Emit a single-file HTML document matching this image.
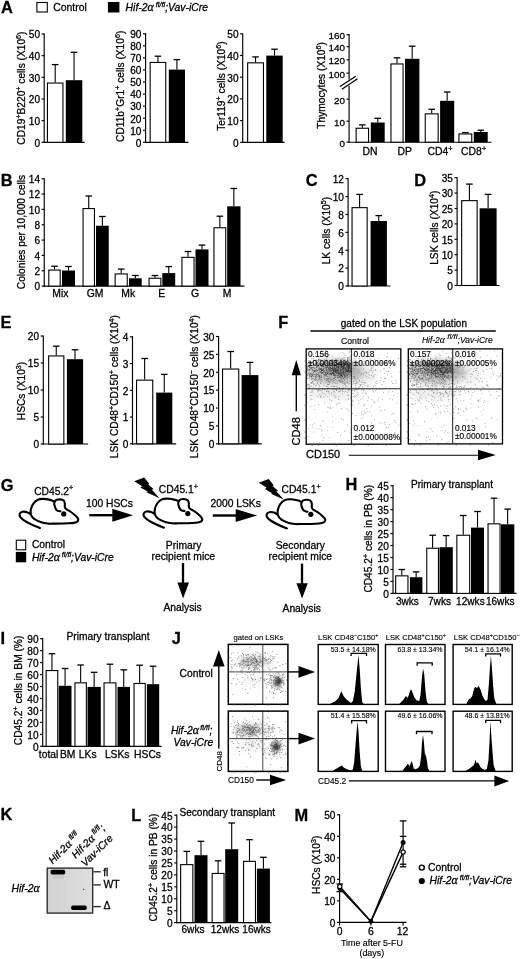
<!DOCTYPE html>
<html><head><meta charset="utf-8"><style>
html,body{margin:0;padding:0;background:#fff;}
svg{display:block;}
text{font-family:"Liberation Sans",sans-serif;fill:#000;stroke:#000;stroke-width:0.28px;}
svg{will-change:transform;filter:blur(0.3px);}
</style></head><body>
<svg width="520" height="959" viewBox="0 0 520 959">
<defs><filter id="dotblur" x="0" y="0" width="100%" height="100%"><feGaussianBlur stdDeviation="0.3"/></filter>
<filter id="b1" x="-100%" y="-100%" width="300%" height="300%"><feGaussianBlur stdDeviation="1.2"/></filter>
<filter id="b2" x="-100%" y="-100%" width="300%" height="300%"><feGaussianBlur stdDeviation="2"/></filter>
<filter id="b3" x="-100%" y="-100%" width="300%" height="300%"><feGaussianBlur stdDeviation="3"/></filter></defs>
<rect x="0" y="0" width="520" height="959" fill="#fff"/>
<text x="1.09" y="13.30" font-size="16.40" font-weight="bold">A</text>
<rect x="36.90" y="2.50" width="10.40" height="9.50" fill="#fff" stroke="#000" stroke-width="1.10"/>
<text x="53.30" y="10.80" font-size="10.40">Control</text>
<rect x="107.90" y="2.00" width="11.50" height="10.50" fill="#000"/>
<text x="125.60" y="10.80" font-size="10.40"><tspan font-style="italic">Hif-2</tspan><tspan font-style="italic" font-family="Liberation Serif" font-size="11.96">α</tspan><tspan font-style="italic" font-size="7.28" dy="-4.16"> fl/fl</tspan><tspan font-style="italic" dy="4.16">;Vav-iCre</tspan></text>
<line x1="44.20" y1="33.40" x2="44.20" y2="142.90" stroke="#000" stroke-width="1.15"/>
<line x1="41.60" y1="142.30" x2="44.20" y2="142.30" stroke="#000" stroke-width="1.15"/>
<text x="40.00" y="146.64" font-size="10.10" text-anchor="end">0</text>
<line x1="41.60" y1="120.64" x2="44.20" y2="120.64" stroke="#000" stroke-width="1.15"/>
<text x="40.00" y="124.98" font-size="10.10" text-anchor="end">10</text>
<line x1="41.60" y1="98.98" x2="44.20" y2="98.98" stroke="#000" stroke-width="1.15"/>
<text x="40.00" y="103.32" font-size="10.10" text-anchor="end">20</text>
<line x1="41.60" y1="77.32" x2="44.20" y2="77.32" stroke="#000" stroke-width="1.15"/>
<text x="40.00" y="81.66" font-size="10.10" text-anchor="end">30</text>
<line x1="41.60" y1="55.66" x2="44.20" y2="55.66" stroke="#000" stroke-width="1.15"/>
<text x="40.00" y="60.00" font-size="10.10" text-anchor="end">40</text>
<line x1="41.60" y1="34.00" x2="44.20" y2="34.00" stroke="#000" stroke-width="1.15"/>
<text x="40.00" y="38.34" font-size="10.10" text-anchor="end">50</text>
<line x1="43.60" y1="142.30" x2="84.60" y2="142.30" stroke="#000" stroke-width="1.15"/>
<line x1="55.20" y1="82.50" x2="55.20" y2="64.60" stroke="#000" stroke-width="1.10"/>
<line x1="51.90" y1="64.60" x2="58.50" y2="64.60" stroke="#000" stroke-width="1.30"/>
<rect x="47.45" y="83.05" width="15.50" height="59.25" fill="#fff" stroke="#000" stroke-width="1.10"/>
<line x1="74.05" y1="80.20" x2="74.05" y2="52.30" stroke="#000" stroke-width="1.10"/>
<line x1="70.75" y1="52.30" x2="77.35" y2="52.30" stroke="#000" stroke-width="1.30"/>
<rect x="65.80" y="80.20" width="16.50" height="62.10" fill="#000"/>
<text x="25.10" y="88.10" font-size="10.20" text-anchor="middle" transform="rotate(-90 25.10 88.10)"><tspan>CD19</tspan><tspan font-size="7.14" dy="-4.08">+</tspan><tspan dy="4.08">B220</tspan><tspan font-size="7.14" dy="-4.08">+</tspan><tspan dy="4.08"> cells (X10</tspan><tspan font-size="7.14" dy="-4.08">6</tspan><tspan dy="4.08">)</tspan></text>
<line x1="145.60" y1="33.20" x2="145.60" y2="142.90" stroke="#000" stroke-width="1.15"/>
<line x1="143.00" y1="142.30" x2="145.60" y2="142.30" stroke="#000" stroke-width="1.15"/>
<text x="141.40" y="146.64" font-size="10.10" text-anchor="end">0</text>
<line x1="143.00" y1="130.24" x2="145.60" y2="130.24" stroke="#000" stroke-width="1.15"/>
<text x="141.40" y="134.58" font-size="10.10" text-anchor="end">10</text>
<line x1="143.00" y1="118.19" x2="145.60" y2="118.19" stroke="#000" stroke-width="1.15"/>
<text x="141.40" y="122.52" font-size="10.10" text-anchor="end">20</text>
<line x1="143.00" y1="106.13" x2="145.60" y2="106.13" stroke="#000" stroke-width="1.15"/>
<text x="141.40" y="110.47" font-size="10.10" text-anchor="end">30</text>
<line x1="143.00" y1="94.08" x2="145.60" y2="94.08" stroke="#000" stroke-width="1.15"/>
<text x="141.40" y="98.41" font-size="10.10" text-anchor="end">40</text>
<line x1="143.00" y1="82.02" x2="145.60" y2="82.02" stroke="#000" stroke-width="1.15"/>
<text x="141.40" y="86.36" font-size="10.10" text-anchor="end">50</text>
<line x1="143.00" y1="69.97" x2="145.60" y2="69.97" stroke="#000" stroke-width="1.15"/>
<text x="141.40" y="74.30" font-size="10.10" text-anchor="end">60</text>
<line x1="143.00" y1="57.91" x2="145.60" y2="57.91" stroke="#000" stroke-width="1.15"/>
<text x="141.40" y="62.25" font-size="10.10" text-anchor="end">70</text>
<line x1="143.00" y1="45.86" x2="145.60" y2="45.86" stroke="#000" stroke-width="1.15"/>
<text x="141.40" y="50.19" font-size="10.10" text-anchor="end">80</text>
<line x1="143.00" y1="33.80" x2="145.60" y2="33.80" stroke="#000" stroke-width="1.15"/>
<text x="141.40" y="38.14" font-size="10.10" text-anchor="end">90</text>
<line x1="145.00" y1="142.30" x2="188.50" y2="142.30" stroke="#000" stroke-width="1.15"/>
<line x1="157.95" y1="61.90" x2="157.95" y2="56.20" stroke="#000" stroke-width="1.10"/>
<line x1="154.65" y1="56.20" x2="161.25" y2="56.20" stroke="#000" stroke-width="1.30"/>
<rect x="150.15" y="62.45" width="15.60" height="79.85" fill="#fff" stroke="#000" stroke-width="1.10"/>
<line x1="176.90" y1="69.60" x2="176.90" y2="59.60" stroke="#000" stroke-width="1.10"/>
<line x1="173.60" y1="59.60" x2="180.20" y2="59.60" stroke="#000" stroke-width="1.30"/>
<rect x="168.80" y="69.60" width="16.20" height="72.70" fill="#000"/>
<text x="124.50" y="86.30" font-size="10.20" text-anchor="middle" transform="rotate(-90 124.50 86.30)"><tspan>CD11b</tspan><tspan font-size="7.14" dy="-4.08">+</tspan><tspan dy="4.08">Gr1</tspan><tspan font-size="7.14" dy="-4.08">+</tspan><tspan dy="4.08"> cells (X10</tspan><tspan font-size="7.14" dy="-4.08">6</tspan><tspan dy="4.08">)</tspan></text>
<line x1="242.70" y1="33.20" x2="242.70" y2="142.90" stroke="#000" stroke-width="1.15"/>
<line x1="240.10" y1="142.30" x2="242.70" y2="142.30" stroke="#000" stroke-width="1.15"/>
<text x="238.50" y="146.64" font-size="10.10" text-anchor="end">0</text>
<line x1="240.10" y1="120.60" x2="242.70" y2="120.60" stroke="#000" stroke-width="1.15"/>
<text x="238.50" y="124.94" font-size="10.10" text-anchor="end">10</text>
<line x1="240.10" y1="98.90" x2="242.70" y2="98.90" stroke="#000" stroke-width="1.15"/>
<text x="238.50" y="103.24" font-size="10.10" text-anchor="end">20</text>
<line x1="240.10" y1="77.20" x2="242.70" y2="77.20" stroke="#000" stroke-width="1.15"/>
<text x="238.50" y="81.54" font-size="10.10" text-anchor="end">30</text>
<line x1="240.10" y1="55.50" x2="242.70" y2="55.50" stroke="#000" stroke-width="1.15"/>
<text x="238.50" y="59.84" font-size="10.10" text-anchor="end">40</text>
<line x1="240.10" y1="33.80" x2="242.70" y2="33.80" stroke="#000" stroke-width="1.15"/>
<text x="238.50" y="38.14" font-size="10.10" text-anchor="end">50</text>
<line x1="242.10" y1="142.30" x2="284.60" y2="142.30" stroke="#000" stroke-width="1.15"/>
<line x1="255.55" y1="62.30" x2="255.55" y2="56.90" stroke="#000" stroke-width="1.10"/>
<line x1="252.25" y1="56.90" x2="258.85" y2="56.90" stroke="#000" stroke-width="1.30"/>
<rect x="247.65" y="62.85" width="15.80" height="79.45" fill="#fff" stroke="#000" stroke-width="1.10"/>
<line x1="274.50" y1="55.60" x2="274.50" y2="49.20" stroke="#000" stroke-width="1.10"/>
<line x1="271.20" y1="49.20" x2="277.80" y2="49.20" stroke="#000" stroke-width="1.30"/>
<rect x="266.30" y="55.60" width="16.40" height="86.70" fill="#000"/>
<text x="224.60" y="86.10" font-size="10.20" text-anchor="middle" transform="rotate(-90 224.60 86.10)"><tspan>Ter119</tspan><tspan font-size="7.14" dy="-4.08">+</tspan><tspan dy="4.08"> cells (X10</tspan><tspan font-size="7.14" dy="-4.08">6</tspan><tspan dy="4.08">)</tspan></text>
<line x1="349.10" y1="34.10" x2="349.10" y2="79.60" stroke="#000" stroke-width="1.15"/>
<line x1="349.10" y1="85.80" x2="349.10" y2="142.80" stroke="#000" stroke-width="1.15"/>
<line x1="346.50" y1="142.10" x2="349.10" y2="142.10" stroke="#000" stroke-width="1.15"/>
<text x="344.90" y="146.70" font-size="9.90" text-anchor="end">0</text>
<line x1="346.50" y1="121.20" x2="349.10" y2="121.20" stroke="#000" stroke-width="1.15"/>
<text x="344.90" y="125.80" font-size="9.90" text-anchor="end">10</text>
<line x1="346.50" y1="99.20" x2="349.10" y2="99.20" stroke="#000" stroke-width="1.15"/>
<text x="344.90" y="103.80" font-size="9.90" text-anchor="end">20</text>
<line x1="346.50" y1="73.20" x2="349.10" y2="73.20" stroke="#000" stroke-width="1.15"/>
<text x="344.90" y="77.80" font-size="9.90" text-anchor="end">100</text>
<line x1="346.50" y1="59.80" x2="349.10" y2="59.80" stroke="#000" stroke-width="1.15"/>
<text x="344.90" y="64.40" font-size="9.90" text-anchor="end">120</text>
<line x1="346.50" y1="46.70" x2="349.10" y2="46.70" stroke="#000" stroke-width="1.15"/>
<text x="344.90" y="51.30" font-size="9.90" text-anchor="end">140</text>
<line x1="346.50" y1="34.70" x2="349.10" y2="34.70" stroke="#000" stroke-width="1.15"/>
<text x="344.90" y="39.30" font-size="9.90" text-anchor="end">160</text>
<line x1="340.00" y1="86.50" x2="355.80" y2="76.30" stroke="#000" stroke-width="1.30"/>
<line x1="341.90" y1="89.20" x2="357.50" y2="78.80" stroke="#000" stroke-width="1.30"/>
<line x1="348.50" y1="142.20" x2="491.50" y2="142.20" stroke="#000" stroke-width="1.15"/>
<line x1="362.35" y1="127.70" x2="362.35" y2="124.90" stroke="#000" stroke-width="1.10"/>
<line x1="359.05" y1="124.90" x2="365.65" y2="124.90" stroke="#000" stroke-width="1.30"/>
<rect x="356.15" y="128.25" width="12.40" height="13.95" fill="#fff" stroke="#000" stroke-width="1.10"/>
<line x1="377.75" y1="122.50" x2="377.75" y2="118.30" stroke="#000" stroke-width="1.10"/>
<line x1="374.45" y1="118.30" x2="381.05" y2="118.30" stroke="#000" stroke-width="1.30"/>
<rect x="370.80" y="122.50" width="13.90" height="19.70" fill="#000"/>
<line x1="397.00" y1="63.40" x2="397.00" y2="57.80" stroke="#000" stroke-width="1.10"/>
<line x1="393.70" y1="57.80" x2="400.30" y2="57.80" stroke="#000" stroke-width="1.30"/>
<rect x="390.95" y="63.95" width="12.10" height="78.25" fill="#fff" stroke="#000" stroke-width="1.10"/>
<line x1="412.20" y1="58.80" x2="412.20" y2="46.20" stroke="#000" stroke-width="1.10"/>
<line x1="408.90" y1="46.20" x2="415.50" y2="46.20" stroke="#000" stroke-width="1.30"/>
<rect x="405.00" y="58.80" width="14.40" height="83.40" fill="#000"/>
<line x1="431.70" y1="113.30" x2="431.70" y2="109.30" stroke="#000" stroke-width="1.10"/>
<line x1="428.40" y1="109.30" x2="435.00" y2="109.30" stroke="#000" stroke-width="1.30"/>
<rect x="425.25" y="113.85" width="12.90" height="28.35" fill="#fff" stroke="#000" stroke-width="1.10"/>
<line x1="447.15" y1="100.80" x2="447.15" y2="92.00" stroke="#000" stroke-width="1.10"/>
<line x1="443.85" y1="92.00" x2="450.45" y2="92.00" stroke="#000" stroke-width="1.30"/>
<rect x="440.10" y="100.80" width="14.10" height="41.40" fill="#000"/>
<line x1="465.35" y1="133.40" x2="465.35" y2="132.60" stroke="#000" stroke-width="1.10"/>
<line x1="462.05" y1="132.60" x2="468.65" y2="132.60" stroke="#000" stroke-width="1.30"/>
<rect x="458.95" y="133.95" width="12.80" height="8.25" fill="#fff" stroke="#000" stroke-width="1.10"/>
<line x1="480.75" y1="132.00" x2="480.75" y2="130.20" stroke="#000" stroke-width="1.10"/>
<line x1="477.45" y1="130.20" x2="484.05" y2="130.20" stroke="#000" stroke-width="1.30"/>
<rect x="473.80" y="132.00" width="13.90" height="10.20" fill="#000"/>
<text x="369.90" y="154.90" font-size="10.40" text-anchor="middle">DN</text>
<text x="404.60" y="154.90" font-size="10.40" text-anchor="middle">DP</text>
<text x="427.50" y="154.90" font-size="10.40"><tspan>CD4</tspan><tspan font-size="7.28" dy="-4.16">+</tspan></text>
<text x="461.10" y="154.90" font-size="10.40"><tspan>CD8</tspan><tspan font-size="7.28" dy="-4.16">+</tspan></text>
<text x="324.70" y="85.40" font-size="10.20" text-anchor="middle" transform="rotate(-90 324.70 85.40)"><tspan>Thymocytes (X10</tspan><tspan font-size="7.14" dy="-4.08">6</tspan><tspan dy="4.08">)</tspan></text>
<text x="0.73" y="185.80" font-size="16.40" font-weight="bold">B</text>
<line x1="44.25" y1="178.15" x2="44.25" y2="286.70" stroke="#000" stroke-width="1.15"/>
<line x1="41.65" y1="286.10" x2="44.25" y2="286.10" stroke="#000" stroke-width="1.15"/>
<text x="40.05" y="290.44" font-size="10.10" text-anchor="end">0</text>
<line x1="41.65" y1="270.76" x2="44.25" y2="270.76" stroke="#000" stroke-width="1.15"/>
<text x="40.05" y="275.10" font-size="10.10" text-anchor="end">2</text>
<line x1="41.65" y1="255.43" x2="44.25" y2="255.43" stroke="#000" stroke-width="1.15"/>
<text x="40.05" y="259.76" font-size="10.10" text-anchor="end">4</text>
<line x1="41.65" y1="240.09" x2="44.25" y2="240.09" stroke="#000" stroke-width="1.15"/>
<text x="40.05" y="244.43" font-size="10.10" text-anchor="end">6</text>
<line x1="41.65" y1="224.76" x2="44.25" y2="224.76" stroke="#000" stroke-width="1.15"/>
<text x="40.05" y="229.09" font-size="10.10" text-anchor="end">8</text>
<line x1="41.65" y1="209.42" x2="44.25" y2="209.42" stroke="#000" stroke-width="1.15"/>
<text x="40.05" y="213.76" font-size="10.10" text-anchor="end">10</text>
<line x1="41.65" y1="194.09" x2="44.25" y2="194.09" stroke="#000" stroke-width="1.15"/>
<text x="40.05" y="198.42" font-size="10.10" text-anchor="end">12</text>
<line x1="41.65" y1="178.75" x2="44.25" y2="178.75" stroke="#000" stroke-width="1.15"/>
<text x="40.05" y="183.09" font-size="10.10" text-anchor="end">14</text>
<line x1="43.65" y1="286.10" x2="244.50" y2="286.10" stroke="#000" stroke-width="1.15"/>
<line x1="54.50" y1="269.50" x2="54.50" y2="266.25" stroke="#000" stroke-width="1.10"/>
<line x1="51.20" y1="266.25" x2="57.80" y2="266.25" stroke="#000" stroke-width="1.30"/>
<rect x="48.80" y="270.05" width="11.40" height="16.05" fill="#fff" stroke="#000" stroke-width="1.10"/>
<line x1="68.50" y1="270.50" x2="68.50" y2="266.50" stroke="#000" stroke-width="1.10"/>
<line x1="65.20" y1="266.50" x2="71.80" y2="266.50" stroke="#000" stroke-width="1.30"/>
<rect x="62.00" y="270.50" width="13.00" height="15.60" fill="#000"/>
<line x1="88.75" y1="208.00" x2="88.75" y2="196.00" stroke="#000" stroke-width="1.10"/>
<line x1="85.45" y1="196.00" x2="92.05" y2="196.00" stroke="#000" stroke-width="1.30"/>
<rect x="83.05" y="208.55" width="11.40" height="77.55" fill="#fff" stroke="#000" stroke-width="1.10"/>
<line x1="102.38" y1="225.75" x2="102.38" y2="216.50" stroke="#000" stroke-width="1.10"/>
<line x1="99.08" y1="216.50" x2="105.67" y2="216.50" stroke="#000" stroke-width="1.30"/>
<rect x="96.00" y="225.75" width="12.75" height="60.35" fill="#000"/>
<line x1="121.20" y1="273.40" x2="121.20" y2="269.10" stroke="#000" stroke-width="1.10"/>
<line x1="117.90" y1="269.10" x2="124.50" y2="269.10" stroke="#000" stroke-width="1.30"/>
<rect x="115.15" y="273.95" width="12.10" height="12.15" fill="#fff" stroke="#000" stroke-width="1.10"/>
<line x1="135.35" y1="278.30" x2="135.35" y2="275.50" stroke="#000" stroke-width="1.10"/>
<line x1="132.05" y1="275.50" x2="138.65" y2="275.50" stroke="#000" stroke-width="1.30"/>
<rect x="129.00" y="278.30" width="12.70" height="7.80" fill="#000"/>
<line x1="154.95" y1="277.70" x2="154.95" y2="275.50" stroke="#000" stroke-width="1.10"/>
<line x1="151.65" y1="275.50" x2="158.25" y2="275.50" stroke="#000" stroke-width="1.30"/>
<rect x="149.05" y="278.25" width="11.80" height="7.85" fill="#fff" stroke="#000" stroke-width="1.10"/>
<line x1="168.75" y1="273.10" x2="168.75" y2="266.60" stroke="#000" stroke-width="1.10"/>
<line x1="165.45" y1="266.60" x2="172.05" y2="266.60" stroke="#000" stroke-width="1.30"/>
<rect x="162.30" y="273.10" width="12.90" height="13.00" fill="#000"/>
<line x1="188.00" y1="256.80" x2="188.00" y2="251.50" stroke="#000" stroke-width="1.10"/>
<line x1="184.70" y1="251.50" x2="191.30" y2="251.50" stroke="#000" stroke-width="1.30"/>
<rect x="181.95" y="257.35" width="12.10" height="28.75" fill="#fff" stroke="#000" stroke-width="1.10"/>
<line x1="202.00" y1="249.40" x2="202.00" y2="245.10" stroke="#000" stroke-width="1.10"/>
<line x1="198.70" y1="245.10" x2="205.30" y2="245.10" stroke="#000" stroke-width="1.30"/>
<rect x="195.50" y="249.40" width="13.00" height="36.70" fill="#000"/>
<line x1="219.85" y1="227.20" x2="219.85" y2="216.20" stroke="#000" stroke-width="1.10"/>
<line x1="216.55" y1="216.20" x2="223.15" y2="216.20" stroke="#000" stroke-width="1.30"/>
<rect x="213.95" y="227.75" width="11.80" height="58.35" fill="#fff" stroke="#000" stroke-width="1.10"/>
<line x1="233.85" y1="206.30" x2="233.85" y2="188.50" stroke="#000" stroke-width="1.10"/>
<line x1="230.55" y1="188.50" x2="237.15" y2="188.50" stroke="#000" stroke-width="1.30"/>
<rect x="227.20" y="206.30" width="13.30" height="79.80" fill="#000"/>
<text x="60.40" y="296.60" font-size="10.40" text-anchor="middle">Mix</text>
<text x="95.00" y="296.60" font-size="10.40" text-anchor="middle">GM</text>
<text x="128.20" y="296.60" font-size="10.40" text-anchor="middle">Mk</text>
<text x="161.80" y="296.60" font-size="10.40" text-anchor="middle">E</text>
<text x="195.00" y="296.60" font-size="10.40" text-anchor="middle">G</text>
<text x="227.00" y="296.60" font-size="10.40" text-anchor="middle">M</text>
<text x="25.10" y="232.00" font-size="10.20" text-anchor="middle" transform="rotate(-90 25.10 232.00)"><tspan>Colonies per 10,000 cells</tspan></text>
<text x="305.84" y="186.20" font-size="16.40" font-weight="bold">C</text>
<line x1="348.10" y1="178.10" x2="348.10" y2="286.60" stroke="#000" stroke-width="1.15"/>
<line x1="345.50" y1="286.00" x2="348.10" y2="286.00" stroke="#000" stroke-width="1.15"/>
<text x="343.90" y="290.34" font-size="10.10" text-anchor="end">0</text>
<line x1="345.50" y1="268.12" x2="348.10" y2="268.12" stroke="#000" stroke-width="1.15"/>
<text x="343.90" y="272.45" font-size="10.10" text-anchor="end">2</text>
<line x1="345.50" y1="250.23" x2="348.10" y2="250.23" stroke="#000" stroke-width="1.15"/>
<text x="343.90" y="254.57" font-size="10.10" text-anchor="end">4</text>
<line x1="345.50" y1="232.35" x2="348.10" y2="232.35" stroke="#000" stroke-width="1.15"/>
<text x="343.90" y="236.69" font-size="10.10" text-anchor="end">6</text>
<line x1="345.50" y1="214.47" x2="348.10" y2="214.47" stroke="#000" stroke-width="1.15"/>
<text x="343.90" y="218.80" font-size="10.10" text-anchor="end">8</text>
<line x1="345.50" y1="196.58" x2="348.10" y2="196.58" stroke="#000" stroke-width="1.15"/>
<text x="343.90" y="200.92" font-size="10.10" text-anchor="end">10</text>
<line x1="345.50" y1="178.70" x2="348.10" y2="178.70" stroke="#000" stroke-width="1.15"/>
<text x="343.90" y="183.04" font-size="10.10" text-anchor="end">12</text>
<line x1="347.50" y1="286.00" x2="390.40" y2="286.00" stroke="#000" stroke-width="1.15"/>
<line x1="359.60" y1="207.10" x2="359.60" y2="194.40" stroke="#000" stroke-width="1.10"/>
<line x1="356.30" y1="194.40" x2="362.90" y2="194.40" stroke="#000" stroke-width="1.30"/>
<rect x="352.05" y="207.65" width="15.10" height="78.35" fill="#fff" stroke="#000" stroke-width="1.10"/>
<line x1="378.75" y1="221.00" x2="378.75" y2="215.60" stroke="#000" stroke-width="1.10"/>
<line x1="375.45" y1="215.60" x2="382.05" y2="215.60" stroke="#000" stroke-width="1.30"/>
<rect x="370.60" y="221.00" width="16.30" height="65.00" fill="#000"/>
<text x="329.60" y="230.60" font-size="10.20" text-anchor="middle" transform="rotate(-90 329.60 230.60)"><tspan>LK cells (X10</tspan><tspan font-size="7.14" dy="-4.08">5</tspan><tspan dy="4.08">)</tspan></text>
<text x="414.23" y="186.00" font-size="16.40" font-weight="bold">D</text>
<line x1="457.10" y1="177.10" x2="457.10" y2="286.10" stroke="#000" stroke-width="1.15"/>
<line x1="454.50" y1="285.50" x2="457.10" y2="285.50" stroke="#000" stroke-width="1.15"/>
<text x="452.90" y="289.84" font-size="10.10" text-anchor="end">0</text>
<line x1="454.50" y1="270.10" x2="457.10" y2="270.10" stroke="#000" stroke-width="1.15"/>
<text x="452.90" y="274.44" font-size="10.10" text-anchor="end">5</text>
<line x1="454.50" y1="254.70" x2="457.10" y2="254.70" stroke="#000" stroke-width="1.15"/>
<text x="452.90" y="259.04" font-size="10.10" text-anchor="end">10</text>
<line x1="454.50" y1="239.30" x2="457.10" y2="239.30" stroke="#000" stroke-width="1.15"/>
<text x="452.90" y="243.64" font-size="10.10" text-anchor="end">15</text>
<line x1="454.50" y1="223.90" x2="457.10" y2="223.90" stroke="#000" stroke-width="1.15"/>
<text x="452.90" y="228.24" font-size="10.10" text-anchor="end">20</text>
<line x1="454.50" y1="208.50" x2="457.10" y2="208.50" stroke="#000" stroke-width="1.15"/>
<text x="452.90" y="212.84" font-size="10.10" text-anchor="end">25</text>
<line x1="454.50" y1="193.10" x2="457.10" y2="193.10" stroke="#000" stroke-width="1.15"/>
<text x="452.90" y="197.44" font-size="10.10" text-anchor="end">30</text>
<line x1="454.50" y1="177.70" x2="457.10" y2="177.70" stroke="#000" stroke-width="1.15"/>
<text x="452.90" y="182.04" font-size="10.10" text-anchor="end">35</text>
<line x1="456.50" y1="285.50" x2="499.50" y2="285.50" stroke="#000" stroke-width="1.15"/>
<line x1="469.40" y1="200.10" x2="469.40" y2="184.10" stroke="#000" stroke-width="1.10"/>
<line x1="466.10" y1="184.10" x2="472.70" y2="184.10" stroke="#000" stroke-width="1.30"/>
<rect x="461.65" y="200.65" width="15.50" height="84.85" fill="#fff" stroke="#000" stroke-width="1.10"/>
<line x1="488.10" y1="208.30" x2="488.10" y2="194.40" stroke="#000" stroke-width="1.10"/>
<line x1="484.80" y1="194.40" x2="491.40" y2="194.40" stroke="#000" stroke-width="1.30"/>
<rect x="479.60" y="208.30" width="17.00" height="77.20" fill="#000"/>
<text x="438.00" y="227.70" font-size="10.20" text-anchor="middle" transform="rotate(-90 438.00 227.70)"><tspan>LSK cells (X10</tspan><tspan font-size="7.14" dy="-4.08">4</tspan><tspan dy="4.08">)</tspan></text>
<text x="0.43" y="327.50" font-size="16.40" font-weight="bold">E</text>
<line x1="43.30" y1="335.40" x2="43.30" y2="444.60" stroke="#000" stroke-width="1.15"/>
<line x1="40.70" y1="444.00" x2="43.30" y2="444.00" stroke="#000" stroke-width="1.15"/>
<text x="39.10" y="448.34" font-size="10.10" text-anchor="end">0</text>
<line x1="40.70" y1="417.00" x2="43.30" y2="417.00" stroke="#000" stroke-width="1.15"/>
<text x="39.10" y="421.34" font-size="10.10" text-anchor="end">5</text>
<line x1="40.70" y1="390.00" x2="43.30" y2="390.00" stroke="#000" stroke-width="1.15"/>
<text x="39.10" y="394.34" font-size="10.10" text-anchor="end">10</text>
<line x1="40.70" y1="363.00" x2="43.30" y2="363.00" stroke="#000" stroke-width="1.15"/>
<text x="39.10" y="367.34" font-size="10.10" text-anchor="end">15</text>
<line x1="40.70" y1="336.00" x2="43.30" y2="336.00" stroke="#000" stroke-width="1.15"/>
<text x="39.10" y="340.34" font-size="10.10" text-anchor="end">20</text>
<line x1="42.70" y1="444.00" x2="88.10" y2="444.00" stroke="#000" stroke-width="1.15"/>
<line x1="56.25" y1="355.40" x2="56.25" y2="346.20" stroke="#000" stroke-width="1.10"/>
<line x1="52.95" y1="346.20" x2="59.55" y2="346.20" stroke="#000" stroke-width="1.30"/>
<rect x="48.65" y="355.95" width="15.20" height="88.05" fill="#fff" stroke="#000" stroke-width="1.10"/>
<line x1="75.00" y1="359.20" x2="75.00" y2="349.80" stroke="#000" stroke-width="1.10"/>
<line x1="71.70" y1="349.80" x2="78.30" y2="349.80" stroke="#000" stroke-width="1.30"/>
<rect x="66.90" y="359.20" width="16.20" height="84.80" fill="#000"/>
<text x="25.00" y="391.00" font-size="10.20" text-anchor="middle" transform="rotate(-90 25.00 391.00)"><tspan>HSCs (X10</tspan><tspan font-size="7.14" dy="-4.08">3</tspan><tspan dy="4.08">)</tspan></text>
<line x1="132.50" y1="336.20" x2="132.50" y2="444.40" stroke="#000" stroke-width="1.15"/>
<line x1="129.90" y1="443.80" x2="132.50" y2="443.80" stroke="#000" stroke-width="1.15"/>
<text x="128.30" y="448.14" font-size="10.10" text-anchor="end">0</text>
<line x1="129.90" y1="417.05" x2="132.50" y2="417.05" stroke="#000" stroke-width="1.15"/>
<text x="128.30" y="421.39" font-size="10.10" text-anchor="end">1</text>
<line x1="129.90" y1="390.30" x2="132.50" y2="390.30" stroke="#000" stroke-width="1.15"/>
<text x="128.30" y="394.64" font-size="10.10" text-anchor="end">2</text>
<line x1="129.90" y1="363.55" x2="132.50" y2="363.55" stroke="#000" stroke-width="1.15"/>
<text x="128.30" y="367.89" font-size="10.10" text-anchor="end">3</text>
<line x1="129.90" y1="336.80" x2="132.50" y2="336.80" stroke="#000" stroke-width="1.15"/>
<text x="128.30" y="341.14" font-size="10.10" text-anchor="end">4</text>
<line x1="131.90" y1="443.80" x2="176.20" y2="443.80" stroke="#000" stroke-width="1.15"/>
<line x1="144.65" y1="379.60" x2="144.65" y2="358.50" stroke="#000" stroke-width="1.10"/>
<line x1="141.35" y1="358.50" x2="147.95" y2="358.50" stroke="#000" stroke-width="1.30"/>
<rect x="136.55" y="380.15" width="16.20" height="63.65" fill="#fff" stroke="#000" stroke-width="1.10"/>
<line x1="164.25" y1="392.60" x2="164.25" y2="374.40" stroke="#000" stroke-width="1.10"/>
<line x1="160.95" y1="374.40" x2="167.55" y2="374.40" stroke="#000" stroke-width="1.30"/>
<rect x="156.20" y="392.60" width="16.10" height="51.20" fill="#000"/>
<text x="118.40" y="386.60" font-size="10.20" text-anchor="middle" transform="rotate(-90 118.40 386.60)"><tspan>LSK CD48</tspan><tspan font-size="7.14" dy="-4.08">+</tspan><tspan dy="4.08">CD150</tspan><tspan font-size="7.14" dy="-4.08">+</tspan><tspan dy="4.08"> cells (X10</tspan><tspan font-size="7.14" dy="-4.08">4</tspan><tspan dy="4.08">)</tspan></text>
<line x1="218.60" y1="335.90" x2="218.60" y2="444.40" stroke="#000" stroke-width="1.15"/>
<line x1="216.00" y1="443.80" x2="218.60" y2="443.80" stroke="#000" stroke-width="1.15"/>
<text x="214.40" y="448.14" font-size="10.10" text-anchor="end">0</text>
<line x1="216.00" y1="425.92" x2="218.60" y2="425.92" stroke="#000" stroke-width="1.15"/>
<text x="214.40" y="430.25" font-size="10.10" text-anchor="end">5</text>
<line x1="216.00" y1="408.03" x2="218.60" y2="408.03" stroke="#000" stroke-width="1.15"/>
<text x="214.40" y="412.37" font-size="10.10" text-anchor="end">10</text>
<line x1="216.00" y1="390.15" x2="218.60" y2="390.15" stroke="#000" stroke-width="1.15"/>
<text x="214.40" y="394.49" font-size="10.10" text-anchor="end">15</text>
<line x1="216.00" y1="372.27" x2="218.60" y2="372.27" stroke="#000" stroke-width="1.15"/>
<text x="214.40" y="376.60" font-size="10.10" text-anchor="end">20</text>
<line x1="216.00" y1="354.38" x2="218.60" y2="354.38" stroke="#000" stroke-width="1.15"/>
<text x="214.40" y="358.72" font-size="10.10" text-anchor="end">25</text>
<line x1="216.00" y1="336.50" x2="218.60" y2="336.50" stroke="#000" stroke-width="1.15"/>
<text x="214.40" y="340.84" font-size="10.10" text-anchor="end">30</text>
<line x1="218.00" y1="443.80" x2="261.80" y2="443.80" stroke="#000" stroke-width="1.15"/>
<line x1="230.65" y1="368.50" x2="230.65" y2="351.50" stroke="#000" stroke-width="1.10"/>
<line x1="227.35" y1="351.50" x2="233.95" y2="351.50" stroke="#000" stroke-width="1.30"/>
<rect x="222.55" y="369.05" width="16.20" height="74.75" fill="#fff" stroke="#000" stroke-width="1.10"/>
<line x1="250.00" y1="375.10" x2="250.00" y2="362.40" stroke="#000" stroke-width="1.10"/>
<line x1="246.70" y1="362.40" x2="253.30" y2="362.40" stroke="#000" stroke-width="1.30"/>
<rect x="241.60" y="375.10" width="16.80" height="68.70" fill="#000"/>
<text x="198.20" y="386.60" font-size="10.20" text-anchor="middle" transform="rotate(-90 198.20 386.60)"><tspan>LSK CD48</tspan><tspan font-size="7.14" dy="-4.08">+</tspan><tspan dy="4.08">CD150</tspan><tspan font-size="7.14" dy="-4.08">−</tspan><tspan dy="4.08"> cells (X10</tspan><tspan font-size="7.14" dy="-4.08">4</tspan><tspan dy="4.08">)</tspan></text>
<text x="345.43" y="490.20" font-size="16.40" font-weight="bold">H</text>
<line x1="393.00" y1="485.10" x2="393.00" y2="594.00" stroke="#000" stroke-width="1.15"/>
<line x1="390.40" y1="593.40" x2="393.00" y2="593.40" stroke="#000" stroke-width="1.15"/>
<text x="388.80" y="597.74" font-size="10.10" text-anchor="end">0</text>
<line x1="390.40" y1="581.43" x2="393.00" y2="581.43" stroke="#000" stroke-width="1.15"/>
<text x="388.80" y="585.77" font-size="10.10" text-anchor="end">5</text>
<line x1="390.40" y1="569.47" x2="393.00" y2="569.47" stroke="#000" stroke-width="1.15"/>
<text x="388.80" y="573.80" font-size="10.10" text-anchor="end">10</text>
<line x1="390.40" y1="557.50" x2="393.00" y2="557.50" stroke="#000" stroke-width="1.15"/>
<text x="388.80" y="561.84" font-size="10.10" text-anchor="end">15</text>
<line x1="390.40" y1="545.53" x2="393.00" y2="545.53" stroke="#000" stroke-width="1.15"/>
<text x="388.80" y="549.87" font-size="10.10" text-anchor="end">20</text>
<line x1="390.40" y1="533.57" x2="393.00" y2="533.57" stroke="#000" stroke-width="1.15"/>
<text x="388.80" y="537.90" font-size="10.10" text-anchor="end">25</text>
<line x1="390.40" y1="521.60" x2="393.00" y2="521.60" stroke="#000" stroke-width="1.15"/>
<text x="388.80" y="525.94" font-size="10.10" text-anchor="end">30</text>
<line x1="390.40" y1="509.63" x2="393.00" y2="509.63" stroke="#000" stroke-width="1.15"/>
<text x="388.80" y="513.97" font-size="10.10" text-anchor="end">35</text>
<line x1="390.40" y1="497.67" x2="393.00" y2="497.67" stroke="#000" stroke-width="1.15"/>
<text x="388.80" y="502.00" font-size="10.10" text-anchor="end">40</text>
<line x1="390.40" y1="485.70" x2="393.00" y2="485.70" stroke="#000" stroke-width="1.15"/>
<text x="388.80" y="490.04" font-size="10.10" text-anchor="end">45</text>
<line x1="392.40" y1="593.40" x2="516.50" y2="593.40" stroke="#000" stroke-width="1.15"/>
<line x1="401.80" y1="575.30" x2="401.80" y2="569.50" stroke="#000" stroke-width="1.10"/>
<line x1="398.50" y1="569.50" x2="405.10" y2="569.50" stroke="#000" stroke-width="1.30"/>
<rect x="395.65" y="575.85" width="12.30" height="17.55" fill="#fff" stroke="#000" stroke-width="1.10"/>
<line x1="416.15" y1="577.20" x2="416.15" y2="571.90" stroke="#000" stroke-width="1.10"/>
<line x1="412.85" y1="571.90" x2="419.45" y2="571.90" stroke="#000" stroke-width="1.30"/>
<rect x="409.90" y="577.20" width="12.50" height="16.20" fill="#000"/>
<line x1="432.60" y1="547.70" x2="432.60" y2="535.20" stroke="#000" stroke-width="1.10"/>
<line x1="429.30" y1="535.20" x2="435.90" y2="535.20" stroke="#000" stroke-width="1.30"/>
<rect x="426.75" y="548.25" width="11.70" height="45.15" fill="#fff" stroke="#000" stroke-width="1.10"/>
<line x1="446.15" y1="547.20" x2="446.15" y2="535.60" stroke="#000" stroke-width="1.10"/>
<line x1="442.85" y1="535.60" x2="449.45" y2="535.60" stroke="#000" stroke-width="1.30"/>
<rect x="439.50" y="547.20" width="13.30" height="46.20" fill="#000"/>
<line x1="463.25" y1="534.70" x2="463.25" y2="515.50" stroke="#000" stroke-width="1.10"/>
<line x1="459.95" y1="515.50" x2="466.55" y2="515.50" stroke="#000" stroke-width="1.30"/>
<rect x="456.85" y="535.25" width="12.80" height="58.15" fill="#fff" stroke="#000" stroke-width="1.10"/>
<line x1="477.50" y1="527.60" x2="477.50" y2="511.50" stroke="#000" stroke-width="1.10"/>
<line x1="474.20" y1="511.50" x2="480.80" y2="511.50" stroke="#000" stroke-width="1.30"/>
<rect x="471.00" y="527.60" width="13.00" height="65.80" fill="#000"/>
<line x1="494.05" y1="523.30" x2="494.05" y2="498.20" stroke="#000" stroke-width="1.10"/>
<line x1="490.75" y1="498.20" x2="497.35" y2="498.20" stroke="#000" stroke-width="1.30"/>
<rect x="488.05" y="523.85" width="12.00" height="69.55" fill="#fff" stroke="#000" stroke-width="1.10"/>
<line x1="507.65" y1="524.30" x2="507.65" y2="509.10" stroke="#000" stroke-width="1.10"/>
<line x1="504.35" y1="509.10" x2="510.95" y2="509.10" stroke="#000" stroke-width="1.30"/>
<rect x="501.00" y="524.30" width="13.30" height="69.10" fill="#000"/>
<text x="407.40" y="605.10" font-size="10.10" text-anchor="middle">3wks</text>
<text x="439.50" y="605.10" font-size="10.10" text-anchor="middle">7wks</text>
<text x="470.40" y="605.10" font-size="10.10" text-anchor="middle">12wks</text>
<text x="500.20" y="605.10" font-size="10.10" text-anchor="middle">16wks</text>
<text x="410.90" y="488.10" font-size="10.15">Primary transplant</text>
<text x="372.50" y="538.70" font-size="10.20" text-anchor="middle" transform="rotate(-90 372.50 538.70)"><tspan>CD45.2</tspan><tspan font-size="7.14" dy="-4.08">+</tspan><tspan dy="4.08"> cells in PB (%)</tspan></text>
<text x="0.53" y="643.50" font-size="16.40" font-weight="bold">I</text>
<line x1="42.70" y1="638.10" x2="42.70" y2="746.90" stroke="#000" stroke-width="1.15"/>
<line x1="40.10" y1="746.30" x2="42.70" y2="746.30" stroke="#000" stroke-width="1.15"/>
<text x="38.50" y="750.64" font-size="10.10" text-anchor="end">0</text>
<line x1="40.10" y1="734.34" x2="42.70" y2="734.34" stroke="#000" stroke-width="1.15"/>
<text x="38.50" y="738.68" font-size="10.10" text-anchor="end">10</text>
<line x1="40.10" y1="722.39" x2="42.70" y2="722.39" stroke="#000" stroke-width="1.15"/>
<text x="38.50" y="726.72" font-size="10.10" text-anchor="end">20</text>
<line x1="40.10" y1="710.43" x2="42.70" y2="710.43" stroke="#000" stroke-width="1.15"/>
<text x="38.50" y="714.77" font-size="10.10" text-anchor="end">30</text>
<line x1="40.10" y1="698.48" x2="42.70" y2="698.48" stroke="#000" stroke-width="1.15"/>
<text x="38.50" y="702.81" font-size="10.10" text-anchor="end">40</text>
<line x1="40.10" y1="686.52" x2="42.70" y2="686.52" stroke="#000" stroke-width="1.15"/>
<text x="38.50" y="690.86" font-size="10.10" text-anchor="end">50</text>
<line x1="40.10" y1="674.57" x2="42.70" y2="674.57" stroke="#000" stroke-width="1.15"/>
<text x="38.50" y="678.90" font-size="10.10" text-anchor="end">60</text>
<line x1="40.10" y1="662.61" x2="42.70" y2="662.61" stroke="#000" stroke-width="1.15"/>
<text x="38.50" y="666.95" font-size="10.10" text-anchor="end">70</text>
<line x1="40.10" y1="650.66" x2="42.70" y2="650.66" stroke="#000" stroke-width="1.15"/>
<text x="38.50" y="654.99" font-size="10.10" text-anchor="end">80</text>
<line x1="40.10" y1="638.70" x2="42.70" y2="638.70" stroke="#000" stroke-width="1.15"/>
<text x="38.50" y="643.04" font-size="10.10" text-anchor="end">90</text>
<line x1="42.10" y1="746.30" x2="161.70" y2="746.30" stroke="#000" stroke-width="1.15"/>
<line x1="51.95" y1="670.00" x2="51.95" y2="653.70" stroke="#000" stroke-width="1.10"/>
<line x1="48.65" y1="653.70" x2="55.25" y2="653.70" stroke="#000" stroke-width="1.30"/>
<rect x="46.15" y="670.55" width="11.60" height="75.75" fill="#fff" stroke="#000" stroke-width="1.10"/>
<line x1="65.10" y1="685.80" x2="65.10" y2="668.50" stroke="#000" stroke-width="1.10"/>
<line x1="61.80" y1="668.50" x2="68.40" y2="668.50" stroke="#000" stroke-width="1.30"/>
<rect x="58.70" y="685.80" width="12.80" height="60.50" fill="#000"/>
<line x1="80.65" y1="682.30" x2="80.65" y2="665.00" stroke="#000" stroke-width="1.10"/>
<line x1="77.35" y1="665.00" x2="83.95" y2="665.00" stroke="#000" stroke-width="1.30"/>
<rect x="74.95" y="682.85" width="11.40" height="63.45" fill="#fff" stroke="#000" stroke-width="1.10"/>
<line x1="94.15" y1="686.90" x2="94.15" y2="672.30" stroke="#000" stroke-width="1.10"/>
<line x1="90.85" y1="672.30" x2="97.45" y2="672.30" stroke="#000" stroke-width="1.30"/>
<rect x="87.50" y="686.90" width="13.30" height="59.40" fill="#000"/>
<line x1="110.00" y1="682.30" x2="110.00" y2="664.20" stroke="#000" stroke-width="1.10"/>
<line x1="106.70" y1="664.20" x2="113.30" y2="664.20" stroke="#000" stroke-width="1.30"/>
<rect x="104.05" y="682.85" width="11.90" height="63.45" fill="#fff" stroke="#000" stroke-width="1.10"/>
<line x1="123.75" y1="686.90" x2="123.75" y2="669.80" stroke="#000" stroke-width="1.10"/>
<line x1="120.45" y1="669.80" x2="127.05" y2="669.80" stroke="#000" stroke-width="1.30"/>
<rect x="117.50" y="686.90" width="12.50" height="59.40" fill="#000"/>
<line x1="139.65" y1="682.90" x2="139.65" y2="665.20" stroke="#000" stroke-width="1.10"/>
<line x1="136.35" y1="665.20" x2="142.95" y2="665.20" stroke="#000" stroke-width="1.30"/>
<rect x="134.05" y="683.45" width="11.20" height="62.85" fill="#fff" stroke="#000" stroke-width="1.10"/>
<line x1="153.05" y1="684.20" x2="153.05" y2="666.20" stroke="#000" stroke-width="1.10"/>
<line x1="149.75" y1="666.20" x2="156.35" y2="666.20" stroke="#000" stroke-width="1.30"/>
<rect x="146.90" y="684.20" width="12.30" height="62.10" fill="#000"/>
<text x="38.80" y="757.80" font-size="10.30">total</text>
<text x="59.90" y="757.80" font-size="10.30">BM</text>
<text x="78.80" y="757.80" font-size="10.30">LKs</text>
<text x="104.90" y="757.80" font-size="10.30">LSKs</text>
<text x="134.10" y="757.80" font-size="10.30">HSCs</text>
<text x="66.40" y="640.30" font-size="10.25">Primary transplant</text>
<text x="22.00" y="690.40" font-size="10.20" text-anchor="middle" transform="rotate(-90 22.00 690.40)"><tspan>CD45.2</tspan><tspan font-size="7.14" dy="-4.08">+</tspan><tspan dy="4.08"> cells in BM (%)</tspan></text>
<text x="131.33" y="820.50" font-size="16.40" font-weight="bold">L</text>
<line x1="176.80" y1="814.60" x2="176.80" y2="923.20" stroke="#000" stroke-width="1.15"/>
<line x1="174.20" y1="922.60" x2="176.80" y2="922.60" stroke="#000" stroke-width="1.15"/>
<text x="172.60" y="926.94" font-size="10.10" text-anchor="end">0</text>
<line x1="174.20" y1="910.67" x2="176.80" y2="910.67" stroke="#000" stroke-width="1.15"/>
<text x="172.60" y="915.00" font-size="10.10" text-anchor="end">5</text>
<line x1="174.20" y1="898.73" x2="176.80" y2="898.73" stroke="#000" stroke-width="1.15"/>
<text x="172.60" y="903.07" font-size="10.10" text-anchor="end">10</text>
<line x1="174.20" y1="886.80" x2="176.80" y2="886.80" stroke="#000" stroke-width="1.15"/>
<text x="172.60" y="891.14" font-size="10.10" text-anchor="end">15</text>
<line x1="174.20" y1="874.87" x2="176.80" y2="874.87" stroke="#000" stroke-width="1.15"/>
<text x="172.60" y="879.20" font-size="10.10" text-anchor="end">20</text>
<line x1="174.20" y1="862.93" x2="176.80" y2="862.93" stroke="#000" stroke-width="1.15"/>
<text x="172.60" y="867.27" font-size="10.10" text-anchor="end">25</text>
<line x1="174.20" y1="851.00" x2="176.80" y2="851.00" stroke="#000" stroke-width="1.15"/>
<text x="172.60" y="855.34" font-size="10.10" text-anchor="end">30</text>
<line x1="174.20" y1="839.07" x2="176.80" y2="839.07" stroke="#000" stroke-width="1.15"/>
<text x="172.60" y="843.40" font-size="10.10" text-anchor="end">35</text>
<line x1="174.20" y1="827.13" x2="176.80" y2="827.13" stroke="#000" stroke-width="1.15"/>
<text x="172.60" y="831.47" font-size="10.10" text-anchor="end">40</text>
<line x1="174.20" y1="815.20" x2="176.80" y2="815.20" stroke="#000" stroke-width="1.15"/>
<text x="172.60" y="819.54" font-size="10.10" text-anchor="end">45</text>
<line x1="176.20" y1="922.60" x2="271.30" y2="922.60" stroke="#000" stroke-width="1.15"/>
<line x1="186.75" y1="864.10" x2="186.75" y2="851.40" stroke="#000" stroke-width="1.10"/>
<line x1="183.45" y1="851.40" x2="190.05" y2="851.40" stroke="#000" stroke-width="1.30"/>
<rect x="180.65" y="864.65" width="12.20" height="57.95" fill="#fff" stroke="#000" stroke-width="1.10"/>
<line x1="201.00" y1="855.20" x2="201.00" y2="841.30" stroke="#000" stroke-width="1.10"/>
<line x1="197.70" y1="841.30" x2="204.30" y2="841.30" stroke="#000" stroke-width="1.30"/>
<rect x="194.50" y="855.20" width="13.00" height="67.40" fill="#000"/>
<line x1="218.10" y1="872.90" x2="218.10" y2="860.80" stroke="#000" stroke-width="1.10"/>
<line x1="214.80" y1="860.80" x2="221.40" y2="860.80" stroke="#000" stroke-width="1.30"/>
<rect x="212.15" y="873.45" width="11.90" height="49.15" fill="#fff" stroke="#000" stroke-width="1.10"/>
<line x1="231.70" y1="849.20" x2="231.70" y2="823.00" stroke="#000" stroke-width="1.10"/>
<line x1="228.40" y1="823.00" x2="235.00" y2="823.00" stroke="#000" stroke-width="1.30"/>
<rect x="225.20" y="849.20" width="13.00" height="73.40" fill="#000"/>
<line x1="249.50" y1="860.80" x2="249.50" y2="839.70" stroke="#000" stroke-width="1.10"/>
<line x1="246.20" y1="839.70" x2="252.80" y2="839.70" stroke="#000" stroke-width="1.30"/>
<rect x="243.55" y="861.35" width="11.90" height="61.25" fill="#fff" stroke="#000" stroke-width="1.10"/>
<line x1="263.40" y1="868.60" x2="263.40" y2="857.30" stroke="#000" stroke-width="1.10"/>
<line x1="260.10" y1="857.30" x2="266.70" y2="857.30" stroke="#000" stroke-width="1.30"/>
<rect x="256.90" y="868.60" width="13.00" height="54.00" fill="#000"/>
<text x="193.00" y="933.30" font-size="10.10" text-anchor="middle">6wks</text>
<text x="225.00" y="933.30" font-size="10.10" text-anchor="middle">12wks</text>
<text x="256.60" y="933.30" font-size="10.10" text-anchor="middle">16wks</text>
<text x="179.40" y="816.20" font-size="10.15">Secondary transplant</text>
<text x="156.70" y="867.60" font-size="10.20" text-anchor="middle" transform="rotate(-90 156.70 867.60)"><tspan>CD45.2</tspan><tspan font-size="7.14" dy="-4.08">+</tspan><tspan dy="4.08"> cells in PB (%)</tspan></text>
<text x="294.53" y="820.50" font-size="16.40" font-weight="bold">M</text>
<line x1="339.60" y1="814.20" x2="339.60" y2="923.00" stroke="#000" stroke-width="1.15"/>
<line x1="337.00" y1="922.40" x2="339.60" y2="922.40" stroke="#000" stroke-width="1.15"/>
<text x="335.40" y="926.74" font-size="10.10" text-anchor="end">0</text>
<line x1="337.00" y1="900.88" x2="339.60" y2="900.88" stroke="#000" stroke-width="1.15"/>
<text x="335.40" y="905.22" font-size="10.10" text-anchor="end">10</text>
<line x1="337.00" y1="879.36" x2="339.60" y2="879.36" stroke="#000" stroke-width="1.15"/>
<text x="335.40" y="883.70" font-size="10.10" text-anchor="end">20</text>
<line x1="337.00" y1="857.84" x2="339.60" y2="857.84" stroke="#000" stroke-width="1.15"/>
<text x="335.40" y="862.18" font-size="10.10" text-anchor="end">30</text>
<line x1="337.00" y1="836.32" x2="339.60" y2="836.32" stroke="#000" stroke-width="1.15"/>
<text x="335.40" y="840.66" font-size="10.10" text-anchor="end">40</text>
<line x1="337.00" y1="814.80" x2="339.60" y2="814.80" stroke="#000" stroke-width="1.15"/>
<text x="335.40" y="819.14" font-size="10.10" text-anchor="end">50</text>
<line x1="339.00" y1="922.40" x2="406.50" y2="922.40" stroke="#000" stroke-width="1.15"/>
<line x1="339.60" y1="922.40" x2="339.60" y2="925.60" stroke="#000" stroke-width="1.15"/>
<line x1="370.90" y1="922.40" x2="370.90" y2="925.60" stroke="#000" stroke-width="1.15"/>
<line x1="403.10" y1="922.40" x2="403.10" y2="925.60" stroke="#000" stroke-width="1.15"/>
<text x="339.60" y="935.40" font-size="10.40" text-anchor="middle">0</text>
<text x="370.90" y="935.40" font-size="10.40" text-anchor="middle">6</text>
<text x="402.60" y="935.40" font-size="10.40" text-anchor="middle">12</text>
<text x="371.90" y="946.30" font-size="8.90" text-anchor="middle" style="stroke-width:0.15px">Time after 5-FU</text>
<text x="371.80" y="955.60" font-size="8.90" text-anchor="middle" style="stroke-width:0.15px">(days)</text>
<text x="319.60" y="864.80" font-size="10.20" text-anchor="middle" transform="rotate(-90 319.60 864.80)"><tspan>HSCs (X10</tspan><tspan font-size="7.14" dy="-4.08">3</tspan><tspan dy="4.08">)</tspan></text>
<line x1="403.10" y1="820.90" x2="403.10" y2="866.80" stroke="#000" stroke-width="1.20"/>
<line x1="339.80" y1="884.00" x2="339.80" y2="891.60" stroke="#000" stroke-width="1.20"/>
<line x1="399.80" y1="820.90" x2="406.40" y2="820.90" stroke="#000" stroke-width="1.30"/>
<line x1="399.80" y1="836.40" x2="406.40" y2="836.40" stroke="#000" stroke-width="1.30"/>
<line x1="399.80" y1="864.20" x2="406.40" y2="864.20" stroke="#000" stroke-width="1.30"/>
<line x1="399.80" y1="866.80" x2="406.40" y2="866.80" stroke="#000" stroke-width="1.30"/>
<line x1="336.50" y1="884.00" x2="343.10" y2="884.00" stroke="#000" stroke-width="1.30"/>
<line x1="336.50" y1="891.60" x2="343.10" y2="891.60" stroke="#000" stroke-width="1.30"/>
<polyline points="339.8,886.4 370.9,921.4 403.1,852.1" fill="none" stroke="#000" stroke-width="1.4"/>
<polyline points="339.8,888.4 370.9,921.4 403.1,842.6" fill="none" stroke="#000" stroke-width="1.4"/>
<circle cx="339.8" cy="888.4" r="2.4" fill="#000"/>
<circle cx="339.8" cy="886.4" r="2.1" fill="#fff" stroke="#000" stroke-width="1.2"/>
<circle cx="370.9" cy="921.4" r="2.4" fill="#000"/>
<circle cx="403.1" cy="842.6" r="2.5" fill="#000"/>
<circle cx="403.1" cy="852.1" r="2.1" fill="#fff" stroke="#000" stroke-width="1.2"/>
<circle cx="421.8" cy="867.6" r="2.5" fill="#fff" stroke="#000" stroke-width="1.4"/>
<text x="428.00" y="870.80" font-size="10.40">Control</text>
<circle cx="421.8" cy="881.0" r="3.1" fill="#000"/>
<text x="429.50" y="884.10" font-size="10.40"><tspan font-style="italic">Hif-2</tspan><tspan font-style="italic" font-family="Liberation Serif" font-size="11.96">α</tspan><tspan font-style="italic" font-size="7.28" dy="-4.16"> fl/fl</tspan><tspan font-style="italic" dy="4.16">;Vav-iCre</tspan></text>
<text x="0.43" y="820.30" font-size="16.40" font-weight="bold">K</text>
<defs><linearGradient id="gel" x1="0" y1="0" x2="1" y2="0"><stop offset="0" stop-color="#d2d2d2"/><stop offset="1" stop-color="#dedede"/></linearGradient><filter id="bl" x="-20%" y="-50%" width="140%" height="200%"><feGaussianBlur stdDeviation="0.45"/></filter></defs>
<rect x="47.20" y="868.10" width="45.50" height="45.00" fill="url(#gel)" stroke="#222" stroke-width="1.30"/>
<rect x="53" y="875.8" width="11" height="2.6" fill="#c6c6c6" filter="url(#bl)"/>
<rect x="50.6" y="869.8" width="14.6" height="4.6" rx="1.6" fill="#000" filter="url(#bl)"/>
<rect x="71.2" y="905.6" width="15.5" height="4.3" rx="1.6" fill="#000" filter="url(#bl)"/>
<circle cx="83.6" cy="889.4" r="0.6" fill="#333"/>
<line x1="93.30" y1="871.80" x2="100.80" y2="871.80" stroke="#222" stroke-width="1.30"/>
<line x1="93.30" y1="884.90" x2="100.80" y2="884.90" stroke="#222" stroke-width="1.30"/>
<line x1="93.30" y1="906.60" x2="100.80" y2="906.60" stroke="#222" stroke-width="1.30"/>
<text x="103.20" y="875.80" font-size="10.40">fl</text>
<text x="103.40" y="887.80" font-size="10.40">WT</text>
<text x="103.40" y="909.30" font-size="10.40">Δ</text>
<text x="11.50" y="892.30" font-size="10.40"><tspan font-style="italic">Hif-2</tspan><tspan font-style="italic" font-family="Liberation Serif" font-size="11.96">α</tspan></text>
<text x="52.70" y="864.60" font-size="10.40" transform="rotate(-45 52.70 864.60)"><tspan font-style="italic">Hif-2</tspan><tspan font-style="italic" font-family="Liberation Serif" font-size="11.96">α</tspan><tspan font-style="italic" font-size="7.28" dy="-4.16"> fl/fl</tspan></text>
<text x="75.70" y="859.00" font-size="10.40" transform="rotate(-45 75.70 859.00)"><tspan font-style="italic">Hif-2</tspan><tspan font-style="italic" font-family="Liberation Serif" font-size="11.96">α</tspan><tspan font-style="italic" font-size="7.28" dy="-4.16"> fl/fl</tspan><tspan font-style="italic" dy="4.16">;</tspan></text>
<text x="85.20" y="867.20" font-size="10.40" transform="rotate(-45 85.20 867.20)"><tspan font-style="italic">Vav-iCre</tspan></text>
<text x="0.84" y="490.90" font-size="16.40" font-weight="bold">G</text>
<text x="34.20" y="494.60" font-size="10.30"><tspan>CD45.2</tspan><tspan font-size="7.21" dy="-4.12">+</tspan></text>
<path d="M54.70,501.75C54.25,501.52 53.12,500.79 52.00,500.40C50.88,500.01 49.45,499.65 48.00,499.40C46.55,499.15 44.98,498.85 43.30,498.90C41.62,498.95 39.58,498.88 37.90,499.70C36.22,500.52 34.38,502.12 33.20,503.80C32.02,505.48 31.14,507.90 30.80,509.80C30.46,511.70 30.53,513.63 31.15,515.20C31.77,516.77 32.71,517.97 34.50,519.20C36.29,520.43 39.65,521.87 41.90,522.60C44.15,523.33 45.87,523.43 48.00,523.60C50.13,523.77 51.33,523.65 54.70,523.60C58.07,523.55 64.83,523.47 68.20,523.30C71.57,523.13 73.33,522.93 74.90,522.60C76.47,522.27 77.08,521.97 77.60,521.30C78.12,520.63 78.45,519.62 78.00,518.60C77.55,517.58 76.20,516.38 74.90,515.20C73.60,514.02 71.72,512.57 70.20,511.50C68.68,510.43 66.70,509.63 65.80,508.80C64.90,507.97 64.97,507.45 64.80,506.50C64.63,505.55 65.02,504.12 64.80,503.10C64.58,502.08 64.28,501.02 63.50,500.40C62.72,499.78 61.23,499.52 60.10,499.40C58.98,499.28 57.65,499.31 56.75,499.70C55.85,500.09 55.09,500.85 54.70,501.75C54.31,502.65 54.06,503.69 54.40,505.10C54.74,506.51 55.74,509.17 56.75,510.20C57.76,511.23 59.83,511.12 60.45,511.30 M30.80,514.50C30.18,514.12 28.50,512.65 27.10,512.20C25.70,511.75 23.63,511.52 22.40,511.80C21.17,512.08 20.03,513.00 19.70,513.90C19.37,514.80 19.62,516.08 20.40,517.20C21.18,518.32 22.50,519.37 24.40,520.60C26.30,521.83 29.22,523.37 31.80,524.60C34.38,525.83 38.55,527.43 39.90,528.00" fill="none" stroke="#000" stroke-width="2.1" stroke-linecap="round" stroke-linejoin="round"/>
<circle cx="63.80" cy="513.90" r="2.6" fill="#000"/>
<path d="M178.70,501.45C178.25,501.22 177.12,500.49 176.00,500.10C174.88,499.71 173.45,499.35 172.00,499.10C170.55,498.85 168.98,498.55 167.30,498.60C165.62,498.65 163.58,498.58 161.90,499.40C160.22,500.22 158.38,501.82 157.20,503.50C156.02,505.18 155.14,507.60 154.80,509.50C154.46,511.40 154.53,513.33 155.15,514.90C155.77,516.47 156.71,517.67 158.50,518.90C160.29,520.13 163.65,521.57 165.90,522.30C168.15,523.03 169.87,523.13 172.00,523.30C174.13,523.47 175.33,523.35 178.70,523.30C182.07,523.25 188.83,523.17 192.20,523.00C195.57,522.83 197.33,522.63 198.90,522.30C200.47,521.97 201.08,521.67 201.60,521.00C202.12,520.33 202.45,519.32 202.00,518.30C201.55,517.28 200.20,516.08 198.90,514.90C197.60,513.72 195.72,512.27 194.20,511.20C192.68,510.13 190.70,509.33 189.80,508.50C188.90,507.67 188.97,507.15 188.80,506.20C188.63,505.25 189.02,503.82 188.80,502.80C188.58,501.78 188.28,500.72 187.50,500.10C186.72,499.48 185.22,499.22 184.10,499.10C182.97,498.98 181.65,499.01 180.75,499.40C179.85,499.79 179.09,500.55 178.70,501.45C178.31,502.35 178.06,503.39 178.40,504.80C178.74,506.21 179.74,508.87 180.75,509.90C181.76,510.93 183.83,510.82 184.45,511.00 M154.80,514.20C154.18,513.82 152.50,512.35 151.10,511.90C149.70,511.45 147.63,511.22 146.40,511.50C145.17,511.78 144.03,512.70 143.70,513.60C143.37,514.50 143.62,515.78 144.40,516.90C145.18,518.02 146.50,519.07 148.40,520.30C150.30,521.53 153.22,523.07 155.80,524.30C158.38,525.53 162.55,527.13 163.90,527.70" fill="none" stroke="#000" stroke-width="2.1" stroke-linecap="round" stroke-linejoin="round"/>
<circle cx="187.80" cy="513.60" r="2.6" fill="#000"/>
<path d="M301.70,502.15C301.25,501.92 300.12,501.19 299.00,500.80C297.88,500.41 296.45,500.05 295.00,499.80C293.55,499.55 291.98,499.25 290.30,499.30C288.62,499.35 286.58,499.28 284.90,500.10C283.22,500.92 281.38,502.52 280.20,504.20C279.02,505.88 278.14,508.30 277.80,510.20C277.46,512.10 277.53,514.03 278.15,515.60C278.77,517.17 279.71,518.37 281.50,519.60C283.29,520.83 286.65,522.27 288.90,523.00C291.15,523.73 292.87,523.83 295.00,524.00C297.13,524.17 298.33,524.05 301.70,524.00C305.07,523.95 311.83,523.87 315.20,523.70C318.57,523.53 320.33,523.33 321.90,523.00C323.47,522.67 324.08,522.37 324.60,521.70C325.12,521.03 325.45,520.02 325.00,519.00C324.55,517.98 323.20,516.78 321.90,515.60C320.60,514.42 318.72,512.97 317.20,511.90C315.68,510.83 313.70,510.03 312.80,509.20C311.90,508.37 311.97,507.85 311.80,506.90C311.63,505.95 312.02,504.52 311.80,503.50C311.58,502.48 311.28,501.42 310.50,500.80C309.72,500.18 308.23,499.92 307.10,499.80C305.98,499.68 304.65,499.71 303.75,500.10C302.85,500.49 302.09,501.25 301.70,502.15C301.31,503.05 301.06,504.09 301.40,505.50C301.74,506.91 302.74,509.57 303.75,510.60C304.76,511.63 306.83,511.52 307.45,511.70 M277.80,514.90C277.18,514.52 275.50,513.05 274.10,512.60C272.70,512.15 270.63,511.92 269.40,512.20C268.17,512.48 267.03,513.40 266.70,514.30C266.37,515.20 266.62,516.48 267.40,517.60C268.18,518.72 269.50,519.77 271.40,521.00C273.30,522.23 276.22,523.77 278.80,525.00C281.38,526.23 285.55,527.83 286.90,528.40" fill="none" stroke="#000" stroke-width="2.1" stroke-linecap="round" stroke-linejoin="round"/>
<circle cx="310.80" cy="514.30" r="2.6" fill="#000"/>
<polygon points="134.20,481.20 144.20,477.40 149.20,483.70 148.10,484.30 153.50,489.10 151.90,489.80 159.60,498.20 146.50,492.20 147.70,491.60 140.40,487.40 142.30,486.20" fill="#000"/>
<polygon points="258.70,482.80 268.70,479.00 273.70,485.30 272.60,485.90 278.00,490.70 276.40,491.40 284.10,499.80 271.00,493.80 272.20,493.20 264.90,489.00 266.80,487.80" fill="#000"/>
<text x="158.80" y="493.20" font-size="10.30"><tspan>CD45.1</tspan><tspan font-size="7.21" dy="-4.12">+</tspan></text>
<text x="281.50" y="493.20" font-size="10.30"><tspan>CD45.1</tspan><tspan font-size="7.21" dy="-4.12">+</tspan></text>
<text x="86.00" y="507.10" font-size="10.30">100 HSCs</text>
<line x1="89.20" y1="515.20" x2="113.00" y2="515.20" stroke="#000" stroke-width="2.40"/>
<polygon points="112.30,508.80 112.30,521.80 133.10,515.20" fill="#000"/>
<text x="210.50" y="507.20" font-size="10.30">2000 LSKs</text>
<line x1="212.80" y1="515.50" x2="236.50" y2="515.50" stroke="#000" stroke-width="2.40"/>
<polygon points="235.70,509.10 235.70,521.90 257.20,515.50" fill="#000"/>
<rect x="16.30" y="540.20" width="9.40" height="9.60" fill="#fff" stroke="#000" stroke-width="1.10"/>
<text x="31.90" y="548.10" font-size="10.30">Control</text>
<rect x="15.80" y="551.90" width="10.40" height="10.40" fill="#000"/>
<text x="31.90" y="561.30" font-size="10.30"><tspan font-style="italic">Hif-2</tspan><tspan font-style="italic" font-family="Liberation Serif" font-size="11.85">α</tspan><tspan font-style="italic" font-size="7.21" dy="-4.12"> fl/fl</tspan><tspan font-style="italic" dy="4.12">;Vav-iCre</tspan></text>
<text x="183.60" y="549.00" font-size="10.30" text-anchor="middle">Primary</text>
<text x="183.30" y="560.20" font-size="10.30" text-anchor="middle">recipient mice</text>
<line x1="183.00" y1="563.00" x2="183.00" y2="583.50" stroke="#000" stroke-width="2.30"/>
<polygon points="177.40,582.50 189.00,582.50 183.10,598.60" fill="#000"/>
<text x="182.60" y="611.00" font-size="10.30" text-anchor="middle">Analysis</text>
<text x="300.30" y="549.00" font-size="10.30" text-anchor="middle">Secondary</text>
<text x="300.30" y="560.40" font-size="10.30" text-anchor="middle">recipient mice</text>
<line x1="302.00" y1="563.60" x2="302.00" y2="584.00" stroke="#000" stroke-width="2.30"/>
<polygon points="296.40,583.20 307.80,583.20 302.10,598.60" fill="#000"/>
<text x="301.70" y="611.60" font-size="10.30" text-anchor="middle">Analysis</text>
<text x="278.23" y="327.50" font-size="16.40" font-weight="bold">F</text>
<text x="403.90" y="327.30" font-size="10.00" text-anchor="middle">gated on the LSK population</text>
<line x1="310.40" y1="331.00" x2="495.80" y2="331.00" stroke="#000" stroke-width="1.60"/>
<text x="341.00" y="343.80" font-size="8.70" style="stroke-width:0.15px">Control</text>
<text x="421.90" y="343.00" font-size="8.50" style="stroke-width:0.13px"><tspan font-style="italic">Hif-2</tspan><tspan font-style="italic" font-family="Liberation Serif" font-size="9.77">α</tspan><tspan font-style="italic" font-size="8.07" dy="-4.25"> fl/fl</tspan><tspan font-style="italic" dy="4.25">;Vav-iCre</tspan></text>
<clipPath id="fc11"><rect x="306.20" y="348.90" width="94.60" height="95.30"/></clipPath>
<g clip-path="url(#fc11)">
<ellipse cx="334.40" cy="371.90" rx="30" ry="13" fill="#000" opacity="0.22" filter="url(#b3)"/>
<ellipse cx="342.40" cy="368.90" rx="12" ry="6" fill="#000" opacity="0.22" filter="url(#b3)"/>
<ellipse cx="333.40" cy="393.80" rx="26" ry="6" fill="#000" opacity="0.07" filter="url(#b3)"/>
<ellipse cx="365.40" cy="372.90" rx="14" ry="14" fill="#000" opacity="0.05" filter="url(#b3)"/>
</g>
<g filter="url(#dotblur)">
<path d="M340.2 362.3h1v1h-1zM318.4 363.3h1v1h-1zM329.3 363.3h1v1h-1zM331.1 363.1h1v1h-1zM336.1 363.2h1v1h-1zM337.1 363.1h1v1h-1zM338.3 363.1h1v1h-1zM340.4 363.4h1v1h-1zM342.0 363.3h1v1h-1zM343.2 363.3h1v1h-1zM344.3 363.1h1v1h-1zM345.4 363.2h1v1h-1zM347.3 363.4h1v1h-1zM349.3 363.0h1v1h-1zM350.1 363.1h1v1h-1zM317.3 364.2h1v1h-1zM320.1 364.3h1v1h-1zM323.2 364.1h1v1h-1zM328.4 364.3h1v1h-1zM329.3 364.1h1v1h-1zM331.3 364.2h1v1h-1zM335.0 364.2h1v1h-1zM336.4 364.1h1v1h-1zM339.2 364.3h1v1h-1zM340.1 364.1h1v1h-1zM343.1 364.2h1v1h-1zM344.1 364.1h1v1h-1zM345.2 364.3h1v1h-1zM346.1 364.4h1v1h-1zM347.2 364.0h1v1h-1zM348.1 364.2h1v1h-1zM350.0 364.3h1v1h-1zM317.1 365.3h1v1h-1zM322.3 365.4h1v1h-1zM323.1 365.3h1v1h-1zM327.0 365.2h1v1h-1zM328.1 365.1h1v1h-1zM330.3 365.4h1v1h-1zM332.3 365.3h1v1h-1zM333.1 365.2h1v1h-1zM334.1 365.3h1v1h-1zM335.1 365.3h1v1h-1zM338.4 365.3h1v1h-1zM342.3 365.3h1v1h-1zM343.4 365.1h1v1h-1zM346.1 365.1h1v1h-1zM348.3 365.2h1v1h-1zM349.3 365.1h1v1h-1zM321.2 366.3h1v1h-1zM323.3 366.4h1v1h-1zM336.1 366.2h1v1h-1zM337.3 366.2h1v1h-1zM338.1 366.1h1v1h-1zM340.3 366.1h1v1h-1zM341.3 366.3h1v1h-1zM342.2 366.2h1v1h-1zM343.2 366.2h1v1h-1zM346.3 366.1h1v1h-1zM347.4 366.2h1v1h-1zM348.3 366.1h1v1h-1zM349.3 366.3h1v1h-1zM350.1 366.4h1v1h-1zM327.3 367.1h1v1h-1zM329.4 367.1h1v1h-1zM330.0 367.3h1v1h-1zM332.1 367.0h1v1h-1zM334.1 367.1h1v1h-1zM336.3 367.3h1v1h-1zM337.2 367.4h1v1h-1zM338.1 367.1h1v1h-1zM341.2 367.2h1v1h-1zM342.4 367.2h1v1h-1zM343.4 367.3h1v1h-1zM344.1 367.4h1v1h-1zM345.2 367.2h1v1h-1zM346.4 367.2h1v1h-1zM347.4 367.2h1v1h-1zM348.4 367.2h1v1h-1zM349.2 367.1h1v1h-1zM320.2 368.2h1v1h-1zM321.1 368.3h1v1h-1zM326.1 368.3h1v1h-1zM328.1 368.3h1v1h-1zM330.4 368.1h1v1h-1zM331.1 368.1h1v1h-1zM332.2 368.1h1v1h-1zM333.2 368.4h1v1h-1zM334.4 368.1h1v1h-1zM335.3 368.3h1v1h-1zM338.2 368.4h1v1h-1zM340.1 368.3h1v1h-1zM342.3 368.2h1v1h-1zM343.1 368.0h1v1h-1zM345.2 368.1h1v1h-1zM347.3 368.4h1v1h-1zM348.2 368.3h1v1h-1zM349.2 368.3h1v1h-1zM350.3 368.0h1v1h-1zM319.1 369.2h1v1h-1zM320.2 369.0h1v1h-1zM321.4 369.2h1v1h-1zM329.3 369.0h1v1h-1zM330.3 369.4h1v1h-1zM332.1 369.1h1v1h-1zM333.3 369.0h1v1h-1zM334.3 369.3h1v1h-1zM335.4 369.3h1v1h-1zM336.0 369.4h1v1h-1zM337.2 369.4h1v1h-1zM338.0 369.1h1v1h-1zM340.4 369.1h1v1h-1zM342.1 369.3h1v1h-1zM345.1 369.1h1v1h-1zM346.1 369.3h1v1h-1zM348.1 369.3h1v1h-1zM315.2 370.4h1v1h-1zM321.0 370.3h1v1h-1zM322.1 370.1h1v1h-1zM329.2 370.3h1v1h-1zM331.2 370.3h1v1h-1zM332.4 370.2h1v1h-1zM333.2 370.1h1v1h-1zM334.4 370.2h1v1h-1zM335.2 370.2h1v1h-1zM336.4 370.3h1v1h-1zM337.3 370.4h1v1h-1zM339.3 370.3h1v1h-1zM340.2 370.3h1v1h-1zM343.4 370.3h1v1h-1zM345.2 370.2h1v1h-1zM346.3 370.3h1v1h-1zM347.0 370.0h1v1h-1zM348.0 370.2h1v1h-1zM349.3 370.1h1v1h-1zM350.1 370.2h1v1h-1zM324.2 371.2h1v1h-1zM329.4 371.1h1v1h-1zM333.0 371.3h1v1h-1zM334.3 371.0h1v1h-1zM335.1 371.2h1v1h-1zM336.1 371.4h1v1h-1zM337.3 371.3h1v1h-1zM340.1 371.4h1v1h-1zM343.0 371.2h1v1h-1zM345.1 371.4h1v1h-1zM346.2 371.1h1v1h-1zM347.1 371.1h1v1h-1zM348.1 371.0h1v1h-1zM349.0 371.4h1v1h-1zM350.0 371.3h1v1h-1zM321.4 372.3h1v1h-1zM322.3 372.0h1v1h-1zM325.0 372.3h1v1h-1zM326.3 372.2h1v1h-1zM327.1 372.4h1v1h-1zM332.1 372.1h1v1h-1zM333.2 372.2h1v1h-1zM335.1 372.1h1v1h-1zM337.4 372.2h1v1h-1zM338.2 372.3h1v1h-1zM340.2 372.1h1v1h-1zM342.0 372.1h1v1h-1zM343.4 372.2h1v1h-1zM344.0 372.2h1v1h-1zM349.4 372.2h1v1h-1zM321.3 373.1h1v1h-1zM325.2 373.2h1v1h-1zM327.1 373.3h1v1h-1zM329.3 373.3h1v1h-1zM330.3 373.1h1v1h-1zM331.1 373.1h1v1h-1zM332.0 373.2h1v1h-1zM333.1 373.2h1v1h-1zM334.0 373.3h1v1h-1zM336.3 373.0h1v1h-1zM338.3 373.2h1v1h-1zM339.3 373.2h1v1h-1zM340.3 373.2h1v1h-1zM341.1 373.4h1v1h-1zM343.1 373.1h1v1h-1zM345.3 373.4h1v1h-1zM346.2 373.2h1v1h-1zM326.1 374.2h1v1h-1zM333.3 374.4h1v1h-1zM334.2 374.4h1v1h-1zM338.1 374.1h1v1h-1zM341.0 374.1h1v1h-1zM343.3 374.3h1v1h-1zM344.1 374.2h1v1h-1zM348.2 374.0h1v1h-1zM335.1 375.3h1v1h-1zM338.3 375.3h1v1h-1zM340.1 375.1h1v1h-1zM341.1 375.1h1v1h-1zM339.4 376.2h1v1h-1zM342.1 376.1h1v1h-1z" fill="#383838"/>
<path d="M330.3 360.1h1v1h-1zM332.2 360.2h1v1h-1zM331.1 361.3h1v1h-1zM333.4 361.2h1v1h-1zM335.4 361.1h1v1h-1zM346.1 361.0h1v1h-1zM317.0 362.1h1v1h-1zM324.3 362.1h1v1h-1zM327.2 362.2h1v1h-1zM330.2 362.3h1v1h-1zM333.2 362.1h1v1h-1zM334.1 362.4h1v1h-1zM338.2 362.1h1v1h-1zM339.3 362.0h1v1h-1zM341.4 362.2h1v1h-1zM343.2 362.1h1v1h-1zM345.1 362.2h1v1h-1zM349.1 362.3h1v1h-1zM307.3 363.2h1v1h-1zM309.2 363.2h1v1h-1zM311.1 363.1h1v1h-1zM315.1 363.3h1v1h-1zM316.2 363.1h1v1h-1zM321.1 363.2h1v1h-1zM322.2 363.3h1v1h-1zM323.1 363.1h1v1h-1zM326.1 363.1h1v1h-1zM330.2 363.2h1v1h-1zM332.2 363.3h1v1h-1zM333.2 363.3h1v1h-1zM334.1 363.3h1v1h-1zM339.4 363.4h1v1h-1zM341.0 363.1h1v1h-1zM346.4 363.1h1v1h-1zM310.2 364.4h1v1h-1zM313.4 364.1h1v1h-1zM316.2 364.1h1v1h-1zM319.3 364.0h1v1h-1zM321.2 364.0h1v1h-1zM322.2 364.2h1v1h-1zM324.2 364.1h1v1h-1zM325.1 364.2h1v1h-1zM334.2 364.3h1v1h-1zM337.0 364.0h1v1h-1zM338.4 364.2h1v1h-1zM341.1 364.4h1v1h-1zM307.3 365.4h1v1h-1zM310.3 365.0h1v1h-1zM311.2 365.1h1v1h-1zM316.1 365.2h1v1h-1zM318.4 365.1h1v1h-1zM320.0 365.2h1v1h-1zM321.0 365.1h1v1h-1zM325.2 365.3h1v1h-1zM329.1 365.1h1v1h-1zM337.3 365.3h1v1h-1zM340.4 365.3h1v1h-1zM341.2 365.0h1v1h-1zM350.2 365.1h1v1h-1zM308.0 366.0h1v1h-1zM309.2 366.1h1v1h-1zM316.3 366.3h1v1h-1zM317.4 366.2h1v1h-1zM322.1 366.1h1v1h-1zM325.4 366.3h1v1h-1zM326.3 366.2h1v1h-1zM327.3 366.1h1v1h-1zM329.3 366.1h1v1h-1zM332.0 366.3h1v1h-1zM333.2 366.2h1v1h-1zM334.1 366.4h1v1h-1zM339.0 366.2h1v1h-1zM344.1 366.1h1v1h-1zM309.1 367.0h1v1h-1zM310.2 367.2h1v1h-1zM311.2 367.1h1v1h-1zM312.2 367.3h1v1h-1zM313.4 367.0h1v1h-1zM316.1 367.2h1v1h-1zM319.1 367.4h1v1h-1zM324.3 367.4h1v1h-1zM325.0 367.2h1v1h-1zM326.2 367.2h1v1h-1zM328.1 367.2h1v1h-1zM333.3 367.3h1v1h-1zM340.0 367.0h1v1h-1zM350.0 367.1h1v1h-1zM310.2 368.3h1v1h-1zM311.2 368.3h1v1h-1zM314.2 368.1h1v1h-1zM319.2 368.1h1v1h-1zM323.2 368.1h1v1h-1zM329.1 368.1h1v1h-1zM336.1 368.4h1v1h-1zM337.2 368.4h1v1h-1zM339.2 368.2h1v1h-1zM344.2 368.0h1v1h-1zM346.2 368.1h1v1h-1zM307.3 369.1h1v1h-1zM309.0 369.1h1v1h-1zM312.0 369.2h1v1h-1zM316.3 369.2h1v1h-1zM322.1 369.1h1v1h-1zM323.1 369.1h1v1h-1zM325.4 369.2h1v1h-1zM326.3 369.0h1v1h-1zM328.1 369.1h1v1h-1zM341.2 369.2h1v1h-1zM343.0 369.0h1v1h-1zM344.1 369.3h1v1h-1zM347.1 369.2h1v1h-1zM350.4 369.1h1v1h-1zM307.4 370.3h1v1h-1zM312.4 370.3h1v1h-1zM313.2 370.3h1v1h-1zM314.1 370.1h1v1h-1zM316.3 370.4h1v1h-1zM317.2 370.0h1v1h-1zM323.3 370.3h1v1h-1zM324.3 370.2h1v1h-1zM326.1 370.1h1v1h-1zM327.1 370.2h1v1h-1zM328.0 370.4h1v1h-1zM330.3 370.1h1v1h-1zM338.1 370.0h1v1h-1zM341.3 370.0h1v1h-1zM342.0 370.3h1v1h-1zM344.2 370.2h1v1h-1zM314.0 371.0h1v1h-1zM315.2 371.2h1v1h-1zM319.3 371.0h1v1h-1zM320.2 371.3h1v1h-1zM321.0 371.3h1v1h-1zM323.3 371.1h1v1h-1zM326.4 371.3h1v1h-1zM330.2 371.3h1v1h-1zM331.1 371.2h1v1h-1zM338.2 371.1h1v1h-1zM341.2 371.3h1v1h-1zM313.1 372.2h1v1h-1zM320.2 372.2h1v1h-1zM323.2 372.1h1v1h-1zM328.2 372.0h1v1h-1zM336.2 372.4h1v1h-1zM339.3 372.1h1v1h-1zM341.3 372.3h1v1h-1zM345.4 372.0h1v1h-1zM347.2 372.3h1v1h-1zM348.4 372.0h1v1h-1zM350.2 372.1h1v1h-1zM308.0 373.2h1v1h-1zM310.1 373.1h1v1h-1zM311.2 373.4h1v1h-1zM316.1 373.4h1v1h-1zM318.2 373.3h1v1h-1zM322.4 373.3h1v1h-1zM328.3 373.4h1v1h-1zM337.4 373.0h1v1h-1zM342.2 373.2h1v1h-1zM348.4 373.2h1v1h-1zM309.3 374.1h1v1h-1zM311.2 374.3h1v1h-1zM312.4 374.3h1v1h-1zM314.3 374.1h1v1h-1zM315.1 374.3h1v1h-1zM317.0 374.1h1v1h-1zM323.3 374.2h1v1h-1zM324.2 374.3h1v1h-1zM325.1 374.3h1v1h-1zM329.0 374.3h1v1h-1zM330.0 374.3h1v1h-1zM331.2 374.1h1v1h-1zM335.3 374.3h1v1h-1zM339.1 374.0h1v1h-1zM340.2 374.1h1v1h-1zM342.3 374.1h1v1h-1zM347.4 374.1h1v1h-1zM350.3 374.3h1v1h-1zM309.0 375.3h1v1h-1zM310.4 375.3h1v1h-1zM312.1 375.1h1v1h-1zM316.2 375.2h1v1h-1zM318.4 375.1h1v1h-1zM319.0 375.3h1v1h-1zM321.0 375.4h1v1h-1zM324.3 375.3h1v1h-1zM326.1 375.2h1v1h-1zM333.2 375.0h1v1h-1zM334.1 375.4h1v1h-1zM336.4 375.1h1v1h-1zM337.2 375.3h1v1h-1zM342.3 375.0h1v1h-1zM344.1 375.0h1v1h-1zM345.0 375.2h1v1h-1zM346.2 375.2h1v1h-1zM347.0 375.1h1v1h-1zM310.3 376.0h1v1h-1zM311.4 376.1h1v1h-1zM315.1 376.0h1v1h-1zM318.2 376.3h1v1h-1zM319.2 376.0h1v1h-1zM327.3 376.0h1v1h-1zM337.4 376.3h1v1h-1zM340.2 376.4h1v1h-1zM341.3 376.2h1v1h-1zM344.2 376.0h1v1h-1zM345.3 376.3h1v1h-1zM321.0 377.1h1v1h-1zM335.3 377.1h1v1h-1zM339.1 377.0h1v1h-1zM341.4 377.0h1v1h-1zM343.1 377.4h1v1h-1zM344.3 377.0h1v1h-1zM347.1 377.0h1v1h-1zM312.3 378.2h1v1h-1zM319.0 378.1h1v1h-1zM326.0 378.3h1v1h-1zM327.4 378.3h1v1h-1zM328.2 378.0h1v1h-1zM333.0 378.1h1v1h-1zM334.1 378.0h1v1h-1zM343.2 378.2h1v1h-1zM327.1 379.1h1v1h-1zM330.2 379.0h1v1h-1z" fill="#626262"/>
<path d="M347.0 357.3h1v1h-1zM335.0 358.4h1v1h-1zM341.2 358.3h1v1h-1zM347.1 358.1h1v1h-1zM314.3 359.4h1v1h-1zM318.0 359.1h1v1h-1zM324.3 359.2h1v1h-1zM331.1 359.4h1v1h-1zM332.0 359.3h1v1h-1zM340.1 359.3h1v1h-1zM342.3 359.1h1v1h-1zM347.0 359.2h1v1h-1zM348.4 359.3h1v1h-1zM308.4 360.2h1v1h-1zM313.2 360.1h1v1h-1zM314.1 360.0h1v1h-1zM315.4 360.3h1v1h-1zM316.1 360.1h1v1h-1zM317.3 360.2h1v1h-1zM318.0 360.3h1v1h-1zM319.3 360.0h1v1h-1zM320.3 360.3h1v1h-1zM324.1 360.4h1v1h-1zM327.3 360.2h1v1h-1zM329.2 360.3h1v1h-1zM334.2 360.1h1v1h-1zM335.1 360.0h1v1h-1zM336.0 360.4h1v1h-1zM337.2 360.0h1v1h-1zM338.2 360.2h1v1h-1zM344.2 360.4h1v1h-1zM345.2 360.4h1v1h-1zM349.4 360.3h1v1h-1zM309.1 361.2h1v1h-1zM312.3 361.0h1v1h-1zM318.1 361.1h1v1h-1zM321.1 361.3h1v1h-1zM324.0 361.3h1v1h-1zM326.0 361.3h1v1h-1zM327.4 361.3h1v1h-1zM342.3 361.1h1v1h-1zM345.0 361.1h1v1h-1zM348.0 361.2h1v1h-1zM308.2 362.1h1v1h-1zM310.3 362.1h1v1h-1zM315.4 362.4h1v1h-1zM316.2 362.2h1v1h-1zM325.3 362.3h1v1h-1zM336.0 362.3h1v1h-1zM347.2 362.1h1v1h-1zM348.2 362.3h1v1h-1zM352.0 362.4h1v1h-1zM317.2 363.4h1v1h-1zM319.4 363.0h1v1h-1zM324.2 363.3h1v1h-1zM327.4 363.3h1v1h-1zM314.2 364.4h1v1h-1zM309.3 365.0h1v1h-1zM307.1 366.2h1v1h-1zM318.3 366.3h1v1h-1zM307.1 367.4h1v1h-1zM307.3 368.3h1v1h-1zM318.0 368.2h1v1h-1zM353.0 368.0h1v1h-1zM308.1 369.1h1v1h-1zM315.2 369.3h1v1h-1zM318.0 369.1h1v1h-1zM309.3 370.1h1v1h-1zM309.3 372.2h1v1h-1zM318.1 372.1h1v1h-1zM319.2 372.2h1v1h-1zM358.1 372.2h1v1h-1zM307.1 373.3h1v1h-1zM312.2 373.2h1v1h-1zM361.1 373.3h1v1h-1zM313.1 374.1h1v1h-1zM318.3 374.1h1v1h-1zM328.0 374.2h1v1h-1zM307.1 375.1h1v1h-1zM315.3 375.2h1v1h-1zM320.1 375.3h1v1h-1zM325.1 375.2h1v1h-1zM331.1 375.3h1v1h-1zM349.1 375.4h1v1h-1zM350.0 375.1h1v1h-1zM313.3 376.1h1v1h-1zM317.2 376.2h1v1h-1zM324.3 376.3h1v1h-1zM329.4 376.1h1v1h-1zM334.3 376.4h1v1h-1zM338.2 376.0h1v1h-1zM347.1 376.4h1v1h-1zM348.3 376.0h1v1h-1zM353.2 376.3h1v1h-1zM354.0 376.3h1v1h-1zM309.0 377.2h1v1h-1zM311.2 377.2h1v1h-1zM315.0 377.3h1v1h-1zM316.1 377.1h1v1h-1zM319.0 377.3h1v1h-1zM320.0 377.2h1v1h-1zM323.2 377.3h1v1h-1zM329.1 377.1h1v1h-1zM331.2 377.3h1v1h-1zM334.1 377.2h1v1h-1zM337.2 377.0h1v1h-1zM338.0 377.2h1v1h-1zM340.2 377.3h1v1h-1zM349.1 377.2h1v1h-1zM354.2 377.2h1v1h-1zM307.2 378.0h1v1h-1zM311.4 378.1h1v1h-1zM314.2 378.3h1v1h-1zM315.1 378.4h1v1h-1zM324.2 378.2h1v1h-1zM330.1 378.3h1v1h-1zM337.1 378.1h1v1h-1zM340.2 378.3h1v1h-1zM341.2 378.0h1v1h-1zM345.3 378.2h1v1h-1zM346.4 378.1h1v1h-1zM351.3 378.0h1v1h-1zM354.4 378.1h1v1h-1zM357.3 378.3h1v1h-1zM311.0 379.2h1v1h-1zM314.3 379.0h1v1h-1zM316.1 379.1h1v1h-1zM318.2 379.1h1v1h-1zM320.4 379.0h1v1h-1zM321.2 379.1h1v1h-1zM324.3 379.1h1v1h-1zM328.2 379.2h1v1h-1zM331.4 379.1h1v1h-1zM332.1 379.3h1v1h-1zM335.0 379.3h1v1h-1zM339.3 379.2h1v1h-1zM341.3 379.1h1v1h-1zM342.1 379.4h1v1h-1zM344.0 379.2h1v1h-1zM347.3 379.1h1v1h-1zM355.3 379.2h1v1h-1zM315.1 380.1h1v1h-1zM317.4 380.3h1v1h-1zM319.4 380.4h1v1h-1zM321.2 380.4h1v1h-1zM325.2 380.3h1v1h-1zM326.4 380.0h1v1h-1zM328.0 380.4h1v1h-1zM330.2 380.3h1v1h-1zM331.0 380.2h1v1h-1zM333.2 380.1h1v1h-1zM334.1 380.3h1v1h-1zM336.3 380.2h1v1h-1zM338.1 380.0h1v1h-1zM339.1 380.2h1v1h-1zM340.2 380.2h1v1h-1zM344.2 380.2h1v1h-1zM359.0 380.0h1v1h-1zM312.1 381.0h1v1h-1zM327.4 381.2h1v1h-1zM328.3 381.4h1v1h-1zM329.3 381.3h1v1h-1zM332.1 381.4h1v1h-1zM339.3 381.3h1v1h-1zM340.1 381.4h1v1h-1zM341.1 381.0h1v1h-1zM342.2 381.2h1v1h-1zM343.0 381.2h1v1h-1zM346.2 381.4h1v1h-1zM347.1 381.1h1v1h-1zM349.3 381.1h1v1h-1zM310.1 382.1h1v1h-1zM312.1 382.3h1v1h-1zM317.1 382.3h1v1h-1zM325.3 382.2h1v1h-1zM329.3 382.3h1v1h-1zM333.3 382.1h1v1h-1zM335.2 382.4h1v1h-1zM341.3 382.3h1v1h-1zM344.2 382.2h1v1h-1zM347.3 382.2h1v1h-1zM356.1 382.4h1v1h-1zM357.3 382.3h1v1h-1zM362.4 382.1h1v1h-1zM308.0 383.4h1v1h-1zM311.1 383.1h1v1h-1zM313.4 383.2h1v1h-1zM320.2 383.1h1v1h-1zM343.3 383.0h1v1h-1zM344.3 383.4h1v1h-1zM349.2 383.3h1v1h-1zM353.3 383.2h1v1h-1zM355.1 383.3h1v1h-1zM307.2 384.2h1v1h-1zM313.4 384.3h1v1h-1zM327.2 384.0h1v1h-1zM328.2 384.0h1v1h-1zM344.3 384.1h1v1h-1zM351.3 384.1h1v1h-1zM315.1 385.3h1v1h-1zM360.0 385.3h1v1h-1zM326.2 386.0h1v1h-1zM331.3 386.1h1v1h-1zM333.1 386.2h1v1h-1zM334.2 386.1h1v1h-1zM345.3 386.3h1v1h-1zM350.4 386.2h1v1h-1zM309.1 387.3h1v1h-1zM339.1 387.2h1v1h-1zM343.2 387.3h1v1h-1zM351.3 387.2h1v1h-1zM355.3 387.2h1v1h-1zM322.1 388.1h1v1h-1zM342.3 388.2h1v1h-1zM358.0 388.0h1v1h-1zM318.3 389.2h1v1h-1zM322.1 389.1h1v1h-1zM324.1 389.3h1v1h-1zM327.3 389.3h1v1h-1zM332.4 389.3h1v1h-1zM335.2 389.1h1v1h-1zM336.1 389.1h1v1h-1zM339.3 389.1h1v1h-1zM342.0 389.3h1v1h-1zM348.1 389.4h1v1h-1zM355.3 389.3h1v1h-1zM318.2 390.2h1v1h-1zM336.1 390.0h1v1h-1zM348.3 390.2h1v1h-1zM354.0 390.3h1v1h-1zM326.0 391.1h1v1h-1zM328.3 391.0h1v1h-1zM338.2 391.3h1v1h-1zM339.3 391.1h1v1h-1zM342.3 391.0h1v1h-1z" fill="#8a8a8a"/>
<path d="M321.2 350.3h1v1h-1zM325.0 350.0h1v1h-1zM351.1 350.2h1v1h-1zM362.3 350.1h1v1h-1zM349.3 351.1h1v1h-1zM311.2 352.0h1v1h-1zM349.1 352.4h1v1h-1zM365.4 352.4h1v1h-1zM315.1 353.1h1v1h-1zM323.2 353.1h1v1h-1zM343.2 353.3h1v1h-1zM354.2 353.4h1v1h-1zM387.0 353.1h1v1h-1zM312.3 354.1h1v1h-1zM329.1 354.2h1v1h-1zM353.2 354.4h1v1h-1zM361.1 354.0h1v1h-1zM367.3 354.2h1v1h-1zM311.4 355.4h1v1h-1zM324.1 355.2h1v1h-1zM344.3 355.0h1v1h-1zM350.0 355.3h1v1h-1zM364.3 355.2h1v1h-1zM323.3 356.4h1v1h-1zM326.2 356.4h1v1h-1zM327.3 356.4h1v1h-1zM332.1 356.1h1v1h-1zM349.2 356.3h1v1h-1zM371.3 356.1h1v1h-1zM373.2 356.1h1v1h-1zM386.2 356.2h1v1h-1zM343.4 357.0h1v1h-1zM344.3 357.2h1v1h-1zM348.2 357.0h1v1h-1zM311.2 358.0h1v1h-1zM313.0 358.0h1v1h-1zM319.2 358.1h1v1h-1zM326.0 358.1h1v1h-1zM336.2 358.3h1v1h-1zM338.2 358.2h1v1h-1zM342.3 358.1h1v1h-1zM349.1 358.3h1v1h-1zM350.2 358.4h1v1h-1zM354.4 358.3h1v1h-1zM359.2 358.2h1v1h-1zM398.0 358.0h1v1h-1zM319.0 359.2h1v1h-1zM320.3 359.1h1v1h-1zM326.2 359.0h1v1h-1zM335.4 359.1h1v1h-1zM336.2 359.1h1v1h-1zM344.1 359.3h1v1h-1zM370.1 359.3h1v1h-1zM374.2 359.1h1v1h-1zM326.3 360.3h1v1h-1zM350.3 360.3h1v1h-1zM360.4 360.1h1v1h-1zM380.2 360.0h1v1h-1zM389.4 360.2h1v1h-1zM354.1 361.2h1v1h-1zM359.0 361.1h1v1h-1zM364.1 361.2h1v1h-1zM388.1 361.1h1v1h-1zM353.3 362.1h1v1h-1zM354.2 362.3h1v1h-1zM381.2 362.3h1v1h-1zM355.2 363.1h1v1h-1zM356.2 363.3h1v1h-1zM357.2 363.1h1v1h-1zM364.1 363.2h1v1h-1zM381.3 363.2h1v1h-1zM385.1 363.1h1v1h-1zM351.1 364.3h1v1h-1zM352.1 364.2h1v1h-1zM353.4 364.1h1v1h-1zM355.2 364.1h1v1h-1zM359.1 364.1h1v1h-1zM363.1 364.1h1v1h-1zM352.1 365.3h1v1h-1zM359.3 365.1h1v1h-1zM361.2 365.3h1v1h-1zM369.1 365.1h1v1h-1zM371.2 365.1h1v1h-1zM373.2 365.4h1v1h-1zM389.3 365.4h1v1h-1zM371.0 367.2h1v1h-1zM372.4 367.3h1v1h-1zM389.0 367.1h1v1h-1zM354.1 368.1h1v1h-1zM356.1 368.2h1v1h-1zM363.0 368.3h1v1h-1zM371.2 368.2h1v1h-1zM383.1 368.3h1v1h-1zM384.3 368.3h1v1h-1zM358.1 369.3h1v1h-1zM375.0 369.1h1v1h-1zM359.1 370.3h1v1h-1zM369.1 370.2h1v1h-1zM370.0 370.1h1v1h-1zM371.1 370.2h1v1h-1zM373.1 370.3h1v1h-1zM375.2 370.0h1v1h-1zM380.3 370.2h1v1h-1zM352.2 371.2h1v1h-1zM356.1 371.0h1v1h-1zM365.2 371.4h1v1h-1zM385.4 371.1h1v1h-1zM388.1 371.1h1v1h-1zM364.2 372.1h1v1h-1zM366.3 372.1h1v1h-1zM368.2 372.2h1v1h-1zM372.1 372.1h1v1h-1zM363.0 373.1h1v1h-1zM366.2 373.1h1v1h-1zM384.0 373.1h1v1h-1zM354.4 374.2h1v1h-1zM360.0 374.2h1v1h-1zM361.0 374.2h1v1h-1zM363.2 374.3h1v1h-1zM368.3 374.2h1v1h-1zM371.2 374.2h1v1h-1zM374.3 374.1h1v1h-1zM387.0 374.2h1v1h-1zM365.2 375.2h1v1h-1zM369.1 375.2h1v1h-1zM371.3 375.1h1v1h-1zM373.2 375.3h1v1h-1zM351.4 376.1h1v1h-1zM357.2 376.2h1v1h-1zM366.3 376.1h1v1h-1zM372.2 376.3h1v1h-1zM373.3 376.4h1v1h-1zM391.3 376.2h1v1h-1zM353.0 377.1h1v1h-1zM362.1 377.3h1v1h-1zM368.1 377.3h1v1h-1zM380.3 377.1h1v1h-1zM353.2 378.3h1v1h-1zM366.1 378.2h1v1h-1zM370.4 378.3h1v1h-1zM384.0 378.1h1v1h-1zM385.1 378.0h1v1h-1zM351.0 379.3h1v1h-1zM313.3 380.1h1v1h-1zM320.1 380.1h1v1h-1zM346.4 380.4h1v1h-1zM354.1 380.3h1v1h-1zM363.4 380.2h1v1h-1zM380.2 380.1h1v1h-1zM395.4 380.0h1v1h-1zM316.4 381.3h1v1h-1zM321.1 381.3h1v1h-1zM322.0 381.0h1v1h-1zM333.2 381.3h1v1h-1zM337.2 381.4h1v1h-1zM352.3 381.3h1v1h-1zM353.3 381.1h1v1h-1zM356.3 381.3h1v1h-1zM359.3 381.2h1v1h-1zM361.0 381.4h1v1h-1zM376.2 381.0h1v1h-1zM383.3 381.1h1v1h-1zM391.3 381.3h1v1h-1zM311.1 382.1h1v1h-1zM320.0 382.2h1v1h-1zM327.1 382.3h1v1h-1zM340.2 382.2h1v1h-1zM342.1 382.3h1v1h-1zM345.0 382.4h1v1h-1zM364.3 382.2h1v1h-1zM365.3 382.2h1v1h-1zM375.1 382.3h1v1h-1zM317.0 383.1h1v1h-1zM323.3 383.3h1v1h-1zM329.2 383.2h1v1h-1zM332.2 383.3h1v1h-1zM335.3 383.1h1v1h-1zM337.1 383.1h1v1h-1zM346.4 383.3h1v1h-1zM348.3 383.3h1v1h-1zM364.1 383.4h1v1h-1zM376.3 383.1h1v1h-1zM392.1 383.0h1v1h-1zM394.3 383.3h1v1h-1zM309.1 384.1h1v1h-1zM316.1 384.2h1v1h-1zM318.2 384.4h1v1h-1zM359.4 384.2h1v1h-1zM360.4 384.0h1v1h-1zM361.3 384.3h1v1h-1zM367.4 384.4h1v1h-1zM381.3 384.1h1v1h-1zM307.2 385.4h1v1h-1zM308.3 385.3h1v1h-1zM310.2 385.1h1v1h-1zM319.1 385.4h1v1h-1zM323.2 385.0h1v1h-1zM342.3 385.1h1v1h-1zM345.4 385.3h1v1h-1zM347.3 385.2h1v1h-1zM355.3 385.1h1v1h-1zM365.4 385.1h1v1h-1zM375.2 385.2h1v1h-1zM309.4 386.3h1v1h-1zM311.3 386.1h1v1h-1zM319.3 386.3h1v1h-1zM327.2 386.3h1v1h-1zM336.1 386.0h1v1h-1zM359.2 386.4h1v1h-1zM362.1 386.4h1v1h-1zM367.2 386.0h1v1h-1zM373.0 386.1h1v1h-1zM308.1 387.1h1v1h-1zM313.0 387.3h1v1h-1zM328.4 387.4h1v1h-1zM337.2 387.1h1v1h-1zM348.3 387.3h1v1h-1zM358.3 387.0h1v1h-1zM385.3 387.3h1v1h-1zM308.1 388.1h1v1h-1zM327.2 388.3h1v1h-1zM333.3 388.2h1v1h-1zM339.1 388.1h1v1h-1zM341.4 388.2h1v1h-1zM366.1 388.2h1v1h-1zM372.1 388.1h1v1h-1zM382.1 388.4h1v1h-1zM384.1 388.2h1v1h-1zM389.0 388.1h1v1h-1zM312.1 389.2h1v1h-1zM316.3 389.2h1v1h-1zM319.2 389.1h1v1h-1zM325.2 389.1h1v1h-1zM347.1 389.3h1v1h-1zM349.3 389.1h1v1h-1zM354.2 389.1h1v1h-1zM356.4 389.3h1v1h-1zM357.3 389.0h1v1h-1zM361.3 389.4h1v1h-1zM362.4 389.1h1v1h-1zM363.3 389.3h1v1h-1zM369.1 389.3h1v1h-1zM376.3 389.1h1v1h-1zM379.2 389.1h1v1h-1zM311.3 390.2h1v1h-1zM317.4 390.1h1v1h-1zM320.0 390.1h1v1h-1zM321.4 390.4h1v1h-1zM340.2 390.1h1v1h-1zM352.1 390.1h1v1h-1zM363.2 390.2h1v1h-1zM372.2 390.1h1v1h-1zM375.1 390.1h1v1h-1zM311.3 391.4h1v1h-1zM312.2 391.4h1v1h-1zM317.3 391.3h1v1h-1zM327.2 391.2h1v1h-1zM333.0 391.3h1v1h-1zM334.0 391.1h1v1h-1zM344.1 391.4h1v1h-1zM345.3 391.1h1v1h-1zM365.1 391.4h1v1h-1zM373.1 391.4h1v1h-1zM388.4 391.3h1v1h-1zM392.2 391.1h1v1h-1zM310.1 392.1h1v1h-1zM322.0 392.2h1v1h-1zM328.1 392.2h1v1h-1zM331.0 392.0h1v1h-1zM334.2 392.3h1v1h-1zM347.1 392.3h1v1h-1zM357.2 392.3h1v1h-1zM362.2 392.4h1v1h-1zM383.0 392.2h1v1h-1zM323.3 393.0h1v1h-1zM329.0 393.2h1v1h-1zM342.0 393.3h1v1h-1zM352.4 393.1h1v1h-1zM365.4 393.3h1v1h-1zM366.0 393.2h1v1h-1zM319.2 394.1h1v1h-1zM325.1 394.3h1v1h-1zM331.2 394.3h1v1h-1zM333.3 394.4h1v1h-1zM348.2 394.4h1v1h-1zM357.2 394.0h1v1h-1zM310.0 395.1h1v1h-1zM311.2 395.1h1v1h-1zM320.4 395.2h1v1h-1zM335.3 395.2h1v1h-1zM347.3 395.1h1v1h-1zM356.1 395.1h1v1h-1zM367.4 395.4h1v1h-1zM393.2 395.1h1v1h-1zM317.3 396.2h1v1h-1zM320.3 396.1h1v1h-1zM323.4 396.4h1v1h-1zM327.2 396.3h1v1h-1zM334.2 396.2h1v1h-1zM338.3 396.1h1v1h-1zM350.3 396.3h1v1h-1zM353.2 396.0h1v1h-1zM355.1 396.2h1v1h-1zM363.1 396.2h1v1h-1zM320.1 397.1h1v1h-1zM335.3 397.3h1v1h-1zM368.0 397.3h1v1h-1zM338.1 398.4h1v1h-1zM348.0 398.2h1v1h-1zM350.2 398.1h1v1h-1zM362.4 398.3h1v1h-1zM378.1 398.2h1v1h-1zM389.2 398.1h1v1h-1zM310.0 399.2h1v1h-1zM311.4 399.1h1v1h-1zM329.4 399.3h1v1h-1zM338.2 399.1h1v1h-1zM345.2 399.2h1v1h-1zM348.2 399.1h1v1h-1zM360.2 399.2h1v1h-1zM371.3 399.2h1v1h-1zM382.0 399.3h1v1h-1zM392.0 399.3h1v1h-1zM331.3 400.3h1v1h-1zM351.1 400.1h1v1h-1zM352.4 400.3h1v1h-1zM358.1 400.3h1v1h-1zM367.3 400.3h1v1h-1zM377.4 400.4h1v1h-1zM352.2 401.0h1v1h-1zM373.2 401.0h1v1h-1zM324.3 402.2h1v1h-1zM374.1 402.1h1v1h-1zM337.2 403.0h1v1h-1zM339.3 403.1h1v1h-1zM358.2 403.1h1v1h-1zM318.1 404.1h1v1h-1zM336.1 404.3h1v1h-1zM350.2 404.2h1v1h-1zM351.2 404.1h1v1h-1zM352.0 404.4h1v1h-1zM364.4 404.1h1v1h-1zM363.3 405.3h1v1h-1zM310.2 406.3h1v1h-1zM330.1 406.4h1v1h-1zM379.2 406.4h1v1h-1zM328.2 407.2h1v1h-1zM330.0 408.0h1v1h-1zM341.0 408.3h1v1h-1zM346.2 408.3h1v1h-1zM366.3 408.1h1v1h-1zM384.2 409.4h1v1h-1zM348.2 410.0h1v1h-1zM380.4 410.2h1v1h-1zM361.2 411.2h1v1h-1zM367.2 411.3h1v1h-1zM369.4 411.4h1v1h-1zM364.3 412.3h1v1h-1zM352.2 413.1h1v1h-1zM361.1 413.4h1v1h-1zM365.4 413.2h1v1h-1zM392.2 413.2h1v1h-1zM363.2 414.2h1v1h-1zM355.0 415.2h1v1h-1zM362.2 417.3h1v1h-1zM341.0 418.2h1v1h-1zM343.1 419.2h1v1h-1zM374.1 419.2h1v1h-1zM322.3 420.2h1v1h-1zM394.1 420.1h1v1h-1zM332.1 421.2h1v1h-1zM314.1 422.4h1v1h-1zM371.1 422.2h1v1h-1zM379.2 422.2h1v1h-1zM384.1 422.1h1v1h-1zM395.1 422.1h1v1h-1zM310.1 424.4h1v1h-1zM312.2 424.4h1v1h-1zM347.1 424.2h1v1h-1zM384.4 424.2h1v1h-1zM389.0 424.1h1v1h-1zM398.1 424.4h1v1h-1zM320.2 425.1h1v1h-1zM353.3 425.1h1v1h-1zM388.1 427.1h1v1h-1zM308.1 428.1h1v1h-1zM318.3 428.2h1v1h-1zM364.3 428.3h1v1h-1zM350.3 429.1h1v1h-1zM321.3 430.4h1v1h-1zM369.4 430.1h1v1h-1zM313.2 431.4h1v1h-1zM344.1 431.1h1v1h-1zM357.1 431.1h1v1h-1zM363.2 431.3h1v1h-1zM337.1 432.1h1v1h-1zM394.1 432.3h1v1h-1zM387.0 433.2h1v1h-1zM395.2 433.3h1v1h-1zM340.2 435.3h1v1h-1zM307.4 436.3h1v1h-1zM363.1 436.3h1v1h-1zM323.0 437.2h1v1h-1zM373.4 438.1h1v1h-1zM322.2 440.3h1v1h-1zM348.4 440.1h1v1h-1zM351.4 442.3h1v1h-1z" fill="#acacac"/>
<path d="M356.2 350.3h1v1h-1zM342.2 352.0h1v1h-1zM310.0 355.2h1v1h-1zM326.2 357.2h1v1h-1zM369.1 358.0h1v1h-1zM378.1 358.1h1v1h-1zM398.2 364.3h1v1h-1zM390.2 367.4h1v1h-1zM399.3 372.0h1v1h-1zM384.3 376.4h1v1h-1zM396.2 382.3h1v1h-1zM399.3 387.3h1v1h-1zM387.4 393.2h1v1h-1zM397.2 393.0h1v1h-1zM307.2 402.1h1v1h-1zM396.2 402.2h1v1h-1zM314.3 405.0h1v1h-1zM371.1 406.2h1v1h-1zM327.2 407.1h1v1h-1zM332.3 407.2h1v1h-1zM314.0 409.0h1v1h-1zM327.1 411.4h1v1h-1zM394.1 413.3h1v1h-1zM390.4 414.3h1v1h-1zM371.2 415.3h1v1h-1zM332.1 416.2h1v1h-1zM309.1 417.2h1v1h-1zM360.3 418.3h1v1h-1zM381.2 423.1h1v1h-1zM312.1 427.0h1v1h-1zM332.3 427.1h1v1h-1zM385.2 427.4h1v1h-1zM386.0 427.2h1v1h-1zM315.4 428.3h1v1h-1zM321.1 429.1h1v1h-1zM327.1 430.1h1v1h-1zM375.3 430.3h1v1h-1zM349.3 432.2h1v1h-1zM361.1 432.4h1v1h-1zM372.0 433.3h1v1h-1zM321.0 434.4h1v1h-1zM358.3 435.0h1v1h-1zM386.1 436.2h1v1h-1zM329.1 437.3h1v1h-1zM373.2 440.2h1v1h-1zM385.3 440.0h1v1h-1zM313.2 441.4h1v1h-1zM382.1 441.2h1v1h-1zM319.2 442.3h1v1h-1zM334.3 442.1h1v1h-1z" fill="#c8c8c8"/>
</g>
<line x1="351.40" y1="348.90" x2="351.40" y2="444.20" stroke="#222" stroke-width="1.00"/>
<line x1="306.20" y1="388.80" x2="400.80" y2="388.80" stroke="#222" stroke-width="1.00"/>
<rect x="306.20" y="348.90" width="94.60" height="95.30" fill="none" stroke="#000" stroke-width="1.30"/>
<line x1="304.60" y1="361.00" x2="306.20" y2="361.00" stroke="#555" stroke-width="0.80"/>
<line x1="304.60" y1="366.00" x2="306.20" y2="366.00" stroke="#555" stroke-width="0.80"/>
<line x1="304.60" y1="372.00" x2="306.20" y2="372.00" stroke="#555" stroke-width="0.80"/>
<line x1="304.60" y1="395.00" x2="306.20" y2="395.00" stroke="#555" stroke-width="0.80"/>
<line x1="304.60" y1="405.00" x2="306.20" y2="405.00" stroke="#555" stroke-width="0.80"/>
<line x1="304.60" y1="420.00" x2="306.20" y2="420.00" stroke="#555" stroke-width="0.80"/>
<line x1="304.60" y1="432.00" x2="306.20" y2="432.00" stroke="#555" stroke-width="0.80"/>
<line x1="304.60" y1="438.00" x2="306.20" y2="438.00" stroke="#555" stroke-width="0.80"/>
<line x1="312.20" y1="444.20" x2="312.20" y2="445.80" stroke="#555" stroke-width="0.80"/>
<line x1="318.20" y1="444.20" x2="318.20" y2="445.80" stroke="#555" stroke-width="0.80"/>
<line x1="336.20" y1="444.20" x2="336.20" y2="445.80" stroke="#555" stroke-width="0.80"/>
<line x1="354.20" y1="444.20" x2="354.20" y2="445.80" stroke="#555" stroke-width="0.80"/>
<line x1="368.20" y1="444.20" x2="368.20" y2="445.80" stroke="#555" stroke-width="0.80"/>
<line x1="386.20" y1="444.20" x2="386.20" y2="445.80" stroke="#555" stroke-width="0.80"/>
<text x="308.00" y="357.20" font-size="8.30" style="stroke-width:0.13px">0.156</text>
<text x="308.00" y="365.90" font-size="8.30" style="stroke-width:0.13px">±0.00034%</text>
<text x="353.60" y="357.20" font-size="8.30" style="stroke-width:0.13px">0.018</text>
<text x="353.60" y="365.90" font-size="8.30" style="stroke-width:0.13px">±0.00006%</text>
<text x="353.60" y="430.90" font-size="8.30" style="stroke-width:0.13px">0.012</text>
<text x="353.60" y="439.60" font-size="8.30" style="stroke-width:0.13px">±0.000008%</text>
<clipPath id="fc12"><rect x="408.30" y="348.90" width="94.20" height="95.00"/></clipPath>
<g clip-path="url(#fc12)">
<ellipse cx="435.70" cy="371.90" rx="30" ry="13" fill="#000" opacity="0.22" filter="url(#b3)"/>
<ellipse cx="443.70" cy="368.90" rx="12" ry="6" fill="#000" opacity="0.22" filter="url(#b3)"/>
<ellipse cx="434.70" cy="394.00" rx="26" ry="6" fill="#000" opacity="0.07" filter="url(#b3)"/>
<ellipse cx="466.70" cy="372.90" rx="14" ry="14" fill="#000" opacity="0.05" filter="url(#b3)"/>
</g>
<g filter="url(#dotblur)">
<path d="M434.3 362.2h1v1h-1zM437.2 362.2h1v1h-1zM444.1 362.3h1v1h-1zM423.0 363.0h1v1h-1zM427.0 363.0h1v1h-1zM428.1 363.1h1v1h-1zM430.3 363.2h1v1h-1zM432.2 363.1h1v1h-1zM433.3 363.0h1v1h-1zM440.2 363.1h1v1h-1zM447.4 363.4h1v1h-1zM416.0 364.2h1v1h-1zM419.1 364.3h1v1h-1zM426.1 364.3h1v1h-1zM430.4 364.3h1v1h-1zM431.2 364.2h1v1h-1zM432.0 364.2h1v1h-1zM434.2 364.3h1v1h-1zM436.2 364.1h1v1h-1zM437.3 364.2h1v1h-1zM438.2 364.0h1v1h-1zM440.2 364.1h1v1h-1zM441.2 364.0h1v1h-1zM443.0 364.3h1v1h-1zM444.3 364.4h1v1h-1zM446.3 364.2h1v1h-1zM448.3 364.2h1v1h-1zM423.3 365.2h1v1h-1zM425.3 365.2h1v1h-1zM426.1 365.3h1v1h-1zM429.2 365.2h1v1h-1zM431.1 365.2h1v1h-1zM432.3 365.2h1v1h-1zM434.2 365.0h1v1h-1zM435.1 365.2h1v1h-1zM436.3 365.2h1v1h-1zM437.4 365.2h1v1h-1zM439.4 365.1h1v1h-1zM440.2 365.0h1v1h-1zM443.0 365.2h1v1h-1zM445.2 365.1h1v1h-1zM446.2 365.3h1v1h-1zM447.3 365.0h1v1h-1zM448.3 365.2h1v1h-1zM449.1 365.1h1v1h-1zM451.3 365.2h1v1h-1zM428.1 366.1h1v1h-1zM432.1 366.3h1v1h-1zM435.3 366.1h1v1h-1zM436.1 366.3h1v1h-1zM437.3 366.1h1v1h-1zM439.1 366.1h1v1h-1zM441.1 366.1h1v1h-1zM448.3 366.0h1v1h-1zM423.1 367.1h1v1h-1zM426.2 367.2h1v1h-1zM431.1 367.4h1v1h-1zM434.2 367.1h1v1h-1zM436.3 367.1h1v1h-1zM438.2 367.0h1v1h-1zM441.2 367.1h1v1h-1zM442.4 367.1h1v1h-1zM443.1 367.3h1v1h-1zM444.0 367.2h1v1h-1zM445.4 367.2h1v1h-1zM446.0 367.3h1v1h-1zM447.3 367.4h1v1h-1zM449.0 367.2h1v1h-1zM450.0 367.1h1v1h-1zM451.4 367.2h1v1h-1zM421.3 368.0h1v1h-1zM422.2 368.1h1v1h-1zM428.4 368.3h1v1h-1zM431.2 368.2h1v1h-1zM436.1 368.0h1v1h-1zM437.3 368.1h1v1h-1zM438.2 368.2h1v1h-1zM439.2 368.1h1v1h-1zM440.1 368.0h1v1h-1zM441.3 368.2h1v1h-1zM442.4 368.3h1v1h-1zM445.3 368.3h1v1h-1zM447.2 368.1h1v1h-1zM450.2 368.1h1v1h-1zM414.3 369.0h1v1h-1zM420.2 369.3h1v1h-1zM424.0 369.1h1v1h-1zM425.0 369.2h1v1h-1zM428.0 369.1h1v1h-1zM429.3 369.2h1v1h-1zM432.1 369.0h1v1h-1zM435.1 369.0h1v1h-1zM437.2 369.3h1v1h-1zM439.1 369.2h1v1h-1zM440.2 369.2h1v1h-1zM445.2 369.3h1v1h-1zM446.0 369.3h1v1h-1zM447.2 369.1h1v1h-1zM449.4 369.1h1v1h-1zM451.2 369.3h1v1h-1zM452.1 369.2h1v1h-1zM420.2 370.1h1v1h-1zM425.4 370.1h1v1h-1zM426.1 370.2h1v1h-1zM427.3 370.0h1v1h-1zM430.2 370.1h1v1h-1zM431.1 370.3h1v1h-1zM433.3 370.4h1v1h-1zM434.3 370.1h1v1h-1zM435.1 370.0h1v1h-1zM436.2 370.0h1v1h-1zM438.4 370.1h1v1h-1zM439.3 370.2h1v1h-1zM440.2 370.1h1v1h-1zM441.1 370.3h1v1h-1zM442.4 370.3h1v1h-1zM444.3 370.2h1v1h-1zM446.1 370.1h1v1h-1zM447.1 370.4h1v1h-1zM448.3 370.3h1v1h-1zM449.3 370.3h1v1h-1zM450.4 370.3h1v1h-1zM415.2 371.2h1v1h-1zM424.2 371.2h1v1h-1zM429.2 371.3h1v1h-1zM431.2 371.2h1v1h-1zM433.1 371.0h1v1h-1zM434.0 371.1h1v1h-1zM435.1 371.3h1v1h-1zM437.1 371.0h1v1h-1zM440.1 371.1h1v1h-1zM441.1 371.1h1v1h-1zM443.3 371.4h1v1h-1zM444.3 371.1h1v1h-1zM445.3 371.2h1v1h-1zM448.2 371.1h1v1h-1zM449.3 371.1h1v1h-1zM450.1 371.4h1v1h-1zM422.2 372.2h1v1h-1zM427.3 372.3h1v1h-1zM428.2 372.3h1v1h-1zM431.0 372.2h1v1h-1zM432.1 372.4h1v1h-1zM435.2 372.1h1v1h-1zM437.1 372.4h1v1h-1zM438.0 372.3h1v1h-1zM441.1 372.0h1v1h-1zM442.1 372.1h1v1h-1zM443.4 372.2h1v1h-1zM444.2 372.0h1v1h-1zM445.3 372.1h1v1h-1zM446.3 372.2h1v1h-1zM447.1 372.3h1v1h-1zM448.1 372.2h1v1h-1zM421.4 373.0h1v1h-1zM432.3 373.3h1v1h-1zM433.3 373.3h1v1h-1zM435.2 373.1h1v1h-1zM436.3 373.0h1v1h-1zM438.2 373.2h1v1h-1zM442.1 373.3h1v1h-1zM443.0 373.3h1v1h-1zM447.1 373.1h1v1h-1zM427.2 374.1h1v1h-1zM441.1 374.2h1v1h-1zM442.4 374.2h1v1h-1zM443.4 374.3h1v1h-1zM429.2 375.4h1v1h-1zM435.1 375.1h1v1h-1zM440.2 375.4h1v1h-1zM444.2 375.4h1v1h-1zM445.1 375.4h1v1h-1zM448.1 375.2h1v1h-1zM435.2 376.1h1v1h-1zM436.3 376.1h1v1h-1zM437.3 376.4h1v1h-1zM442.3 376.2h1v1h-1z" fill="#383838"/>
<path d="M437.1 360.2h1v1h-1zM420.2 361.2h1v1h-1zM423.2 361.2h1v1h-1zM436.3 361.4h1v1h-1zM441.3 361.1h1v1h-1zM443.3 361.2h1v1h-1zM444.3 361.2h1v1h-1zM445.1 361.4h1v1h-1zM446.3 361.2h1v1h-1zM450.0 361.2h1v1h-1zM451.0 361.1h1v1h-1zM422.2 362.0h1v1h-1zM425.0 362.3h1v1h-1zM427.0 362.1h1v1h-1zM428.3 362.3h1v1h-1zM435.1 362.2h1v1h-1zM440.1 362.2h1v1h-1zM442.2 362.1h1v1h-1zM443.4 362.3h1v1h-1zM445.1 362.3h1v1h-1zM446.2 362.4h1v1h-1zM411.0 363.1h1v1h-1zM422.1 363.4h1v1h-1zM429.1 363.1h1v1h-1zM431.1 363.1h1v1h-1zM434.0 363.1h1v1h-1zM437.2 363.4h1v1h-1zM441.2 363.3h1v1h-1zM442.1 363.3h1v1h-1zM445.3 363.2h1v1h-1zM446.1 363.1h1v1h-1zM448.4 363.0h1v1h-1zM451.1 363.2h1v1h-1zM409.4 364.3h1v1h-1zM411.2 364.2h1v1h-1zM413.3 364.2h1v1h-1zM421.1 364.4h1v1h-1zM423.1 364.3h1v1h-1zM424.1 364.3h1v1h-1zM427.1 364.1h1v1h-1zM428.2 364.1h1v1h-1zM442.0 364.3h1v1h-1zM447.1 364.2h1v1h-1zM449.1 364.4h1v1h-1zM410.1 365.2h1v1h-1zM412.1 365.3h1v1h-1zM415.3 365.4h1v1h-1zM419.2 365.3h1v1h-1zM420.2 365.2h1v1h-1zM427.2 365.0h1v1h-1zM438.4 365.3h1v1h-1zM441.4 365.2h1v1h-1zM442.3 365.1h1v1h-1zM444.1 365.1h1v1h-1zM413.1 366.1h1v1h-1zM415.1 366.3h1v1h-1zM418.0 366.1h1v1h-1zM419.3 366.3h1v1h-1zM420.2 366.0h1v1h-1zM422.1 366.3h1v1h-1zM424.3 366.3h1v1h-1zM425.2 366.1h1v1h-1zM426.4 366.3h1v1h-1zM427.1 366.0h1v1h-1zM429.2 366.4h1v1h-1zM430.3 366.2h1v1h-1zM431.3 366.2h1v1h-1zM433.2 366.2h1v1h-1zM434.2 366.4h1v1h-1zM442.2 366.1h1v1h-1zM443.4 366.1h1v1h-1zM444.0 366.3h1v1h-1zM446.1 366.2h1v1h-1zM447.1 366.2h1v1h-1zM450.3 366.0h1v1h-1zM451.3 366.2h1v1h-1zM411.2 367.3h1v1h-1zM414.2 367.2h1v1h-1zM415.1 367.1h1v1h-1zM428.3 367.4h1v1h-1zM429.1 367.2h1v1h-1zM437.3 367.1h1v1h-1zM439.3 367.2h1v1h-1zM409.2 368.1h1v1h-1zM410.3 368.3h1v1h-1zM412.2 368.2h1v1h-1zM416.3 368.3h1v1h-1zM418.1 368.3h1v1h-1zM419.2 368.2h1v1h-1zM420.0 368.1h1v1h-1zM423.3 368.1h1v1h-1zM424.0 368.1h1v1h-1zM425.4 368.4h1v1h-1zM426.3 368.2h1v1h-1zM427.3 368.2h1v1h-1zM432.1 368.1h1v1h-1zM433.1 368.3h1v1h-1zM435.2 368.2h1v1h-1zM444.2 368.4h1v1h-1zM448.1 368.1h1v1h-1zM449.1 368.1h1v1h-1zM451.1 368.0h1v1h-1zM452.2 368.3h1v1h-1zM412.0 369.1h1v1h-1zM416.4 369.0h1v1h-1zM417.2 369.4h1v1h-1zM418.2 369.1h1v1h-1zM426.3 369.1h1v1h-1zM427.1 369.3h1v1h-1zM431.1 369.2h1v1h-1zM433.2 369.0h1v1h-1zM436.3 369.0h1v1h-1zM441.2 369.4h1v1h-1zM442.0 369.3h1v1h-1zM450.3 369.3h1v1h-1zM412.4 370.4h1v1h-1zM414.0 370.1h1v1h-1zM418.2 370.3h1v1h-1zM421.1 370.2h1v1h-1zM422.4 370.3h1v1h-1zM429.3 370.2h1v1h-1zM432.4 370.1h1v1h-1zM437.3 370.2h1v1h-1zM445.1 370.3h1v1h-1zM451.2 370.4h1v1h-1zM410.1 371.4h1v1h-1zM411.2 371.0h1v1h-1zM412.3 371.4h1v1h-1zM417.2 371.3h1v1h-1zM418.1 371.2h1v1h-1zM419.4 371.0h1v1h-1zM422.2 371.1h1v1h-1zM427.2 371.4h1v1h-1zM428.1 371.1h1v1h-1zM432.3 371.3h1v1h-1zM442.1 371.3h1v1h-1zM446.1 371.0h1v1h-1zM447.3 371.1h1v1h-1zM451.3 371.3h1v1h-1zM417.2 372.2h1v1h-1zM420.2 372.4h1v1h-1zM421.0 372.4h1v1h-1zM424.1 372.2h1v1h-1zM425.4 372.2h1v1h-1zM426.1 372.3h1v1h-1zM429.1 372.1h1v1h-1zM430.2 372.3h1v1h-1zM433.1 372.2h1v1h-1zM434.1 372.4h1v1h-1zM439.4 372.3h1v1h-1zM440.0 372.1h1v1h-1zM450.1 372.4h1v1h-1zM451.2 372.3h1v1h-1zM452.1 372.3h1v1h-1zM409.0 373.3h1v1h-1zM411.1 373.0h1v1h-1zM412.4 373.4h1v1h-1zM414.1 373.3h1v1h-1zM415.4 373.2h1v1h-1zM416.1 373.0h1v1h-1zM417.0 373.3h1v1h-1zM425.2 373.3h1v1h-1zM427.2 373.4h1v1h-1zM431.1 373.2h1v1h-1zM434.1 373.2h1v1h-1zM437.3 373.2h1v1h-1zM440.0 373.4h1v1h-1zM444.2 373.3h1v1h-1zM451.0 373.3h1v1h-1zM409.1 374.2h1v1h-1zM412.2 374.2h1v1h-1zM413.0 374.1h1v1h-1zM416.2 374.2h1v1h-1zM423.3 374.2h1v1h-1zM428.3 374.3h1v1h-1zM430.1 374.2h1v1h-1zM431.3 374.3h1v1h-1zM433.1 374.2h1v1h-1zM435.1 374.1h1v1h-1zM437.2 374.4h1v1h-1zM439.0 374.1h1v1h-1zM440.1 374.2h1v1h-1zM423.2 375.4h1v1h-1zM427.0 375.0h1v1h-1zM431.3 375.2h1v1h-1zM438.2 375.3h1v1h-1zM442.3 375.3h1v1h-1zM450.3 375.4h1v1h-1zM418.2 376.0h1v1h-1zM431.3 376.3h1v1h-1zM438.1 376.0h1v1h-1zM440.1 376.2h1v1h-1zM444.2 376.1h1v1h-1zM446.4 376.2h1v1h-1zM451.3 376.2h1v1h-1zM414.3 377.3h1v1h-1zM418.4 377.1h1v1h-1zM419.1 377.4h1v1h-1zM422.1 377.1h1v1h-1zM425.3 377.2h1v1h-1zM431.2 377.3h1v1h-1zM436.2 377.3h1v1h-1zM439.2 377.1h1v1h-1zM441.4 377.1h1v1h-1zM444.0 377.0h1v1h-1zM446.1 377.2h1v1h-1zM447.0 377.2h1v1h-1zM448.3 377.1h1v1h-1zM451.2 377.1h1v1h-1zM420.2 378.2h1v1h-1zM421.4 378.1h1v1h-1zM422.2 378.3h1v1h-1zM442.1 378.4h1v1h-1zM443.0 378.1h1v1h-1zM426.1 379.3h1v1h-1zM428.2 379.4h1v1h-1z" fill="#626262"/>
<path d="M427.4 358.4h1v1h-1zM430.3 358.1h1v1h-1zM435.0 358.3h1v1h-1zM449.4 358.2h1v1h-1zM409.1 359.3h1v1h-1zM421.1 359.3h1v1h-1zM430.0 359.1h1v1h-1zM445.2 359.2h1v1h-1zM446.2 359.3h1v1h-1zM416.4 360.2h1v1h-1zM427.4 360.3h1v1h-1zM429.1 360.2h1v1h-1zM430.4 360.4h1v1h-1zM433.1 360.1h1v1h-1zM434.1 360.1h1v1h-1zM436.2 360.1h1v1h-1zM439.4 360.2h1v1h-1zM440.3 360.3h1v1h-1zM441.4 360.3h1v1h-1zM446.0 360.2h1v1h-1zM448.0 360.1h1v1h-1zM451.4 360.0h1v1h-1zM409.1 361.3h1v1h-1zM417.3 361.2h1v1h-1zM421.3 361.4h1v1h-1zM424.2 361.3h1v1h-1zM429.0 361.4h1v1h-1zM432.1 361.1h1v1h-1zM435.3 361.1h1v1h-1zM448.3 361.0h1v1h-1zM449.4 361.3h1v1h-1zM410.1 362.2h1v1h-1zM412.2 362.2h1v1h-1zM413.2 362.1h1v1h-1zM416.4 362.2h1v1h-1zM419.0 362.2h1v1h-1zM420.0 362.0h1v1h-1zM424.2 362.1h1v1h-1zM426.3 362.0h1v1h-1zM432.0 362.4h1v1h-1zM416.1 363.3h1v1h-1zM417.1 363.0h1v1h-1zM410.4 364.2h1v1h-1zM422.2 364.1h1v1h-1zM453.3 364.1h1v1h-1zM411.1 365.3h1v1h-1zM452.2 365.2h1v1h-1zM454.3 365.4h1v1h-1zM416.1 366.1h1v1h-1zM457.2 366.1h1v1h-1zM459.3 366.1h1v1h-1zM409.1 367.2h1v1h-1zM412.0 367.2h1v1h-1zM424.2 367.2h1v1h-1zM457.3 367.2h1v1h-1zM459.3 367.1h1v1h-1zM411.1 368.3h1v1h-1zM415.4 368.1h1v1h-1zM410.1 369.3h1v1h-1zM413.2 369.4h1v1h-1zM415.0 369.2h1v1h-1zM453.2 369.1h1v1h-1zM454.3 369.0h1v1h-1zM413.0 370.1h1v1h-1zM416.1 370.3h1v1h-1zM423.3 370.2h1v1h-1zM413.1 371.3h1v1h-1zM425.4 371.3h1v1h-1zM452.4 371.2h1v1h-1zM454.1 371.2h1v1h-1zM413.1 372.2h1v1h-1zM423.4 372.2h1v1h-1zM454.2 372.0h1v1h-1zM457.4 372.2h1v1h-1zM410.1 373.4h1v1h-1zM418.3 373.1h1v1h-1zM423.2 373.2h1v1h-1zM424.1 373.1h1v1h-1zM430.1 373.1h1v1h-1zM453.2 373.2h1v1h-1zM462.3 373.3h1v1h-1zM425.4 374.1h1v1h-1zM412.3 375.3h1v1h-1zM414.2 375.1h1v1h-1zM415.1 375.2h1v1h-1zM419.1 375.1h1v1h-1zM421.1 375.0h1v1h-1zM424.2 375.4h1v1h-1zM425.0 375.3h1v1h-1zM433.1 375.2h1v1h-1zM434.2 375.1h1v1h-1zM446.1 375.2h1v1h-1zM447.1 375.4h1v1h-1zM411.1 376.2h1v1h-1zM412.1 376.1h1v1h-1zM415.3 376.2h1v1h-1zM424.4 376.1h1v1h-1zM441.0 376.3h1v1h-1zM443.1 376.1h1v1h-1zM448.3 376.1h1v1h-1zM450.3 376.1h1v1h-1zM455.3 376.2h1v1h-1zM462.0 376.0h1v1h-1zM415.2 377.1h1v1h-1zM427.2 377.4h1v1h-1zM429.1 377.4h1v1h-1zM430.3 377.4h1v1h-1zM433.1 377.3h1v1h-1zM435.1 377.3h1v1h-1zM437.2 377.1h1v1h-1zM442.2 377.4h1v1h-1zM409.1 378.3h1v1h-1zM411.2 378.1h1v1h-1zM413.3 378.1h1v1h-1zM419.1 378.0h1v1h-1zM428.2 378.0h1v1h-1zM429.2 378.3h1v1h-1zM430.1 378.3h1v1h-1zM432.4 378.2h1v1h-1zM435.3 378.2h1v1h-1zM439.2 378.2h1v1h-1zM440.4 378.2h1v1h-1zM447.2 378.1h1v1h-1zM448.2 378.4h1v1h-1zM449.3 378.1h1v1h-1zM452.3 378.0h1v1h-1zM414.1 379.4h1v1h-1zM416.1 379.3h1v1h-1zM417.0 379.3h1v1h-1zM419.1 379.3h1v1h-1zM421.3 379.2h1v1h-1zM423.1 379.3h1v1h-1zM425.4 379.0h1v1h-1zM427.4 379.3h1v1h-1zM437.3 379.0h1v1h-1zM441.0 379.3h1v1h-1zM443.1 379.0h1v1h-1zM444.1 379.4h1v1h-1zM449.3 379.2h1v1h-1zM414.1 380.2h1v1h-1zM416.2 380.0h1v1h-1zM431.4 380.4h1v1h-1zM432.3 380.3h1v1h-1zM433.2 380.2h1v1h-1zM434.1 380.2h1v1h-1zM439.2 380.1h1v1h-1zM442.4 380.0h1v1h-1zM444.4 380.2h1v1h-1zM445.0 380.2h1v1h-1zM452.2 380.2h1v1h-1zM453.2 380.3h1v1h-1zM457.1 380.4h1v1h-1zM410.0 381.1h1v1h-1zM417.3 381.2h1v1h-1zM428.2 381.1h1v1h-1zM434.2 381.4h1v1h-1zM436.1 381.4h1v1h-1zM442.4 381.4h1v1h-1zM444.3 381.4h1v1h-1zM418.1 382.1h1v1h-1zM425.0 382.4h1v1h-1zM437.3 382.4h1v1h-1zM439.3 382.3h1v1h-1zM441.0 382.0h1v1h-1zM443.3 382.4h1v1h-1zM457.1 382.4h1v1h-1zM416.3 383.3h1v1h-1zM420.2 383.2h1v1h-1zM432.0 383.3h1v1h-1zM440.4 383.1h1v1h-1zM442.2 383.2h1v1h-1zM445.3 383.3h1v1h-1zM449.3 383.2h1v1h-1zM451.1 383.1h1v1h-1zM452.3 383.3h1v1h-1zM454.2 383.4h1v1h-1zM412.4 384.3h1v1h-1zM414.3 384.3h1v1h-1zM416.1 384.1h1v1h-1zM444.2 384.3h1v1h-1zM448.1 384.0h1v1h-1zM411.3 385.1h1v1h-1zM413.4 385.0h1v1h-1zM414.1 385.0h1v1h-1zM425.2 385.1h1v1h-1zM431.3 385.1h1v1h-1zM432.1 385.4h1v1h-1zM435.4 385.2h1v1h-1zM442.1 385.1h1v1h-1zM456.3 385.3h1v1h-1zM416.4 386.2h1v1h-1zM420.0 386.2h1v1h-1zM443.1 386.0h1v1h-1zM450.3 386.3h1v1h-1zM452.1 386.1h1v1h-1zM443.1 387.2h1v1h-1zM448.1 387.4h1v1h-1zM456.2 387.1h1v1h-1zM463.1 387.3h1v1h-1zM427.2 388.1h1v1h-1zM428.0 388.3h1v1h-1zM432.0 388.4h1v1h-1zM435.1 388.1h1v1h-1zM442.2 388.2h1v1h-1zM422.2 389.2h1v1h-1zM423.3 389.0h1v1h-1zM426.3 389.3h1v1h-1zM427.2 389.1h1v1h-1zM436.3 389.2h1v1h-1zM431.4 390.3h1v1h-1zM445.4 390.2h1v1h-1zM445.1 391.2h1v1h-1zM449.2 391.2h1v1h-1zM453.4 391.2h1v1h-1zM455.2 391.0h1v1h-1zM433.3 392.1h1v1h-1zM437.2 392.4h1v1h-1zM439.3 392.1h1v1h-1zM445.4 392.2h1v1h-1zM446.1 392.3h1v1h-1z" fill="#8a8a8a"/>
<path d="M425.2 351.4h1v1h-1zM461.3 351.3h1v1h-1zM479.4 351.1h1v1h-1zM451.0 352.4h1v1h-1zM462.2 352.2h1v1h-1zM475.3 352.2h1v1h-1zM412.1 353.1h1v1h-1zM438.2 353.2h1v1h-1zM446.1 353.1h1v1h-1zM469.2 353.0h1v1h-1zM411.2 355.3h1v1h-1zM435.3 355.3h1v1h-1zM439.3 355.3h1v1h-1zM440.1 355.3h1v1h-1zM452.1 355.1h1v1h-1zM496.3 355.2h1v1h-1zM429.3 356.1h1v1h-1zM448.1 356.0h1v1h-1zM453.1 356.4h1v1h-1zM464.4 356.4h1v1h-1zM436.4 357.1h1v1h-1zM446.3 357.1h1v1h-1zM448.0 357.0h1v1h-1zM449.2 357.2h1v1h-1zM451.1 357.4h1v1h-1zM454.3 357.2h1v1h-1zM459.1 357.3h1v1h-1zM461.2 357.0h1v1h-1zM417.2 358.1h1v1h-1zM422.3 358.3h1v1h-1zM428.0 358.1h1v1h-1zM451.0 358.2h1v1h-1zM475.0 358.1h1v1h-1zM410.0 359.2h1v1h-1zM423.2 359.0h1v1h-1zM432.3 359.2h1v1h-1zM436.4 359.1h1v1h-1zM451.0 359.3h1v1h-1zM418.0 360.3h1v1h-1zM457.3 360.1h1v1h-1zM460.2 360.2h1v1h-1zM455.1 361.2h1v1h-1zM474.3 361.2h1v1h-1zM472.1 362.3h1v1h-1zM460.4 364.3h1v1h-1zM461.2 364.3h1v1h-1zM469.0 364.2h1v1h-1zM460.2 365.1h1v1h-1zM472.2 365.0h1v1h-1zM464.2 366.2h1v1h-1zM486.3 366.2h1v1h-1zM456.2 367.0h1v1h-1zM462.1 367.2h1v1h-1zM463.0 367.2h1v1h-1zM477.2 367.3h1v1h-1zM470.4 368.2h1v1h-1zM474.3 368.2h1v1h-1zM476.1 368.1h1v1h-1zM489.3 368.1h1v1h-1zM491.0 368.2h1v1h-1zM462.2 369.2h1v1h-1zM482.3 369.4h1v1h-1zM486.1 369.0h1v1h-1zM455.1 370.0h1v1h-1zM456.3 370.0h1v1h-1zM468.4 370.0h1v1h-1zM475.1 370.1h1v1h-1zM476.1 370.1h1v1h-1zM456.0 371.3h1v1h-1zM462.1 371.1h1v1h-1zM466.3 371.4h1v1h-1zM473.0 371.1h1v1h-1zM483.4 371.0h1v1h-1zM456.1 372.1h1v1h-1zM458.0 372.0h1v1h-1zM464.4 372.2h1v1h-1zM492.4 372.3h1v1h-1zM460.3 373.2h1v1h-1zM471.2 373.3h1v1h-1zM478.0 373.1h1v1h-1zM500.4 373.0h1v1h-1zM453.0 374.0h1v1h-1zM470.2 374.1h1v1h-1zM472.1 374.1h1v1h-1zM493.2 374.2h1v1h-1zM464.4 375.4h1v1h-1zM477.4 375.2h1v1h-1zM500.0 375.0h1v1h-1zM470.4 376.0h1v1h-1zM499.3 376.0h1v1h-1zM453.1 377.2h1v1h-1zM454.2 377.0h1v1h-1zM456.0 377.1h1v1h-1zM463.3 377.1h1v1h-1zM474.4 377.1h1v1h-1zM498.2 377.1h1v1h-1zM455.2 378.0h1v1h-1zM464.3 378.1h1v1h-1zM476.4 378.0h1v1h-1zM480.3 378.1h1v1h-1zM484.3 378.2h1v1h-1zM453.0 379.3h1v1h-1zM466.3 379.3h1v1h-1zM476.2 379.1h1v1h-1zM496.2 379.2h1v1h-1zM410.3 380.1h1v1h-1zM417.3 380.4h1v1h-1zM419.3 380.0h1v1h-1zM422.0 380.2h1v1h-1zM423.4 380.3h1v1h-1zM441.1 380.1h1v1h-1zM451.1 380.2h1v1h-1zM462.4 380.3h1v1h-1zM470.1 380.4h1v1h-1zM478.4 380.2h1v1h-1zM416.1 381.4h1v1h-1zM422.4 381.1h1v1h-1zM423.2 381.1h1v1h-1zM424.2 381.2h1v1h-1zM432.2 381.4h1v1h-1zM433.4 381.1h1v1h-1zM438.3 381.1h1v1h-1zM439.4 381.3h1v1h-1zM445.4 381.1h1v1h-1zM479.3 381.3h1v1h-1zM482.0 381.3h1v1h-1zM486.2 381.2h1v1h-1zM429.3 382.4h1v1h-1zM434.3 382.2h1v1h-1zM467.0 382.1h1v1h-1zM470.2 382.1h1v1h-1zM412.1 383.3h1v1h-1zM426.2 383.3h1v1h-1zM435.3 383.2h1v1h-1zM438.1 383.0h1v1h-1zM443.2 383.2h1v1h-1zM413.4 384.1h1v1h-1zM417.3 384.0h1v1h-1zM425.0 384.0h1v1h-1zM434.0 384.2h1v1h-1zM440.1 384.2h1v1h-1zM446.3 384.3h1v1h-1zM449.1 384.3h1v1h-1zM452.0 384.3h1v1h-1zM475.0 384.3h1v1h-1zM487.2 384.0h1v1h-1zM420.2 385.3h1v1h-1zM427.0 385.3h1v1h-1zM464.2 385.1h1v1h-1zM486.1 385.3h1v1h-1zM487.1 385.2h1v1h-1zM412.1 386.1h1v1h-1zM428.0 386.0h1v1h-1zM436.1 386.2h1v1h-1zM444.0 386.2h1v1h-1zM446.1 386.1h1v1h-1zM449.2 386.0h1v1h-1zM458.2 386.3h1v1h-1zM460.0 386.0h1v1h-1zM461.2 386.3h1v1h-1zM464.1 386.4h1v1h-1zM482.1 386.4h1v1h-1zM418.1 387.3h1v1h-1zM430.0 387.2h1v1h-1zM449.3 387.0h1v1h-1zM455.2 387.4h1v1h-1zM459.0 387.1h1v1h-1zM461.1 387.4h1v1h-1zM470.3 387.3h1v1h-1zM476.2 387.3h1v1h-1zM419.4 388.3h1v1h-1zM421.2 388.2h1v1h-1zM422.0 388.3h1v1h-1zM425.1 388.1h1v1h-1zM429.1 388.3h1v1h-1zM430.3 388.1h1v1h-1zM431.1 388.4h1v1h-1zM436.3 388.3h1v1h-1zM439.2 388.2h1v1h-1zM448.1 388.3h1v1h-1zM455.4 388.2h1v1h-1zM466.4 388.1h1v1h-1zM498.1 388.1h1v1h-1zM413.3 389.3h1v1h-1zM414.2 389.0h1v1h-1zM415.3 389.3h1v1h-1zM420.3 389.0h1v1h-1zM450.1 389.1h1v1h-1zM462.4 389.0h1v1h-1zM490.2 389.4h1v1h-1zM410.1 390.1h1v1h-1zM416.0 390.1h1v1h-1zM419.3 390.1h1v1h-1zM429.3 390.2h1v1h-1zM432.2 390.2h1v1h-1zM437.1 390.3h1v1h-1zM451.1 390.4h1v1h-1zM460.1 390.2h1v1h-1zM464.1 390.3h1v1h-1zM474.2 390.4h1v1h-1zM480.2 390.2h1v1h-1zM481.0 390.3h1v1h-1zM410.4 391.4h1v1h-1zM416.4 391.4h1v1h-1zM424.2 391.2h1v1h-1zM434.3 391.4h1v1h-1zM458.3 391.2h1v1h-1zM460.1 391.2h1v1h-1zM468.0 391.0h1v1h-1zM488.2 391.2h1v1h-1zM496.1 391.1h1v1h-1zM409.3 392.0h1v1h-1zM416.3 392.1h1v1h-1zM418.1 392.2h1v1h-1zM423.2 392.4h1v1h-1zM440.3 392.2h1v1h-1zM452.1 392.2h1v1h-1zM465.2 392.3h1v1h-1zM468.2 392.4h1v1h-1zM472.4 392.1h1v1h-1zM412.3 393.2h1v1h-1zM418.1 393.3h1v1h-1zM433.0 393.0h1v1h-1zM436.1 393.3h1v1h-1zM440.2 393.4h1v1h-1zM441.3 393.3h1v1h-1zM442.1 393.2h1v1h-1zM443.4 393.2h1v1h-1zM446.3 393.3h1v1h-1zM447.2 393.3h1v1h-1zM449.1 393.2h1v1h-1zM451.1 393.3h1v1h-1zM481.1 393.3h1v1h-1zM413.4 394.3h1v1h-1zM420.4 394.4h1v1h-1zM428.1 394.0h1v1h-1zM440.1 394.3h1v1h-1zM451.3 394.3h1v1h-1zM454.2 394.2h1v1h-1zM458.3 394.3h1v1h-1zM460.1 394.0h1v1h-1zM490.0 394.4h1v1h-1zM431.0 395.1h1v1h-1zM439.3 395.2h1v1h-1zM443.0 395.3h1v1h-1zM448.0 395.1h1v1h-1zM452.4 395.1h1v1h-1zM453.3 395.2h1v1h-1zM498.2 395.3h1v1h-1zM419.2 396.2h1v1h-1zM432.1 396.0h1v1h-1zM443.1 396.1h1v1h-1zM447.3 396.1h1v1h-1zM410.3 397.2h1v1h-1zM425.3 397.3h1v1h-1zM434.0 397.2h1v1h-1zM440.3 397.3h1v1h-1zM412.2 398.3h1v1h-1zM419.3 398.2h1v1h-1zM421.1 398.2h1v1h-1zM456.3 398.3h1v1h-1zM496.3 398.3h1v1h-1zM417.2 399.2h1v1h-1zM431.3 399.3h1v1h-1zM440.2 399.2h1v1h-1zM448.2 399.1h1v1h-1zM478.3 399.2h1v1h-1zM415.3 400.2h1v1h-1zM418.4 400.3h1v1h-1zM426.0 400.1h1v1h-1zM437.2 400.2h1v1h-1zM441.3 400.3h1v1h-1zM460.2 400.2h1v1h-1zM463.2 400.3h1v1h-1zM477.1 400.1h1v1h-1zM478.3 400.4h1v1h-1zM484.2 400.2h1v1h-1zM418.4 401.0h1v1h-1zM428.3 401.0h1v1h-1zM457.2 401.3h1v1h-1zM478.3 401.3h1v1h-1zM487.4 401.1h1v1h-1zM483.1 402.1h1v1h-1zM411.3 403.3h1v1h-1zM415.2 403.3h1v1h-1zM420.2 403.0h1v1h-1zM431.0 403.0h1v1h-1zM470.4 403.3h1v1h-1zM412.0 404.0h1v1h-1zM434.0 404.3h1v1h-1zM443.3 404.4h1v1h-1zM450.1 404.2h1v1h-1zM432.1 405.1h1v1h-1zM440.0 405.3h1v1h-1zM445.4 405.4h1v1h-1zM447.3 405.2h1v1h-1zM425.3 406.2h1v1h-1zM455.2 406.3h1v1h-1zM478.0 406.2h1v1h-1zM433.2 407.1h1v1h-1zM438.1 407.3h1v1h-1zM465.3 407.4h1v1h-1zM426.3 408.4h1v1h-1zM446.1 408.2h1v1h-1zM458.1 408.0h1v1h-1zM458.3 409.0h1v1h-1zM460.3 409.2h1v1h-1zM466.2 409.1h1v1h-1zM417.0 410.3h1v1h-1zM447.2 410.4h1v1h-1zM463.3 410.4h1v1h-1zM440.1 411.4h1v1h-1zM444.1 411.0h1v1h-1zM463.3 411.2h1v1h-1zM435.3 412.4h1v1h-1zM452.3 412.1h1v1h-1zM453.2 412.1h1v1h-1zM458.2 412.2h1v1h-1zM449.1 413.2h1v1h-1zM457.4 413.2h1v1h-1zM435.3 414.1h1v1h-1zM460.1 415.3h1v1h-1zM453.3 418.1h1v1h-1zM466.2 419.2h1v1h-1zM472.0 420.4h1v1h-1zM424.1 421.1h1v1h-1zM409.2 423.0h1v1h-1zM484.4 423.1h1v1h-1zM443.4 424.4h1v1h-1zM441.3 426.4h1v1h-1zM485.1 426.2h1v1h-1zM429.4 428.1h1v1h-1zM445.1 430.2h1v1h-1zM465.3 431.1h1v1h-1zM447.4 432.0h1v1h-1zM459.2 432.3h1v1h-1zM470.1 432.1h1v1h-1zM418.2 434.0h1v1h-1zM419.3 435.4h1v1h-1zM436.3 435.4h1v1h-1zM428.0 436.3h1v1h-1zM426.0 437.1h1v1h-1zM409.2 439.0h1v1h-1zM429.4 439.3h1v1h-1zM441.3 439.0h1v1h-1zM415.1 440.3h1v1h-1zM426.1 440.2h1v1h-1zM448.4 441.1h1v1h-1zM446.4 442.2h1v1h-1zM492.0 442.0h1v1h-1z" fill="#acacac"/>
<path d="M494.0 350.4h1v1h-1zM442.0 351.3h1v1h-1zM487.2 355.1h1v1h-1zM427.0 356.1h1v1h-1zM480.2 356.2h1v1h-1zM480.2 357.2h1v1h-1zM490.1 358.2h1v1h-1zM483.1 360.0h1v1h-1zM471.1 362.2h1v1h-1zM482.1 364.3h1v1h-1zM492.3 366.3h1v1h-1zM499.3 367.3h1v1h-1zM496.4 375.3h1v1h-1zM490.2 377.3h1v1h-1zM482.1 380.2h1v1h-1zM486.1 384.2h1v1h-1zM488.2 386.2h1v1h-1zM483.0 387.1h1v1h-1zM471.1 395.2h1v1h-1zM499.0 395.1h1v1h-1zM470.2 398.1h1v1h-1zM480.3 398.1h1v1h-1zM448.0 400.4h1v1h-1zM413.1 404.1h1v1h-1zM437.0 405.4h1v1h-1zM447.1 406.0h1v1h-1zM470.3 407.2h1v1h-1zM478.3 407.3h1v1h-1zM453.3 408.2h1v1h-1zM465.0 408.3h1v1h-1zM483.1 409.3h1v1h-1zM443.3 410.4h1v1h-1zM410.1 411.3h1v1h-1zM480.4 411.2h1v1h-1zM417.3 412.2h1v1h-1zM438.2 412.1h1v1h-1zM440.0 413.3h1v1h-1zM482.4 414.3h1v1h-1zM437.3 417.3h1v1h-1zM476.1 417.3h1v1h-1zM491.2 417.0h1v1h-1zM430.4 418.4h1v1h-1zM475.0 418.2h1v1h-1zM477.2 418.3h1v1h-1zM491.1 418.3h1v1h-1zM496.2 419.1h1v1h-1zM413.0 420.3h1v1h-1zM414.2 422.4h1v1h-1zM412.1 424.3h1v1h-1zM451.3 424.3h1v1h-1zM414.1 425.1h1v1h-1zM417.4 425.1h1v1h-1zM479.2 428.3h1v1h-1zM431.1 429.4h1v1h-1zM440.4 430.1h1v1h-1zM451.2 430.2h1v1h-1zM426.2 431.2h1v1h-1zM432.1 431.1h1v1h-1zM464.4 431.2h1v1h-1zM444.3 432.1h1v1h-1zM492.3 434.0h1v1h-1zM433.2 436.1h1v1h-1z" fill="#c8c8c8"/>
</g>
<line x1="452.70" y1="348.90" x2="452.70" y2="443.90" stroke="#222" stroke-width="1.00"/>
<line x1="408.30" y1="389.00" x2="502.50" y2="389.00" stroke="#222" stroke-width="1.00"/>
<rect x="408.30" y="348.90" width="94.20" height="95.00" fill="none" stroke="#000" stroke-width="1.30"/>
<line x1="406.70" y1="361.00" x2="408.30" y2="361.00" stroke="#555" stroke-width="0.80"/>
<line x1="406.70" y1="366.00" x2="408.30" y2="366.00" stroke="#555" stroke-width="0.80"/>
<line x1="406.70" y1="372.00" x2="408.30" y2="372.00" stroke="#555" stroke-width="0.80"/>
<line x1="406.70" y1="395.00" x2="408.30" y2="395.00" stroke="#555" stroke-width="0.80"/>
<line x1="406.70" y1="405.00" x2="408.30" y2="405.00" stroke="#555" stroke-width="0.80"/>
<line x1="406.70" y1="420.00" x2="408.30" y2="420.00" stroke="#555" stroke-width="0.80"/>
<line x1="406.70" y1="432.00" x2="408.30" y2="432.00" stroke="#555" stroke-width="0.80"/>
<line x1="406.70" y1="438.00" x2="408.30" y2="438.00" stroke="#555" stroke-width="0.80"/>
<line x1="414.30" y1="443.90" x2="414.30" y2="445.50" stroke="#555" stroke-width="0.80"/>
<line x1="420.30" y1="443.90" x2="420.30" y2="445.50" stroke="#555" stroke-width="0.80"/>
<line x1="438.30" y1="443.90" x2="438.30" y2="445.50" stroke="#555" stroke-width="0.80"/>
<line x1="456.30" y1="443.90" x2="456.30" y2="445.50" stroke="#555" stroke-width="0.80"/>
<line x1="470.30" y1="443.90" x2="470.30" y2="445.50" stroke="#555" stroke-width="0.80"/>
<line x1="488.30" y1="443.90" x2="488.30" y2="445.50" stroke="#555" stroke-width="0.80"/>
<text x="410.10" y="357.20" font-size="8.30" style="stroke-width:0.13px">0.157</text>
<text x="410.10" y="365.90" font-size="8.30" style="stroke-width:0.13px">±0.00002%</text>
<text x="454.90" y="357.20" font-size="8.30" style="stroke-width:0.13px">0.016</text>
<text x="454.90" y="365.90" font-size="8.30" style="stroke-width:0.13px">±0.00005%</text>
<text x="454.90" y="430.60" font-size="8.30" style="stroke-width:0.13px">0.013</text>
<text x="454.90" y="439.30" font-size="8.30" style="stroke-width:0.13px">±0.00001%</text>
<line x1="296.30" y1="374.00" x2="296.30" y2="411.30" stroke="#000" stroke-width="1.40"/>
<polygon points="291.70,375.20 300.90,375.20 296.30,360.00" fill="#000"/>
<text x="300.20" y="431.30" font-size="11.00" text-anchor="middle" transform="rotate(-90 300.20 431.30)">CD48</text>
<text x="306.00" y="458.30" font-size="11.00">CD150</text>
<line x1="348.80" y1="455.20" x2="480.00" y2="455.20" stroke="#000" stroke-width="1.15"/>
<polygon points="478.00,449.80 478.00,460.20 495.80,455.00" fill="#000"/>
<text x="171.75" y="643.70" font-size="16.40" font-weight="bold">J</text>
<text x="233.60" y="640.20" font-size="7.60" style="stroke-width:0.13px">gated on LSKs</text>
<clipPath id="jc21"><rect x="228.30" y="644.40" width="59.60" height="59.90"/></clipPath>
<g clip-path="url(#jc21)">
<ellipse cx="252.00" cy="661.50" rx="13" ry="5.5" fill="#000" opacity="0.22" filter="url(#b3)"/>
<ellipse cx="268.80" cy="661.50" rx="6" ry="4" fill="#000" opacity="0.10" filter="url(#b3)"/>
<ellipse cx="253.00" cy="679.90" rx="10" ry="4" fill="#000" opacity="0.07" filter="url(#b3)"/>
<ellipse cx="277.80" cy="681.80" rx="5.5" ry="6" fill="#000" opacity="0.30" filter="url(#b2)"/>
<ellipse cx="278.30" cy="681.30" rx="2.6" ry="3" fill="#000" opacity="0.45" filter="url(#b1)"/>
</g>
<g filter="url(#dotblur)">
<path d="M278.1 677.1h1v1h-1zM276.4 678.1h1v1h-1zM278.0 679.1h1v1h-1zM279.1 679.0h1v1h-1zM280.2 679.3h1v1h-1zM275.3 680.1h1v1h-1zM277.0 680.1h1v1h-1zM278.2 680.2h1v1h-1zM279.1 680.2h1v1h-1zM280.2 680.2h1v1h-1zM276.4 681.3h1v1h-1zM277.2 681.3h1v1h-1zM278.4 681.3h1v1h-1zM279.2 681.1h1v1h-1zM280.3 681.1h1v1h-1zM277.3 682.2h1v1h-1zM278.4 682.1h1v1h-1zM279.1 682.0h1v1h-1zM280.4 682.4h1v1h-1zM275.0 683.3h1v1h-1zM276.2 683.2h1v1h-1zM278.1 683.0h1v1h-1zM279.3 683.4h1v1h-1z" fill="#383838"/>
<path d="M246.2 657.3h1v1h-1zM249.1 657.3h1v1h-1zM252.3 658.2h1v1h-1zM253.1 658.4h1v1h-1zM254.2 658.0h1v1h-1zM255.0 658.4h1v1h-1zM247.3 659.1h1v1h-1zM250.2 659.2h1v1h-1zM255.3 659.1h1v1h-1zM256.2 659.3h1v1h-1zM256.0 660.3h1v1h-1zM260.3 660.3h1v1h-1zM244.4 661.3h1v1h-1zM255.3 661.0h1v1h-1zM256.2 661.1h1v1h-1zM257.3 661.1h1v1h-1zM251.4 662.3h1v1h-1zM252.1 662.0h1v1h-1zM253.4 662.4h1v1h-1zM256.1 662.0h1v1h-1zM251.1 663.4h1v1h-1zM254.2 663.2h1v1h-1zM257.2 663.3h1v1h-1zM250.1 664.1h1v1h-1zM256.4 664.3h1v1h-1zM258.1 664.3h1v1h-1zM247.2 665.1h1v1h-1zM248.3 665.0h1v1h-1zM255.1 665.2h1v1h-1zM274.3 675.2h1v1h-1zM278.2 676.2h1v1h-1zM274.3 677.2h1v1h-1zM275.1 677.3h1v1h-1zM276.3 677.2h1v1h-1zM277.4 677.1h1v1h-1zM275.2 678.3h1v1h-1zM277.2 678.2h1v1h-1zM278.0 678.3h1v1h-1zM279.1 678.1h1v1h-1zM274.1 679.2h1v1h-1zM276.1 679.4h1v1h-1zM277.1 679.2h1v1h-1zM273.0 680.3h1v1h-1zM276.3 680.1h1v1h-1zM275.2 681.4h1v1h-1zM281.2 681.2h1v1h-1zM275.4 682.3h1v1h-1zM276.0 682.3h1v1h-1zM281.4 682.1h1v1h-1zM274.1 683.3h1v1h-1zM277.3 683.0h1v1h-1zM276.1 684.3h1v1h-1zM277.2 684.3h1v1h-1zM278.2 684.0h1v1h-1zM275.2 685.3h1v1h-1zM276.4 685.1h1v1h-1zM277.3 685.1h1v1h-1zM279.4 686.1h1v1h-1z" fill="#626262"/>
<path d="M249.2 647.3h1v1h-1zM257.0 652.3h1v1h-1zM231.2 653.3h1v1h-1zM242.1 653.1h1v1h-1zM267.2 653.2h1v1h-1zM243.1 654.1h1v1h-1zM247.4 654.0h1v1h-1zM248.2 654.3h1v1h-1zM252.1 654.2h1v1h-1zM255.1 654.3h1v1h-1zM260.3 654.2h1v1h-1zM246.2 655.1h1v1h-1zM253.1 655.1h1v1h-1zM270.2 655.4h1v1h-1zM238.3 656.4h1v1h-1zM250.4 656.0h1v1h-1zM254.2 656.3h1v1h-1zM258.3 656.1h1v1h-1zM259.1 656.2h1v1h-1zM260.3 656.2h1v1h-1zM274.4 656.2h1v1h-1zM230.2 657.2h1v1h-1zM243.2 657.2h1v1h-1zM251.3 657.1h1v1h-1zM254.0 657.2h1v1h-1zM255.0 657.2h1v1h-1zM263.1 657.4h1v1h-1zM265.3 657.2h1v1h-1zM237.0 658.3h1v1h-1zM247.4 658.2h1v1h-1zM248.3 658.0h1v1h-1zM259.4 658.4h1v1h-1zM262.1 658.2h1v1h-1zM264.2 658.1h1v1h-1zM272.4 658.3h1v1h-1zM243.3 659.1h1v1h-1zM246.3 659.3h1v1h-1zM251.3 659.1h1v1h-1zM254.2 659.4h1v1h-1zM259.2 659.1h1v1h-1zM265.3 659.0h1v1h-1zM266.0 659.2h1v1h-1zM267.3 659.3h1v1h-1zM268.0 659.1h1v1h-1zM270.0 659.1h1v1h-1zM231.2 660.3h1v1h-1zM242.2 660.2h1v1h-1zM243.1 660.0h1v1h-1zM244.3 660.3h1v1h-1zM247.3 660.2h1v1h-1zM248.3 660.4h1v1h-1zM250.3 660.3h1v1h-1zM251.3 660.1h1v1h-1zM252.1 660.0h1v1h-1zM265.3 660.3h1v1h-1zM271.2 660.0h1v1h-1zM242.2 661.1h1v1h-1zM243.2 661.1h1v1h-1zM245.1 661.1h1v1h-1zM246.2 661.1h1v1h-1zM247.4 661.3h1v1h-1zM248.0 661.1h1v1h-1zM250.3 661.3h1v1h-1zM253.2 661.3h1v1h-1zM254.1 661.4h1v1h-1zM259.1 661.4h1v1h-1zM260.0 661.1h1v1h-1zM261.1 661.2h1v1h-1zM262.3 661.2h1v1h-1zM270.2 661.1h1v1h-1zM242.4 662.4h1v1h-1zM243.0 662.4h1v1h-1zM245.4 662.1h1v1h-1zM248.1 662.1h1v1h-1zM258.2 662.2h1v1h-1zM259.1 662.3h1v1h-1zM260.2 662.2h1v1h-1zM267.4 662.4h1v1h-1zM269.4 662.3h1v1h-1zM235.1 663.3h1v1h-1zM238.3 663.0h1v1h-1zM239.1 663.2h1v1h-1zM240.3 663.2h1v1h-1zM243.4 663.2h1v1h-1zM247.4 663.2h1v1h-1zM253.2 663.3h1v1h-1zM262.2 663.1h1v1h-1zM285.3 663.3h1v1h-1zM231.4 664.1h1v1h-1zM234.2 664.1h1v1h-1zM239.4 664.0h1v1h-1zM241.4 664.2h1v1h-1zM242.0 664.0h1v1h-1zM245.1 664.3h1v1h-1zM247.3 664.1h1v1h-1zM248.1 664.1h1v1h-1zM257.0 664.1h1v1h-1zM262.1 664.3h1v1h-1zM282.4 664.0h1v1h-1zM240.2 665.2h1v1h-1zM243.3 665.0h1v1h-1zM246.3 665.1h1v1h-1zM249.3 665.1h1v1h-1zM252.2 665.3h1v1h-1zM254.4 665.1h1v1h-1zM256.1 665.0h1v1h-1zM259.0 665.1h1v1h-1zM261.4 665.3h1v1h-1zM279.4 665.1h1v1h-1zM231.2 666.4h1v1h-1zM246.3 666.2h1v1h-1zM254.0 666.2h1v1h-1zM256.0 666.2h1v1h-1zM260.3 666.1h1v1h-1zM241.1 667.3h1v1h-1zM248.2 667.2h1v1h-1zM249.3 667.3h1v1h-1zM253.1 667.0h1v1h-1zM255.3 667.1h1v1h-1zM257.2 667.4h1v1h-1zM268.2 667.3h1v1h-1zM275.3 667.4h1v1h-1zM254.0 668.1h1v1h-1zM256.2 668.3h1v1h-1zM272.3 668.3h1v1h-1zM248.0 669.1h1v1h-1zM253.3 669.0h1v1h-1zM254.1 669.2h1v1h-1zM257.2 669.2h1v1h-1zM259.1 669.2h1v1h-1zM269.2 669.3h1v1h-1zM240.4 670.4h1v1h-1zM241.4 670.2h1v1h-1zM251.0 670.3h1v1h-1zM254.3 670.1h1v1h-1zM263.4 670.4h1v1h-1zM241.4 672.3h1v1h-1zM249.1 672.1h1v1h-1zM254.1 672.2h1v1h-1zM278.2 672.3h1v1h-1zM275.3 673.2h1v1h-1zM278.2 673.4h1v1h-1zM283.2 673.4h1v1h-1zM236.2 674.2h1v1h-1zM253.0 674.0h1v1h-1zM279.4 674.4h1v1h-1zM282.1 674.1h1v1h-1zM269.4 675.1h1v1h-1zM270.3 675.0h1v1h-1zM271.1 675.1h1v1h-1zM272.2 675.3h1v1h-1zM282.4 675.0h1v1h-1zM270.3 676.3h1v1h-1zM273.1 676.2h1v1h-1zM276.1 676.1h1v1h-1zM277.2 676.1h1v1h-1zM260.4 677.2h1v1h-1zM270.0 677.2h1v1h-1zM273.3 677.1h1v1h-1zM282.1 677.1h1v1h-1zM284.3 677.0h1v1h-1zM233.2 678.2h1v1h-1zM251.2 678.1h1v1h-1zM264.2 678.3h1v1h-1zM281.3 678.2h1v1h-1zM252.0 679.3h1v1h-1zM255.0 679.1h1v1h-1zM264.4 679.4h1v1h-1zM266.2 679.1h1v1h-1zM270.1 679.3h1v1h-1zM271.1 679.2h1v1h-1zM286.0 679.4h1v1h-1zM264.0 680.3h1v1h-1zM271.3 680.1h1v1h-1zM282.1 680.2h1v1h-1zM283.1 680.3h1v1h-1zM268.3 681.2h1v1h-1zM274.0 681.3h1v1h-1zM267.3 682.0h1v1h-1zM270.4 682.4h1v1h-1zM271.1 682.3h1v1h-1zM273.1 682.1h1v1h-1zM283.2 682.3h1v1h-1zM231.3 683.1h1v1h-1zM270.4 683.2h1v1h-1zM273.2 683.2h1v1h-1zM280.1 683.1h1v1h-1zM283.2 683.1h1v1h-1zM273.4 684.3h1v1h-1zM274.3 684.3h1v1h-1zM275.3 684.4h1v1h-1zM283.3 684.0h1v1h-1zM271.4 685.3h1v1h-1zM279.1 685.2h1v1h-1zM271.3 686.1h1v1h-1zM274.4 686.2h1v1h-1zM277.4 686.4h1v1h-1zM280.1 686.1h1v1h-1zM271.1 687.4h1v1h-1zM272.2 687.2h1v1h-1zM281.2 687.1h1v1h-1zM274.2 688.2h1v1h-1zM278.3 688.4h1v1h-1zM245.3 689.1h1v1h-1zM276.1 689.0h1v1h-1zM279.2 689.4h1v1h-1zM274.3 690.0h1v1h-1zM281.2 690.2h1v1h-1zM269.1 691.2h1v1h-1zM282.3 691.3h1v1h-1zM271.4 692.3h1v1h-1zM273.0 692.3h1v1h-1zM280.1 692.0h1v1h-1zM247.4 693.0h1v1h-1zM273.2 693.1h1v1h-1zM266.2 697.2h1v1h-1zM273.1 697.3h1v1h-1z" fill="#8a8a8a"/>
<path d="M255.4 651.1h1v1h-1zM272.3 651.0h1v1h-1zM233.2 652.4h1v1h-1zM237.1 652.4h1v1h-1zM264.3 652.2h1v1h-1zM265.0 652.0h1v1h-1zM253.4 653.2h1v1h-1zM259.3 653.2h1v1h-1zM265.0 653.1h1v1h-1zM245.3 654.3h1v1h-1zM276.3 654.1h1v1h-1zM240.3 655.2h1v1h-1zM241.4 655.4h1v1h-1zM243.0 655.3h1v1h-1zM259.0 655.3h1v1h-1zM272.1 656.2h1v1h-1zM229.4 657.3h1v1h-1zM273.0 657.3h1v1h-1zM260.4 658.1h1v1h-1zM268.4 658.0h1v1h-1zM273.4 658.2h1v1h-1zM232.4 659.1h1v1h-1zM262.1 659.3h1v1h-1zM264.2 659.4h1v1h-1zM241.1 660.1h1v1h-1zM264.1 660.2h1v1h-1zM266.3 660.1h1v1h-1zM240.2 661.3h1v1h-1zM266.4 661.3h1v1h-1zM240.3 662.4h1v1h-1zM277.3 662.1h1v1h-1zM264.3 663.1h1v1h-1zM267.2 663.3h1v1h-1zM268.0 663.3h1v1h-1zM246.1 664.3h1v1h-1zM233.3 665.2h1v1h-1zM239.3 665.2h1v1h-1zM244.2 665.1h1v1h-1zM236.1 666.0h1v1h-1zM239.2 666.3h1v1h-1zM244.3 666.2h1v1h-1zM231.0 667.1h1v1h-1zM232.0 667.2h1v1h-1zM242.1 667.2h1v1h-1zM243.3 667.1h1v1h-1zM254.2 667.1h1v1h-1zM258.1 667.4h1v1h-1zM274.3 667.1h1v1h-1zM276.2 667.3h1v1h-1zM248.2 668.1h1v1h-1zM249.0 668.2h1v1h-1zM255.0 668.2h1v1h-1zM231.0 669.4h1v1h-1zM242.1 669.0h1v1h-1zM270.3 669.3h1v1h-1zM253.4 670.1h1v1h-1zM250.1 671.1h1v1h-1zM247.2 672.1h1v1h-1zM259.1 672.2h1v1h-1zM277.1 672.2h1v1h-1zM269.1 673.1h1v1h-1zM272.4 673.2h1v1h-1zM244.4 674.1h1v1h-1zM250.1 674.4h1v1h-1zM266.3 674.2h1v1h-1zM268.0 674.1h1v1h-1zM270.2 674.2h1v1h-1zM247.1 675.2h1v1h-1zM242.0 677.1h1v1h-1zM247.2 677.4h1v1h-1zM251.1 677.2h1v1h-1zM260.1 678.0h1v1h-1zM267.2 678.2h1v1h-1zM269.1 678.3h1v1h-1zM270.3 678.3h1v1h-1zM237.2 679.1h1v1h-1zM244.3 679.4h1v1h-1zM253.3 679.3h1v1h-1zM263.3 679.2h1v1h-1zM259.2 680.2h1v1h-1zM269.1 680.3h1v1h-1zM239.2 681.4h1v1h-1zM242.2 682.1h1v1h-1zM256.4 682.1h1v1h-1zM269.3 682.3h1v1h-1zM236.4 683.3h1v1h-1zM265.1 683.0h1v1h-1zM235.3 684.3h1v1h-1zM241.0 684.0h1v1h-1zM254.2 684.1h1v1h-1zM266.0 684.2h1v1h-1zM267.4 684.1h1v1h-1zM252.3 685.2h1v1h-1zM270.1 685.2h1v1h-1zM273.0 685.0h1v1h-1zM266.4 686.4h1v1h-1zM250.2 687.4h1v1h-1zM254.1 687.1h1v1h-1zM266.1 687.3h1v1h-1zM278.3 687.4h1v1h-1zM242.4 688.3h1v1h-1zM277.0 688.0h1v1h-1zM281.2 691.0h1v1h-1zM285.0 691.1h1v1h-1zM232.4 694.0h1v1h-1zM275.3 694.3h1v1h-1zM285.2 695.2h1v1h-1z" fill="#acacac"/>
</g>
<line x1="262.80" y1="644.40" x2="262.80" y2="704.30" stroke="#333" stroke-width="0.90"/>
<line x1="228.30" y1="671.90" x2="287.90" y2="671.90" stroke="#333" stroke-width="0.90"/>
<rect x="228.30" y="644.40" width="59.60" height="59.90" fill="none" stroke="#000" stroke-width="1.50"/>
<line x1="226.80" y1="652.40" x2="228.30" y2="652.40" stroke="#666" stroke-width="0.70"/>
<line x1="226.80" y1="664.40" x2="228.30" y2="664.40" stroke="#666" stroke-width="0.70"/>
<line x1="226.80" y1="677.40" x2="228.30" y2="677.40" stroke="#666" stroke-width="0.70"/>
<line x1="226.80" y1="689.40" x2="228.30" y2="689.40" stroke="#666" stroke-width="0.70"/>
<line x1="226.80" y1="696.40" x2="228.30" y2="696.40" stroke="#666" stroke-width="0.70"/>
<line x1="234.30" y1="704.30" x2="234.30" y2="705.80" stroke="#666" stroke-width="0.70"/>
<line x1="242.30" y1="704.30" x2="242.30" y2="705.80" stroke="#666" stroke-width="0.70"/>
<line x1="255.30" y1="704.30" x2="255.30" y2="705.80" stroke="#666" stroke-width="0.70"/>
<line x1="268.30" y1="704.30" x2="268.30" y2="705.80" stroke="#666" stroke-width="0.70"/>
<line x1="280.30" y1="704.30" x2="280.30" y2="705.80" stroke="#666" stroke-width="0.70"/>
<line x1="288.00" y1="671.90" x2="299.50" y2="671.90" stroke="#000" stroke-width="1.40"/>
<polygon points="298.50,666.10 298.50,677.70 315.10,671.90" fill="#000"/>
<clipPath id="jc22"><rect x="228.30" y="711.10" width="59.60" height="60.30"/></clipPath>
<g clip-path="url(#jc22)">
<ellipse cx="249.00" cy="730.00" rx="13" ry="5.5" fill="#000" opacity="0.26" filter="url(#b3)"/>
<ellipse cx="268.80" cy="730.00" rx="6" ry="4" fill="#000" opacity="0.10" filter="url(#b3)"/>
<ellipse cx="250.00" cy="746.60" rx="10" ry="4" fill="#000" opacity="0.07" filter="url(#b3)"/>
<ellipse cx="276.10" cy="747.10" rx="5.5" ry="6" fill="#000" opacity="0.30" filter="url(#b2)"/>
<ellipse cx="276.60" cy="746.60" rx="2.6" ry="3" fill="#000" opacity="0.45" filter="url(#b1)"/>
</g>
<g filter="url(#dotblur)">
<path d="M276.0 743.2h1v1h-1zM274.4 744.1h1v1h-1zM275.2 744.4h1v1h-1zM276.1 744.3h1v1h-1zM274.1 745.2h1v1h-1zM277.3 745.3h1v1h-1zM279.1 745.2h1v1h-1zM273.0 746.3h1v1h-1zM274.2 746.2h1v1h-1zM275.2 746.0h1v1h-1zM276.3 746.2h1v1h-1zM277.1 746.1h1v1h-1zM273.4 747.3h1v1h-1zM274.2 747.1h1v1h-1zM275.3 747.3h1v1h-1zM276.4 747.4h1v1h-1zM277.2 747.3h1v1h-1zM279.2 747.1h1v1h-1zM273.3 748.1h1v1h-1zM275.3 748.2h1v1h-1zM276.3 748.0h1v1h-1zM277.3 748.2h1v1h-1zM275.3 749.2h1v1h-1zM277.1 749.4h1v1h-1z" fill="#383838"/>
<path d="M250.0 725.3h1v1h-1zM244.1 726.2h1v1h-1zM245.1 726.2h1v1h-1zM248.2 726.4h1v1h-1zM252.4 726.3h1v1h-1zM244.3 727.1h1v1h-1zM246.1 727.3h1v1h-1zM247.1 727.0h1v1h-1zM248.2 727.1h1v1h-1zM249.3 727.2h1v1h-1zM251.3 727.4h1v1h-1zM252.2 727.0h1v1h-1zM254.2 727.3h1v1h-1zM255.1 727.1h1v1h-1zM256.2 727.0h1v1h-1zM243.2 728.3h1v1h-1zM248.1 728.2h1v1h-1zM249.1 728.1h1v1h-1zM250.3 728.4h1v1h-1zM251.4 728.4h1v1h-1zM253.2 728.3h1v1h-1zM254.2 728.4h1v1h-1zM259.2 728.3h1v1h-1zM244.2 729.2h1v1h-1zM247.4 729.2h1v1h-1zM249.3 729.2h1v1h-1zM250.4 729.1h1v1h-1zM253.2 729.3h1v1h-1zM243.2 730.4h1v1h-1zM246.4 730.1h1v1h-1zM249.1 730.1h1v1h-1zM250.2 730.0h1v1h-1zM252.3 730.3h1v1h-1zM253.1 730.1h1v1h-1zM255.3 730.0h1v1h-1zM245.1 731.2h1v1h-1zM249.1 731.3h1v1h-1zM251.1 731.3h1v1h-1zM252.0 731.3h1v1h-1zM253.1 731.3h1v1h-1zM256.2 731.3h1v1h-1zM258.4 731.2h1v1h-1zM250.1 732.2h1v1h-1zM252.0 732.1h1v1h-1zM253.1 732.3h1v1h-1zM254.1 732.4h1v1h-1zM247.3 733.1h1v1h-1zM249.2 733.1h1v1h-1zM250.0 733.4h1v1h-1zM251.3 733.4h1v1h-1zM250.4 734.2h1v1h-1zM254.0 734.2h1v1h-1zM275.3 740.2h1v1h-1zM276.4 740.2h1v1h-1zM277.1 741.3h1v1h-1zM271.3 742.2h1v1h-1zM275.1 742.0h1v1h-1zM277.2 742.4h1v1h-1zM272.3 743.2h1v1h-1zM275.4 743.2h1v1h-1zM277.2 744.2h1v1h-1zM280.1 744.1h1v1h-1zM271.3 745.0h1v1h-1zM272.1 745.1h1v1h-1zM273.3 745.0h1v1h-1zM275.4 745.0h1v1h-1zM276.3 745.2h1v1h-1zM278.1 745.1h1v1h-1zM272.4 746.3h1v1h-1zM278.3 746.0h1v1h-1zM279.3 746.2h1v1h-1zM272.2 748.2h1v1h-1zM274.2 748.2h1v1h-1zM278.2 748.3h1v1h-1zM279.1 748.4h1v1h-1zM274.3 749.1h1v1h-1zM276.4 749.1h1v1h-1zM273.4 750.1h1v1h-1zM274.0 750.2h1v1h-1zM276.4 751.4h1v1h-1zM276.1 752.1h1v1h-1z" fill="#626262"/>
<path d="M232.2 716.1h1v1h-1zM267.1 717.3h1v1h-1zM258.1 719.1h1v1h-1zM246.2 720.2h1v1h-1zM243.1 721.4h1v1h-1zM262.2 721.0h1v1h-1zM285.3 721.3h1v1h-1zM234.1 722.2h1v1h-1zM255.1 722.3h1v1h-1zM238.0 723.1h1v1h-1zM244.3 723.2h1v1h-1zM247.1 723.3h1v1h-1zM255.0 723.2h1v1h-1zM266.4 723.2h1v1h-1zM236.4 724.2h1v1h-1zM246.0 724.1h1v1h-1zM249.2 724.3h1v1h-1zM254.3 724.1h1v1h-1zM256.4 724.3h1v1h-1zM261.3 724.1h1v1h-1zM272.1 724.1h1v1h-1zM273.2 724.3h1v1h-1zM235.3 725.3h1v1h-1zM241.1 725.3h1v1h-1zM242.1 725.2h1v1h-1zM244.1 725.3h1v1h-1zM247.1 725.2h1v1h-1zM248.1 725.3h1v1h-1zM254.2 725.1h1v1h-1zM230.4 726.1h1v1h-1zM242.3 726.1h1v1h-1zM243.2 726.3h1v1h-1zM247.1 726.0h1v1h-1zM251.1 726.2h1v1h-1zM257.2 726.1h1v1h-1zM268.1 726.2h1v1h-1zM269.0 726.2h1v1h-1zM272.0 726.4h1v1h-1zM234.2 727.2h1v1h-1zM242.3 727.3h1v1h-1zM253.1 727.3h1v1h-1zM258.3 727.3h1v1h-1zM261.1 727.2h1v1h-1zM279.1 727.2h1v1h-1zM237.2 728.1h1v1h-1zM238.4 728.3h1v1h-1zM242.1 728.2h1v1h-1zM247.3 728.2h1v1h-1zM264.4 728.4h1v1h-1zM267.4 728.2h1v1h-1zM268.1 728.0h1v1h-1zM274.1 728.1h1v1h-1zM236.3 729.4h1v1h-1zM239.2 729.3h1v1h-1zM241.3 729.1h1v1h-1zM242.1 729.0h1v1h-1zM246.0 729.0h1v1h-1zM255.1 729.2h1v1h-1zM258.2 729.1h1v1h-1zM260.2 729.4h1v1h-1zM272.1 729.2h1v1h-1zM238.3 730.1h1v1h-1zM239.2 730.1h1v1h-1zM242.3 730.2h1v1h-1zM244.2 730.1h1v1h-1zM257.1 730.2h1v1h-1zM258.0 730.1h1v1h-1zM259.3 730.3h1v1h-1zM281.0 730.1h1v1h-1zM236.4 731.2h1v1h-1zM237.1 731.0h1v1h-1zM255.4 731.4h1v1h-1zM263.1 731.1h1v1h-1zM265.4 731.2h1v1h-1zM279.3 731.2h1v1h-1zM232.3 732.4h1v1h-1zM233.1 732.1h1v1h-1zM235.4 732.3h1v1h-1zM237.0 732.0h1v1h-1zM239.0 732.1h1v1h-1zM241.0 732.3h1v1h-1zM242.1 732.3h1v1h-1zM247.4 732.0h1v1h-1zM251.0 732.1h1v1h-1zM256.3 732.1h1v1h-1zM258.1 732.1h1v1h-1zM261.3 732.3h1v1h-1zM264.2 732.1h1v1h-1zM265.4 732.3h1v1h-1zM268.1 732.3h1v1h-1zM270.0 732.4h1v1h-1zM246.1 733.1h1v1h-1zM248.1 733.3h1v1h-1zM252.1 733.2h1v1h-1zM260.2 733.1h1v1h-1zM236.2 734.3h1v1h-1zM238.0 734.2h1v1h-1zM243.0 734.4h1v1h-1zM245.3 734.3h1v1h-1zM248.0 734.1h1v1h-1zM249.3 734.2h1v1h-1zM251.4 734.4h1v1h-1zM253.2 734.3h1v1h-1zM255.3 734.2h1v1h-1zM264.2 734.3h1v1h-1zM240.3 735.1h1v1h-1zM242.2 735.0h1v1h-1zM243.2 735.2h1v1h-1zM252.0 735.4h1v1h-1zM255.3 735.1h1v1h-1zM256.1 735.2h1v1h-1zM274.3 735.3h1v1h-1zM236.2 736.2h1v1h-1zM240.1 736.2h1v1h-1zM242.1 736.3h1v1h-1zM248.2 736.2h1v1h-1zM249.3 736.3h1v1h-1zM257.4 736.2h1v1h-1zM266.2 736.2h1v1h-1zM268.4 736.1h1v1h-1zM236.3 737.1h1v1h-1zM251.2 738.1h1v1h-1zM256.4 738.0h1v1h-1zM258.0 738.3h1v1h-1zM265.4 738.1h1v1h-1zM273.2 738.1h1v1h-1zM246.0 739.4h1v1h-1zM265.2 739.1h1v1h-1zM266.3 739.3h1v1h-1zM268.1 739.1h1v1h-1zM275.0 739.0h1v1h-1zM282.1 739.0h1v1h-1zM256.1 740.2h1v1h-1zM260.0 740.3h1v1h-1zM273.3 740.0h1v1h-1zM277.0 740.4h1v1h-1zM280.1 740.4h1v1h-1zM281.1 740.2h1v1h-1zM232.0 741.2h1v1h-1zM252.1 741.3h1v1h-1zM272.0 741.3h1v1h-1zM274.3 741.1h1v1h-1zM276.0 741.2h1v1h-1zM278.4 741.1h1v1h-1zM245.2 742.3h1v1h-1zM255.1 742.3h1v1h-1zM273.1 742.2h1v1h-1zM274.2 742.1h1v1h-1zM279.4 742.2h1v1h-1zM233.1 743.0h1v1h-1zM238.3 743.2h1v1h-1zM251.2 743.4h1v1h-1zM258.1 743.2h1v1h-1zM264.2 743.4h1v1h-1zM271.0 743.3h1v1h-1zM279.4 743.4h1v1h-1zM281.1 743.3h1v1h-1zM245.1 744.1h1v1h-1zM249.1 744.2h1v1h-1zM251.2 744.2h1v1h-1zM258.4 744.2h1v1h-1zM270.3 744.1h1v1h-1zM271.4 744.3h1v1h-1zM251.1 745.2h1v1h-1zM270.0 745.3h1v1h-1zM280.3 745.1h1v1h-1zM283.2 745.0h1v1h-1zM252.2 746.1h1v1h-1zM271.1 746.2h1v1h-1zM281.2 746.0h1v1h-1zM285.1 746.1h1v1h-1zM237.1 747.3h1v1h-1zM238.1 747.2h1v1h-1zM243.0 747.3h1v1h-1zM267.3 747.3h1v1h-1zM272.3 747.1h1v1h-1zM256.3 748.1h1v1h-1zM262.2 748.1h1v1h-1zM264.4 748.3h1v1h-1zM270.0 748.1h1v1h-1zM271.2 748.4h1v1h-1zM248.2 749.1h1v1h-1zM261.3 749.3h1v1h-1zM271.2 749.0h1v1h-1zM272.2 749.0h1v1h-1zM278.2 749.2h1v1h-1zM280.1 749.2h1v1h-1zM282.1 749.3h1v1h-1zM264.1 750.4h1v1h-1zM272.2 750.3h1v1h-1zM275.4 750.1h1v1h-1zM239.0 751.1h1v1h-1zM270.4 751.3h1v1h-1zM271.2 751.0h1v1h-1zM272.4 751.4h1v1h-1zM273.3 751.1h1v1h-1zM277.3 751.2h1v1h-1zM274.2 752.3h1v1h-1zM279.2 752.3h1v1h-1zM281.1 752.2h1v1h-1zM269.2 753.4h1v1h-1zM274.1 753.3h1v1h-1zM275.2 753.1h1v1h-1zM276.3 753.2h1v1h-1zM285.3 753.1h1v1h-1zM262.1 754.3h1v1h-1zM268.2 754.3h1v1h-1zM269.4 754.2h1v1h-1zM272.1 754.3h1v1h-1zM273.2 754.1h1v1h-1zM274.0 754.1h1v1h-1zM285.4 754.2h1v1h-1zM250.0 756.2h1v1h-1zM273.2 756.3h1v1h-1zM280.4 757.1h1v1h-1zM271.2 758.2h1v1h-1zM270.1 764.2h1v1h-1zM281.1 767.3h1v1h-1z" fill="#8a8a8a"/>
<path d="M252.1 716.3h1v1h-1zM268.4 717.2h1v1h-1zM244.3 718.3h1v1h-1zM265.1 718.3h1v1h-1zM253.2 719.3h1v1h-1zM233.3 720.3h1v1h-1zM237.1 720.2h1v1h-1zM249.0 721.1h1v1h-1zM269.3 721.3h1v1h-1zM237.1 722.0h1v1h-1zM242.3 722.4h1v1h-1zM245.1 722.4h1v1h-1zM231.2 723.2h1v1h-1zM256.1 723.2h1v1h-1zM260.1 723.3h1v1h-1zM238.1 724.3h1v1h-1zM258.2 724.4h1v1h-1zM266.2 724.4h1v1h-1zM237.2 725.4h1v1h-1zM238.0 725.3h1v1h-1zM264.3 725.0h1v1h-1zM268.2 725.2h1v1h-1zM233.3 726.3h1v1h-1zM236.3 727.1h1v1h-1zM271.2 727.2h1v1h-1zM272.0 727.3h1v1h-1zM273.2 727.3h1v1h-1zM277.3 727.0h1v1h-1zM261.1 728.0h1v1h-1zM265.4 728.3h1v1h-1zM269.1 728.3h1v1h-1zM270.4 728.0h1v1h-1zM272.2 728.0h1v1h-1zM233.1 729.2h1v1h-1zM264.0 729.3h1v1h-1zM269.1 729.3h1v1h-1zM271.3 729.1h1v1h-1zM280.3 729.2h1v1h-1zM237.2 730.1h1v1h-1zM262.1 730.3h1v1h-1zM268.2 730.3h1v1h-1zM240.1 731.1h1v1h-1zM267.2 731.1h1v1h-1zM272.2 731.1h1v1h-1zM273.4 731.3h1v1h-1zM240.3 732.2h1v1h-1zM271.4 732.0h1v1h-1zM235.0 733.3h1v1h-1zM241.0 733.1h1v1h-1zM262.1 733.2h1v1h-1zM237.1 734.3h1v1h-1zM239.0 734.4h1v1h-1zM252.0 734.4h1v1h-1zM259.0 734.1h1v1h-1zM268.3 734.3h1v1h-1zM283.3 734.1h1v1h-1zM236.3 735.2h1v1h-1zM244.4 735.3h1v1h-1zM270.1 735.1h1v1h-1zM250.1 736.1h1v1h-1zM272.2 736.3h1v1h-1zM241.0 737.2h1v1h-1zM276.1 737.3h1v1h-1zM249.3 738.3h1v1h-1zM263.2 738.2h1v1h-1zM272.3 738.3h1v1h-1zM276.3 738.1h1v1h-1zM235.3 739.3h1v1h-1zM248.3 739.1h1v1h-1zM250.2 740.4h1v1h-1zM253.3 740.4h1v1h-1zM261.2 740.2h1v1h-1zM231.2 741.3h1v1h-1zM260.4 741.3h1v1h-1zM285.4 741.3h1v1h-1zM237.0 742.2h1v1h-1zM247.4 742.2h1v1h-1zM248.2 742.1h1v1h-1zM261.3 742.2h1v1h-1zM252.4 743.2h1v1h-1zM257.4 743.4h1v1h-1zM248.4 744.1h1v1h-1zM257.3 744.3h1v1h-1zM284.1 744.3h1v1h-1zM253.2 745.2h1v1h-1zM259.2 746.1h1v1h-1zM236.0 747.3h1v1h-1zM241.1 747.3h1v1h-1zM242.0 747.2h1v1h-1zM259.3 747.3h1v1h-1zM265.1 748.3h1v1h-1zM286.3 748.2h1v1h-1zM245.2 750.0h1v1h-1zM248.3 750.1h1v1h-1zM255.3 750.4h1v1h-1zM269.0 750.0h1v1h-1zM264.3 752.1h1v1h-1zM267.3 752.2h1v1h-1zM248.2 753.1h1v1h-1zM263.0 753.2h1v1h-1zM265.2 753.3h1v1h-1zM273.1 753.4h1v1h-1zM239.0 754.3h1v1h-1zM263.3 754.3h1v1h-1zM279.2 754.3h1v1h-1zM283.0 754.2h1v1h-1zM274.4 755.3h1v1h-1zM265.0 757.3h1v1h-1zM266.1 758.2h1v1h-1zM276.4 758.3h1v1h-1zM246.3 766.3h1v1h-1z" fill="#acacac"/>
</g>
<line x1="262.80" y1="711.10" x2="262.80" y2="771.40" stroke="#333" stroke-width="0.90"/>
<line x1="228.30" y1="738.60" x2="287.90" y2="738.60" stroke="#333" stroke-width="0.90"/>
<rect x="228.30" y="711.10" width="59.60" height="60.30" fill="none" stroke="#000" stroke-width="1.50"/>
<line x1="226.80" y1="719.10" x2="228.30" y2="719.10" stroke="#666" stroke-width="0.70"/>
<line x1="226.80" y1="731.10" x2="228.30" y2="731.10" stroke="#666" stroke-width="0.70"/>
<line x1="226.80" y1="744.10" x2="228.30" y2="744.10" stroke="#666" stroke-width="0.70"/>
<line x1="226.80" y1="756.10" x2="228.30" y2="756.10" stroke="#666" stroke-width="0.70"/>
<line x1="226.80" y1="763.10" x2="228.30" y2="763.10" stroke="#666" stroke-width="0.70"/>
<line x1="234.30" y1="771.40" x2="234.30" y2="772.90" stroke="#666" stroke-width="0.70"/>
<line x1="242.30" y1="771.40" x2="242.30" y2="772.90" stroke="#666" stroke-width="0.70"/>
<line x1="255.30" y1="771.40" x2="255.30" y2="772.90" stroke="#666" stroke-width="0.70"/>
<line x1="268.30" y1="771.40" x2="268.30" y2="772.90" stroke="#666" stroke-width="0.70"/>
<line x1="280.30" y1="771.40" x2="280.30" y2="772.90" stroke="#666" stroke-width="0.70"/>
<line x1="288.00" y1="738.60" x2="299.50" y2="738.60" stroke="#000" stroke-width="1.40"/>
<polygon points="298.50,732.80 298.50,744.40 315.10,738.60" fill="#000"/>
<line x1="218.80" y1="665.00" x2="218.80" y2="748.50" stroke="#000" stroke-width="1.40"/>
<polygon points="213.00,666.50 224.60,666.50 218.80,649.90" fill="#000"/>
<text x="221.80" y="761.20" font-size="8.00" text-anchor="middle" transform="rotate(-90 221.80 761.20)" style="stroke-width:0.13px">CD48</text>
<text x="212.80" y="676.80" font-size="10.30" text-anchor="end">Control</text>
<text x="212.40" y="734.40" font-size="10.30" text-anchor="end"><tspan font-style="italic">Hif-2</tspan><tspan font-style="italic" font-family="Liberation Serif" font-size="11.85">α</tspan><tspan font-style="italic" font-size="7.21" dy="-4.12"> fl/fl</tspan><tspan font-style="italic" dy="4.12">;</tspan></text>
<text x="213.20" y="745.60" font-size="10.30" text-anchor="end"><tspan font-style="italic">Vav-iCre</tspan></text>
<text x="228.00" y="783.00" font-size="8.30" style="stroke-width:0.13px">CD150</text>
<line x1="256.20" y1="780.00" x2="271.00" y2="780.00" stroke="#000" stroke-width="1.40"/>
<polygon points="270.00,774.80 270.00,785.20 286.30,780.00" fill="#000"/>
<text x="318.00" y="783.60" font-size="8.30" style="stroke-width:0.13px">CD45.2</text>
<line x1="348.80" y1="780.90" x2="496.00" y2="780.90" stroke="#000" stroke-width="1.40"/>
<polygon points="494.40,775.40 494.40,786.60 509.20,780.90" fill="#000"/>
<path d="M330.80,704.40 L330.80,703.50 L335.70,701.00 L338.80,697.40 L341.20,691.20 L343.70,696.20 L346.80,699.80 L351.10,703.00 L352.90,701.00 L354.80,691.20 L356.60,672.80 L358.50,654.90 L359.70,669.00 L360.90,688.80 L362.20,702.30 L363.40,703.50 L363.40,704.40 Z" fill="#000"/>
<rect x="318.20" y="644.50" width="60.00" height="59.90" fill="none" stroke="#000" stroke-width="1.40"/>
<text x="375.80" y="651.70" font-size="7.00" text-anchor="end" style="stroke-width:0.13px">53.5 ± 14.18%</text>
<polyline points="351.10,656.00 351.10,653.30 366.50,653.30 366.50,656.00" fill="none" stroke="#000" stroke-width="1.3"/>
<path d="M399.60,704.40 L399.60,703.50 L401.50,701.70 L403.90,699.20 L405.20,696.80 L406.40,696.20 L407.60,698.00 L408.80,694.90 L410.10,690.60 L411.30,689.40 L412.50,692.50 L414.40,697.40 L416.80,700.50 L419.30,701.10 L420.50,694.90 L421.80,678.90 L423.00,668.50 L424.20,674.00 L425.50,691.20 L426.70,701.10 L427.90,703.50 L427.90,704.40 Z" fill="#000"/>
<rect x="385.50" y="644.50" width="59.50" height="59.90" fill="none" stroke="#000" stroke-width="1.40"/>
<text x="442.60" y="651.70" font-size="7.00" text-anchor="end" style="stroke-width:0.13px">63.8 ± 13.34%</text>
<polyline points="417.20,665.80 417.20,662.90 432.20,662.90 432.20,665.80" fill="none" stroke="#000" stroke-width="1.3"/>
<path d="M466.60,704.40 L466.60,703.50 L468.50,699.80 L470.30,698.60 L472.20,696.20 L473.40,691.20 L474.60,687.50 L475.80,686.90 L477.10,688.20 L478.30,685.70 L479.50,687.50 L480.80,690.60 L482.20,694.90 L483.80,698.60 L485.70,701.10 L487.50,699.80 L488.80,685.10 L490.00,666.60 L490.90,655.50 L491.80,666.60 L493.10,685.10 L494.30,698.60 L496.20,703.50 L496.20,704.40 Z" fill="#000"/>
<rect x="453.10" y="644.50" width="59.10" height="59.90" fill="none" stroke="#000" stroke-width="1.40"/>
<text x="509.80" y="651.70" font-size="7.00" text-anchor="end" style="stroke-width:0.13px">54.1 ± 16.14%</text>
<polyline points="485.70,656.60 485.70,653.80 500.50,653.80 500.50,656.60" fill="none" stroke="#000" stroke-width="1.3"/>
<path d="M333.20,771.40 L333.20,770.50 L336.30,768.70 L339.40,766.80 L341.80,765.40 L343.70,767.50 L346.80,769.30 L351.10,770.50 L352.90,769.30 L354.20,761.90 L355.40,745.90 L356.60,731.20 L357.50,721.30 L358.50,731.20 L359.70,752.10 L360.90,766.80 L362.20,770.50 L362.20,771.40 Z" fill="#000"/>
<rect x="318.20" y="711.20" width="60.00" height="60.20" fill="none" stroke="#000" stroke-width="1.40"/>
<text x="375.80" y="718.40" font-size="7.00" text-anchor="end" style="stroke-width:0.13px">51.4 ± 15.58%</text>
<polyline points="351.70,723.40 351.70,720.70 366.50,720.70 366.50,723.40" fill="none" stroke="#000" stroke-width="1.3"/>
<path d="M402.70,771.40 L402.70,770.50 L404.50,768.10 L406.40,765.90 L407.60,763.80 L408.60,764.40 L409.80,766.20 L411.10,761.90 L411.90,761.30 L412.80,764.40 L413.80,768.70 L415.60,769.30 L418.10,768.10 L419.90,765.60 L421.20,755.80 L422.10,741.00 L423.00,734.80 L423.90,742.20 L424.80,753.30 L426.10,756.40 L427.10,761.90 L427.90,768.10 L429.20,770.50 L429.20,771.40 Z" fill="#000"/>
<rect x="385.50" y="711.20" width="59.50" height="60.20" fill="none" stroke="#000" stroke-width="1.40"/>
<text x="442.60" y="718.40" font-size="7.00" text-anchor="end" style="stroke-width:0.13px">49.6 ± 16.06%</text>
<polyline points="416.50,734.30 416.50,731.50 432.00,731.50 432.00,734.30" fill="none" stroke="#000" stroke-width="1.3"/>
<path d="M466.00,771.40 L466.00,770.50 L468.50,769.30 L470.90,767.50 L473.40,765.60 L474.60,763.20 L475.50,759.70 L476.50,763.20 L477.70,762.50 L478.90,763.80 L480.20,766.80 L482.20,768.70 L485.10,769.90 L486.90,768.70 L488.40,760.70 L489.40,743.50 L490.40,721.30 L491.20,733.60 L492.50,752.10 L493.70,765.60 L495.50,770.50 L495.50,771.40 Z" fill="#000"/>
<rect x="453.10" y="711.20" width="59.10" height="60.20" fill="none" stroke="#000" stroke-width="1.40"/>
<text x="509.80" y="718.40" font-size="7.00" text-anchor="end" style="stroke-width:0.13px">48.6 ± 13.81%</text>
<polyline points="485.70,723.00 485.70,720.40 500.50,720.40 500.50,723.00" fill="none" stroke="#000" stroke-width="1.3"/>
<text x="318.00" y="639.90" font-size="7.60" style="stroke-width:0.13px"><tspan>LSK CD48</tspan><tspan font-size="5.32" dy="-3.04">−</tspan><tspan dy="3.04">C150</tspan><tspan font-size="5.32" dy="-3.04">+</tspan></text>
<text x="385.70" y="640.20" font-size="7.60" style="stroke-width:0.13px"><tspan>LSK CD48</tspan><tspan font-size="5.32" dy="-3.04">+</tspan><tspan dy="3.04">C150</tspan><tspan font-size="5.32" dy="-3.04">+</tspan></text>
<text x="453.80" y="640.20" font-size="7.60" style="stroke-width:0.13px"><tspan>LSK CD48</tspan><tspan font-size="5.32" dy="-3.04">+</tspan><tspan dy="3.04">CD150</tspan><tspan font-size="5.32" dy="-3.04">−</tspan></text>
</svg></body></html>
